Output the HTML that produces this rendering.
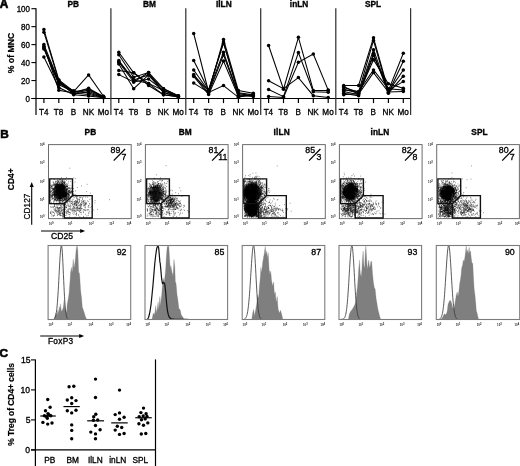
<!DOCTYPE html>
<html><head><meta charset="utf-8"><title>Figure</title>
<style>html,body{margin:0;padding:0;background:#fff;}svg{display:block;will-change:transform;filter:grayscale(1);}text{font-family:"Liberation Sans",sans-serif;}</style></head>
<body>
<svg width="520" height="466" viewBox="0 0 520 466" font-family="Liberation Sans, sans-serif">
<rect width="520" height="466" fill="#fff"/>
<defs><radialGradient id="blob"><stop offset="0" stop-color="#000" stop-opacity="1"/><stop offset="0.6" stop-color="#000" stop-opacity="0.96"/><stop offset="0.8" stop-color="#000" stop-opacity="0.62"/><stop offset="0.92" stop-color="#000" stop-opacity="0.2"/><stop offset="1" stop-color="#000" stop-opacity="0"/></radialGradient></defs>
<text transform="translate(-0.2,8.3) scale(1,1.16)" x="0" y="0" font-size="11.8" font-weight="bold" stroke="#000" stroke-width="0.6">A</text>
<line x1="36.00" y1="8.20" x2="36.00" y2="115.00" stroke="#000" stroke-width="1.2" />
<line x1="31.40" y1="98.50" x2="36.00" y2="98.50" stroke="#000" stroke-width="1.1" />
<text transform="translate(30.00,101.80) scale(0.93,1)" font-size="8.6" text-anchor="end" fill="#000" stroke="#000" stroke-width="0.32" >0</text>
<line x1="31.40" y1="80.54" x2="36.00" y2="80.54" stroke="#000" stroke-width="1.1" />
<text transform="translate(30.00,83.84) scale(0.93,1)" font-size="8.6" text-anchor="end" fill="#000" stroke="#000" stroke-width="0.32" >20</text>
<line x1="31.40" y1="62.58" x2="36.00" y2="62.58" stroke="#000" stroke-width="1.1" />
<text transform="translate(30.00,65.88) scale(0.93,1)" font-size="8.6" text-anchor="end" fill="#000" stroke="#000" stroke-width="0.32" >40</text>
<line x1="31.40" y1="44.62" x2="36.00" y2="44.62" stroke="#000" stroke-width="1.1" />
<text transform="translate(30.00,47.92) scale(0.93,1)" font-size="8.6" text-anchor="end" fill="#000" stroke="#000" stroke-width="0.32" >60</text>
<line x1="31.40" y1="26.66" x2="36.00" y2="26.66" stroke="#000" stroke-width="1.1" />
<text transform="translate(30.00,29.96) scale(0.93,1)" font-size="8.6" text-anchor="end" fill="#000" stroke="#000" stroke-width="0.32" >80</text>
<line x1="31.40" y1="8.70" x2="36.00" y2="8.70" stroke="#000" stroke-width="1.1" />
<text transform="translate(30.00,12.00) scale(0.93,1)" font-size="8.6" text-anchor="end" fill="#000" stroke="#000" stroke-width="0.32" >100</text>
<text transform="translate(14.1,53.0) rotate(-90)" font-size="8.7" font-weight="bold" stroke="#000" stroke-width="0.2" text-anchor="middle">% of MNC</text>
<line x1="31.40" y1="98.50" x2="410.60" y2="98.50" stroke="#000" stroke-width="1.1" />
<line x1="110.90" y1="8.20" x2="110.90" y2="115.00" stroke="#333" stroke-width="1.25" />
<line x1="185.80" y1="8.20" x2="185.80" y2="115.00" stroke="#333" stroke-width="1.25" />
<line x1="260.70" y1="8.20" x2="260.70" y2="115.00" stroke="#333" stroke-width="1.25" />
<line x1="335.80" y1="8.20" x2="335.80" y2="115.00" stroke="#333" stroke-width="1.25" />
<line x1="410.60" y1="8.20" x2="410.60" y2="115.00" stroke="#333" stroke-width="1.25" />
<text x="73.25" y="6.80" font-size="8.3" font-weight="bold" text-anchor="middle" fill="#000" stroke="#000" stroke-width="0.32" >PB</text>
<line x1="43.90" y1="98.50" x2="43.90" y2="103.10" stroke="#000" stroke-width="1.2" />
<text transform="translate(43.70,114.90) scale(0.95,1)" font-size="8.6" text-anchor="middle" fill="#000" stroke="#000" stroke-width="0.32" >T4</text>
<line x1="58.80" y1="98.50" x2="58.80" y2="103.10" stroke="#000" stroke-width="1.2" />
<text transform="translate(58.60,114.90) scale(0.95,1)" font-size="8.6" text-anchor="middle" fill="#000" stroke="#000" stroke-width="0.32" >T8</text>
<line x1="73.70" y1="98.50" x2="73.70" y2="103.10" stroke="#000" stroke-width="1.2" />
<text transform="translate(73.50,114.90) scale(0.95,1)" font-size="8.6" text-anchor="middle" fill="#000" stroke="#000" stroke-width="0.32" >B</text>
<line x1="88.60" y1="98.50" x2="88.60" y2="103.10" stroke="#000" stroke-width="1.2" />
<text transform="translate(88.40,114.90) scale(0.95,1)" font-size="8.6" text-anchor="middle" fill="#000" stroke="#000" stroke-width="0.32" >NK</text>
<line x1="103.50" y1="98.50" x2="103.50" y2="103.10" stroke="#000" stroke-width="1.2" />
<text transform="translate(103.30,114.90) scale(0.95,1)" font-size="8.6" text-anchor="middle" fill="#000" stroke="#000" stroke-width="0.32" >Mo</text>
<polyline points="43.9,29.6 58.8,79.8 73.7,91.5 88.6,74.9 103.5,96.2" fill="none" stroke="#000" stroke-width="1.05"/>
<circle cx="43.9" cy="29.6" r="1.75" fill="#000"/>
<circle cx="58.8" cy="79.8" r="1.75" fill="#000"/>
<circle cx="73.7" cy="91.5" r="1.75" fill="#000"/>
<circle cx="88.6" cy="74.9" r="1.75" fill="#000"/>
<circle cx="103.5" cy="96.2" r="1.75" fill="#000"/>
<polyline points="43.9,32.2 58.8,80.6 73.7,92.5 88.6,88.2 103.5,96.6" fill="none" stroke="#000" stroke-width="1.05"/>
<circle cx="43.9" cy="32.2" r="1.75" fill="#000"/>
<circle cx="58.8" cy="80.6" r="1.75" fill="#000"/>
<circle cx="73.7" cy="92.5" r="1.75" fill="#000"/>
<circle cx="88.6" cy="88.2" r="1.75" fill="#000"/>
<circle cx="103.5" cy="96.6" r="1.75" fill="#000"/>
<polyline points="43.9,44.5 58.8,81.2 73.7,93.5 88.6,90.0 103.5,97.0" fill="none" stroke="#000" stroke-width="1.05"/>
<circle cx="43.9" cy="44.5" r="1.75" fill="#000"/>
<circle cx="58.8" cy="81.2" r="1.75" fill="#000"/>
<circle cx="73.7" cy="93.5" r="1.75" fill="#000"/>
<circle cx="88.6" cy="90.0" r="1.75" fill="#000"/>
<circle cx="103.5" cy="97.0" r="1.75" fill="#000"/>
<polyline points="43.9,47.1 58.8,82.0 73.7,94.2 88.6,91.5 103.5,97.3" fill="none" stroke="#000" stroke-width="1.05"/>
<circle cx="43.9" cy="47.1" r="1.75" fill="#000"/>
<circle cx="58.8" cy="82.0" r="1.75" fill="#000"/>
<circle cx="73.7" cy="94.2" r="1.75" fill="#000"/>
<circle cx="88.6" cy="91.5" r="1.75" fill="#000"/>
<circle cx="103.5" cy="97.3" r="1.75" fill="#000"/>
<polyline points="43.9,48.9 58.8,83.0 73.7,90.8 88.6,93.0 103.5,97.6" fill="none" stroke="#000" stroke-width="1.05"/>
<circle cx="43.9" cy="48.9" r="1.75" fill="#000"/>
<circle cx="58.8" cy="83.0" r="1.75" fill="#000"/>
<circle cx="73.7" cy="90.8" r="1.75" fill="#000"/>
<circle cx="88.6" cy="93.0" r="1.75" fill="#000"/>
<circle cx="103.5" cy="97.6" r="1.75" fill="#000"/>
<polyline points="43.9,48.0 58.8,84.5 73.7,92.0 88.6,89.2 103.5,96.4" fill="none" stroke="#000" stroke-width="1.05"/>
<circle cx="43.9" cy="48.0" r="1.75" fill="#000"/>
<circle cx="58.8" cy="84.5" r="1.75" fill="#000"/>
<circle cx="73.7" cy="92.0" r="1.75" fill="#000"/>
<circle cx="88.6" cy="89.2" r="1.75" fill="#000"/>
<circle cx="103.5" cy="96.4" r="1.75" fill="#000"/>
<polyline points="43.9,57.1 58.8,87.5 73.7,94.8 88.6,96.0 103.5,97.8" fill="none" stroke="#000" stroke-width="1.05"/>
<circle cx="43.9" cy="57.1" r="1.75" fill="#000"/>
<circle cx="58.8" cy="87.5" r="1.75" fill="#000"/>
<circle cx="73.7" cy="94.8" r="1.75" fill="#000"/>
<circle cx="88.6" cy="96.0" r="1.75" fill="#000"/>
<circle cx="103.5" cy="97.8" r="1.75" fill="#000"/>
<polyline points="43.9,46.2 58.8,90.2 73.7,93.0 88.6,94.5 103.5,97.5" fill="none" stroke="#000" stroke-width="1.05"/>
<circle cx="43.9" cy="46.2" r="1.75" fill="#000"/>
<circle cx="58.8" cy="90.2" r="1.75" fill="#000"/>
<circle cx="73.7" cy="93.0" r="1.75" fill="#000"/>
<circle cx="88.6" cy="94.5" r="1.75" fill="#000"/>
<circle cx="103.5" cy="97.5" r="1.75" fill="#000"/>
<text x="149.55" y="6.80" font-size="8.3" font-weight="bold" text-anchor="middle" fill="#000" stroke="#000" stroke-width="0.32" >BM</text>
<line x1="118.80" y1="98.50" x2="118.80" y2="103.10" stroke="#000" stroke-width="1.2" />
<text transform="translate(118.60,114.90) scale(0.95,1)" font-size="8.6" text-anchor="middle" fill="#000" stroke="#000" stroke-width="0.32" >T4</text>
<line x1="133.70" y1="98.50" x2="133.70" y2="103.10" stroke="#000" stroke-width="1.2" />
<text transform="translate(133.50,114.90) scale(0.95,1)" font-size="8.6" text-anchor="middle" fill="#000" stroke="#000" stroke-width="0.32" >T8</text>
<line x1="148.60" y1="98.50" x2="148.60" y2="103.10" stroke="#000" stroke-width="1.2" />
<text transform="translate(148.40,114.90) scale(0.95,1)" font-size="8.6" text-anchor="middle" fill="#000" stroke="#000" stroke-width="0.32" >B</text>
<line x1="163.50" y1="98.50" x2="163.50" y2="103.10" stroke="#000" stroke-width="1.2" />
<text transform="translate(163.30,114.90) scale(0.95,1)" font-size="8.6" text-anchor="middle" fill="#000" stroke="#000" stroke-width="0.32" >NK</text>
<line x1="178.40" y1="98.50" x2="178.40" y2="103.10" stroke="#000" stroke-width="1.2" />
<text transform="translate(178.20,114.90) scale(0.95,1)" font-size="8.6" text-anchor="middle" fill="#000" stroke="#000" stroke-width="0.32" >Mo</text>
<polyline points="118.8,52.2 133.7,72.8 148.6,83.4 163.5,90.4 178.4,96.0" fill="none" stroke="#000" stroke-width="1.05"/>
<circle cx="118.8" cy="52.2" r="1.75" fill="#000"/>
<circle cx="133.7" cy="72.8" r="1.75" fill="#000"/>
<circle cx="148.6" cy="83.4" r="1.75" fill="#000"/>
<circle cx="163.5" cy="90.4" r="1.75" fill="#000"/>
<circle cx="178.4" cy="96.0" r="1.75" fill="#000"/>
<polyline points="118.8,54.7 133.7,77.2 148.6,72.5 163.5,88.7 178.4,95.7" fill="none" stroke="#000" stroke-width="1.05"/>
<circle cx="118.8" cy="54.7" r="1.75" fill="#000"/>
<circle cx="133.7" cy="77.2" r="1.75" fill="#000"/>
<circle cx="148.6" cy="72.5" r="1.75" fill="#000"/>
<circle cx="163.5" cy="88.7" r="1.75" fill="#000"/>
<circle cx="178.4" cy="95.7" r="1.75" fill="#000"/>
<polyline points="118.8,60.5 133.7,79.9 148.6,74.9 163.5,92.5 178.4,96.5" fill="none" stroke="#000" stroke-width="1.05"/>
<circle cx="118.8" cy="60.5" r="1.75" fill="#000"/>
<circle cx="133.7" cy="79.9" r="1.75" fill="#000"/>
<circle cx="148.6" cy="74.9" r="1.75" fill="#000"/>
<circle cx="163.5" cy="92.5" r="1.75" fill="#000"/>
<circle cx="178.4" cy="96.5" r="1.75" fill="#000"/>
<polyline points="118.8,62.3 133.7,82.0 148.6,79.0 163.5,90.4 178.4,97.1" fill="none" stroke="#000" stroke-width="1.05"/>
<circle cx="118.8" cy="62.3" r="1.75" fill="#000"/>
<circle cx="133.7" cy="82.0" r="1.75" fill="#000"/>
<circle cx="148.6" cy="79.0" r="1.75" fill="#000"/>
<circle cx="163.5" cy="90.4" r="1.75" fill="#000"/>
<circle cx="178.4" cy="97.1" r="1.75" fill="#000"/>
<polyline points="118.8,64.0 133.7,88.7 148.6,74.9 163.5,88.7 178.4,96.0" fill="none" stroke="#000" stroke-width="1.05"/>
<circle cx="118.8" cy="64.0" r="1.75" fill="#000"/>
<circle cx="133.7" cy="88.7" r="1.75" fill="#000"/>
<circle cx="148.6" cy="74.9" r="1.75" fill="#000"/>
<circle cx="163.5" cy="88.7" r="1.75" fill="#000"/>
<circle cx="178.4" cy="96.0" r="1.75" fill="#000"/>
<polyline points="118.8,70.5 133.7,72.8 148.6,85.5 163.5,94.8 178.4,97.1" fill="none" stroke="#000" stroke-width="1.05"/>
<circle cx="118.8" cy="70.5" r="1.75" fill="#000"/>
<circle cx="133.7" cy="72.8" r="1.75" fill="#000"/>
<circle cx="148.6" cy="85.5" r="1.75" fill="#000"/>
<circle cx="163.5" cy="94.8" r="1.75" fill="#000"/>
<circle cx="178.4" cy="97.1" r="1.75" fill="#000"/>
<polyline points="118.8,74.6 133.7,82.0 148.6,72.5 163.5,92.5 178.4,97.1" fill="none" stroke="#000" stroke-width="1.05"/>
<circle cx="118.8" cy="74.6" r="1.75" fill="#000"/>
<circle cx="133.7" cy="82.0" r="1.75" fill="#000"/>
<circle cx="148.6" cy="72.5" r="1.75" fill="#000"/>
<circle cx="163.5" cy="92.5" r="1.75" fill="#000"/>
<circle cx="178.4" cy="97.1" r="1.75" fill="#000"/>
<polyline points="118.8,61.5 133.7,79.9 148.6,83.4 163.5,94.8 178.4,96.5" fill="none" stroke="#000" stroke-width="1.05"/>
<circle cx="118.8" cy="61.5" r="1.75" fill="#000"/>
<circle cx="133.7" cy="79.9" r="1.75" fill="#000"/>
<circle cx="148.6" cy="83.4" r="1.75" fill="#000"/>
<circle cx="163.5" cy="94.8" r="1.75" fill="#000"/>
<circle cx="178.4" cy="96.5" r="1.75" fill="#000"/>
<text x="223.85" y="6.80" font-size="8.3" font-weight="bold" text-anchor="middle" fill="#000" stroke="#000" stroke-width="0.32" >IlLN</text>
<line x1="193.70" y1="98.50" x2="193.70" y2="103.10" stroke="#000" stroke-width="1.2" />
<text transform="translate(193.50,114.90) scale(0.95,1)" font-size="8.6" text-anchor="middle" fill="#000" stroke="#000" stroke-width="0.32" >T4</text>
<line x1="208.60" y1="98.50" x2="208.60" y2="103.10" stroke="#000" stroke-width="1.2" />
<text transform="translate(208.40,114.90) scale(0.95,1)" font-size="8.6" text-anchor="middle" fill="#000" stroke="#000" stroke-width="0.32" >T8</text>
<line x1="223.50" y1="98.50" x2="223.50" y2="103.10" stroke="#000" stroke-width="1.2" />
<text transform="translate(223.30,114.90) scale(0.95,1)" font-size="8.6" text-anchor="middle" fill="#000" stroke="#000" stroke-width="0.32" >B</text>
<line x1="238.40" y1="98.50" x2="238.40" y2="103.10" stroke="#000" stroke-width="1.2" />
<text transform="translate(238.20,114.90) scale(0.95,1)" font-size="8.6" text-anchor="middle" fill="#000" stroke="#000" stroke-width="0.32" >NK</text>
<line x1="253.30" y1="98.50" x2="253.30" y2="103.10" stroke="#000" stroke-width="1.2" />
<text transform="translate(253.10,114.90) scale(0.95,1)" font-size="8.6" text-anchor="middle" fill="#000" stroke="#000" stroke-width="0.32" >Mo</text>
<polyline points="193.7,33.5 208.6,92.0 223.5,39.4 238.4,90.6 253.3,93.2" fill="none" stroke="#000" stroke-width="1.05"/>
<circle cx="193.7" cy="33.5" r="1.75" fill="#000"/>
<circle cx="208.6" cy="92.0" r="1.75" fill="#000"/>
<circle cx="223.5" cy="39.4" r="1.75" fill="#000"/>
<circle cx="238.4" cy="90.6" r="1.75" fill="#000"/>
<circle cx="253.3" cy="93.2" r="1.75" fill="#000"/>
<polyline points="193.7,60.5 208.6,90.0 223.5,43.2 238.4,92.7 253.3,94.7" fill="none" stroke="#000" stroke-width="1.05"/>
<circle cx="193.7" cy="60.5" r="1.75" fill="#000"/>
<circle cx="208.6" cy="90.0" r="1.75" fill="#000"/>
<circle cx="223.5" cy="43.2" r="1.75" fill="#000"/>
<circle cx="238.4" cy="92.7" r="1.75" fill="#000"/>
<circle cx="253.3" cy="94.7" r="1.75" fill="#000"/>
<polyline points="193.7,70.0 208.6,91.0 223.5,52.3 238.4,94.7 253.3,95.6" fill="none" stroke="#000" stroke-width="1.05"/>
<circle cx="193.7" cy="70.0" r="1.75" fill="#000"/>
<circle cx="208.6" cy="91.0" r="1.75" fill="#000"/>
<circle cx="223.5" cy="52.3" r="1.75" fill="#000"/>
<circle cx="238.4" cy="94.7" r="1.75" fill="#000"/>
<circle cx="253.3" cy="95.6" r="1.75" fill="#000"/>
<polyline points="193.7,74.6 208.6,93.0 223.5,54.8 238.4,95.5 253.3,96.5" fill="none" stroke="#000" stroke-width="1.05"/>
<circle cx="193.7" cy="74.6" r="1.75" fill="#000"/>
<circle cx="208.6" cy="93.0" r="1.75" fill="#000"/>
<circle cx="223.5" cy="54.8" r="1.75" fill="#000"/>
<circle cx="238.4" cy="95.5" r="1.75" fill="#000"/>
<circle cx="253.3" cy="96.5" r="1.75" fill="#000"/>
<polyline points="193.7,76.4 208.6,94.5 223.5,61.0 238.4,96.5 253.3,95.0" fill="none" stroke="#000" stroke-width="1.05"/>
<circle cx="193.7" cy="76.4" r="1.75" fill="#000"/>
<circle cx="208.6" cy="94.5" r="1.75" fill="#000"/>
<circle cx="223.5" cy="61.0" r="1.75" fill="#000"/>
<circle cx="238.4" cy="96.5" r="1.75" fill="#000"/>
<circle cx="253.3" cy="95.0" r="1.75" fill="#000"/>
<polyline points="193.7,83.1 208.6,92.5 223.5,85.5 238.4,97.3 253.3,94.0" fill="none" stroke="#000" stroke-width="1.05"/>
<circle cx="193.7" cy="83.1" r="1.75" fill="#000"/>
<circle cx="208.6" cy="92.5" r="1.75" fill="#000"/>
<circle cx="223.5" cy="85.5" r="1.75" fill="#000"/>
<circle cx="238.4" cy="97.3" r="1.75" fill="#000"/>
<circle cx="253.3" cy="94.0" r="1.75" fill="#000"/>
<polyline points="193.7,75.5 208.6,90.5 223.5,42.0 238.4,93.5 253.3,96.0" fill="none" stroke="#000" stroke-width="1.05"/>
<circle cx="193.7" cy="75.5" r="1.75" fill="#000"/>
<circle cx="208.6" cy="90.5" r="1.75" fill="#000"/>
<circle cx="223.5" cy="42.0" r="1.75" fill="#000"/>
<circle cx="238.4" cy="93.5" r="1.75" fill="#000"/>
<circle cx="253.3" cy="96.0" r="1.75" fill="#000"/>
<text x="299.05" y="6.80" font-size="8.3" font-weight="bold" text-anchor="middle" fill="#000" stroke="#000" stroke-width="0.32" >inLN</text>
<line x1="268.60" y1="98.50" x2="268.60" y2="103.10" stroke="#000" stroke-width="1.2" />
<text transform="translate(268.40,114.90) scale(0.95,1)" font-size="8.6" text-anchor="middle" fill="#000" stroke="#000" stroke-width="0.32" >T4</text>
<line x1="283.50" y1="98.50" x2="283.50" y2="103.10" stroke="#000" stroke-width="1.2" />
<text transform="translate(283.30,114.90) scale(0.95,1)" font-size="8.6" text-anchor="middle" fill="#000" stroke="#000" stroke-width="0.32" >T8</text>
<line x1="298.40" y1="98.50" x2="298.40" y2="103.10" stroke="#000" stroke-width="1.2" />
<text transform="translate(298.20,114.90) scale(0.95,1)" font-size="8.6" text-anchor="middle" fill="#000" stroke="#000" stroke-width="0.32" >B</text>
<line x1="313.30" y1="98.50" x2="313.30" y2="103.10" stroke="#000" stroke-width="1.2" />
<text transform="translate(313.10,114.90) scale(0.95,1)" font-size="8.6" text-anchor="middle" fill="#000" stroke="#000" stroke-width="0.32" >NK</text>
<line x1="328.20" y1="98.50" x2="328.20" y2="103.10" stroke="#000" stroke-width="1.2" />
<text transform="translate(328.00,114.90) scale(0.95,1)" font-size="8.6" text-anchor="middle" fill="#000" stroke="#000" stroke-width="0.32" >Mo</text>
<polyline points="268.6,45.5 283.5,89.2 298.4,37.3 313.3,90.4 328.2,90.4" fill="none" stroke="#000" stroke-width="1.05"/>
<circle cx="268.6" cy="45.5" r="1.75" fill="#000"/>
<circle cx="283.5" cy="89.2" r="1.75" fill="#000"/>
<circle cx="298.4" cy="37.3" r="1.75" fill="#000"/>
<circle cx="313.3" cy="90.4" r="1.75" fill="#000"/>
<circle cx="328.2" cy="90.4" r="1.75" fill="#000"/>
<polyline points="268.6,80.7 283.5,88.7 298.4,77.6 313.3,95.7 328.2,97.5" fill="none" stroke="#000" stroke-width="1.05"/>
<circle cx="268.6" cy="80.7" r="1.75" fill="#000"/>
<circle cx="283.5" cy="88.7" r="1.75" fill="#000"/>
<circle cx="298.4" cy="77.6" r="1.75" fill="#000"/>
<circle cx="313.3" cy="95.7" r="1.75" fill="#000"/>
<circle cx="328.2" cy="97.5" r="1.75" fill="#000"/>
<polyline points="268.6,89.5 283.5,96.6 298.4,52.6 313.3,91.8 328.2,92.2" fill="none" stroke="#000" stroke-width="1.05"/>
<circle cx="268.6" cy="89.5" r="1.75" fill="#000"/>
<circle cx="283.5" cy="96.6" r="1.75" fill="#000"/>
<circle cx="298.4" cy="52.6" r="1.75" fill="#000"/>
<circle cx="313.3" cy="91.8" r="1.75" fill="#000"/>
<circle cx="328.2" cy="92.2" r="1.75" fill="#000"/>
<polyline points="268.6,96.6 283.5,97.5 298.4,62.3 313.3,54.0 328.2,90.1" fill="none" stroke="#000" stroke-width="1.05"/>
<circle cx="268.6" cy="96.6" r="1.75" fill="#000"/>
<circle cx="283.5" cy="97.5" r="1.75" fill="#000"/>
<circle cx="298.4" cy="62.3" r="1.75" fill="#000"/>
<circle cx="313.3" cy="54.0" r="1.75" fill="#000"/>
<circle cx="328.2" cy="90.1" r="1.75" fill="#000"/>
<text x="373.00" y="6.80" font-size="8.3" font-weight="bold" text-anchor="middle" fill="#000" stroke="#000" stroke-width="0.32" >SPL</text>
<line x1="343.70" y1="98.50" x2="343.70" y2="103.10" stroke="#000" stroke-width="1.2" />
<text transform="translate(343.50,114.90) scale(0.95,1)" font-size="8.6" text-anchor="middle" fill="#000" stroke="#000" stroke-width="0.32" >T4</text>
<line x1="358.60" y1="98.50" x2="358.60" y2="103.10" stroke="#000" stroke-width="1.2" />
<text transform="translate(358.40,114.90) scale(0.95,1)" font-size="8.6" text-anchor="middle" fill="#000" stroke="#000" stroke-width="0.32" >T8</text>
<line x1="373.50" y1="98.50" x2="373.50" y2="103.10" stroke="#000" stroke-width="1.2" />
<text transform="translate(373.30,114.90) scale(0.95,1)" font-size="8.6" text-anchor="middle" fill="#000" stroke="#000" stroke-width="0.32" >B</text>
<line x1="388.40" y1="98.50" x2="388.40" y2="103.10" stroke="#000" stroke-width="1.2" />
<text transform="translate(388.20,114.90) scale(0.95,1)" font-size="8.6" text-anchor="middle" fill="#000" stroke="#000" stroke-width="0.32" >NK</text>
<line x1="403.30" y1="98.50" x2="403.30" y2="103.10" stroke="#000" stroke-width="1.2" />
<text transform="translate(403.10,114.90) scale(0.95,1)" font-size="8.6" text-anchor="middle" fill="#000" stroke="#000" stroke-width="0.32" >Mo</text>
<polyline points="343.7,85.5 358.6,85.5 373.5,37.8 388.4,90.6 403.3,53.3" fill="none" stroke="#000" stroke-width="1.05"/>
<circle cx="343.7" cy="85.5" r="1.75" fill="#000"/>
<circle cx="358.6" cy="85.5" r="1.75" fill="#000"/>
<circle cx="373.5" cy="37.8" r="1.75" fill="#000"/>
<circle cx="388.4" cy="90.6" r="1.75" fill="#000"/>
<circle cx="403.3" cy="53.3" r="1.75" fill="#000"/>
<polyline points="343.7,87.5 358.6,92.0 373.5,40.4 388.4,92.7 403.3,61.3" fill="none" stroke="#000" stroke-width="1.05"/>
<circle cx="343.7" cy="87.5" r="1.75" fill="#000"/>
<circle cx="358.6" cy="92.0" r="1.75" fill="#000"/>
<circle cx="373.5" cy="40.4" r="1.75" fill="#000"/>
<circle cx="388.4" cy="92.7" r="1.75" fill="#000"/>
<circle cx="403.3" cy="61.3" r="1.75" fill="#000"/>
<polyline points="343.7,89.3 358.6,93.2 373.5,49.7 388.4,91.9 403.3,70.0" fill="none" stroke="#000" stroke-width="1.05"/>
<circle cx="343.7" cy="89.3" r="1.75" fill="#000"/>
<circle cx="358.6" cy="93.2" r="1.75" fill="#000"/>
<circle cx="373.5" cy="49.7" r="1.75" fill="#000"/>
<circle cx="388.4" cy="91.9" r="1.75" fill="#000"/>
<circle cx="403.3" cy="70.0" r="1.75" fill="#000"/>
<polyline points="343.7,91.4 358.6,94.7 373.5,53.3 388.4,93.2 403.3,76.2" fill="none" stroke="#000" stroke-width="1.05"/>
<circle cx="343.7" cy="91.4" r="1.75" fill="#000"/>
<circle cx="358.6" cy="94.7" r="1.75" fill="#000"/>
<circle cx="373.5" cy="53.3" r="1.75" fill="#000"/>
<circle cx="388.4" cy="93.2" r="1.75" fill="#000"/>
<circle cx="403.3" cy="76.2" r="1.75" fill="#000"/>
<polyline points="343.7,93.2 358.6,95.8 373.5,55.3 388.4,90.0 403.3,81.6" fill="none" stroke="#000" stroke-width="1.05"/>
<circle cx="343.7" cy="93.2" r="1.75" fill="#000"/>
<circle cx="358.6" cy="95.8" r="1.75" fill="#000"/>
<circle cx="373.5" cy="55.3" r="1.75" fill="#000"/>
<circle cx="388.4" cy="90.0" r="1.75" fill="#000"/>
<circle cx="403.3" cy="81.6" r="1.75" fill="#000"/>
<polyline points="343.7,94.7 358.6,93.5 373.5,59.7 388.4,83.7 403.3,88.3" fill="none" stroke="#000" stroke-width="1.05"/>
<circle cx="343.7" cy="94.7" r="1.75" fill="#000"/>
<circle cx="358.6" cy="93.5" r="1.75" fill="#000"/>
<circle cx="373.5" cy="59.7" r="1.75" fill="#000"/>
<circle cx="388.4" cy="83.7" r="1.75" fill="#000"/>
<circle cx="403.3" cy="88.3" r="1.75" fill="#000"/>
<polyline points="343.7,90.0 358.6,91.5 373.5,70.0 388.4,88.8 403.3,90.0" fill="none" stroke="#000" stroke-width="1.05"/>
<circle cx="343.7" cy="90.0" r="1.75" fill="#000"/>
<circle cx="358.6" cy="91.5" r="1.75" fill="#000"/>
<circle cx="373.5" cy="70.0" r="1.75" fill="#000"/>
<circle cx="388.4" cy="88.8" r="1.75" fill="#000"/>
<circle cx="403.3" cy="90.0" r="1.75" fill="#000"/>
<polyline points="343.7,86.5 358.6,94.0 373.5,72.6 388.4,92.0 403.3,91.4" fill="none" stroke="#000" stroke-width="1.05"/>
<circle cx="343.7" cy="86.5" r="1.75" fill="#000"/>
<circle cx="358.6" cy="94.0" r="1.75" fill="#000"/>
<circle cx="373.5" cy="72.6" r="1.75" fill="#000"/>
<circle cx="388.4" cy="92.0" r="1.75" fill="#000"/>
<circle cx="403.3" cy="91.4" r="1.75" fill="#000"/>
<text x="0.20" y="138.10" font-size="11.8" font-weight="bold" text-anchor="start" fill="#000" stroke="#000"  stroke-width="0.6">B</text>
<text x="90.45" y="134.90" font-size="8.3" font-weight="bold" text-anchor="middle" fill="#000" stroke="#000" stroke-width="0.32" letter-spacing="0.15">PB</text>
<clipPath id="cp0"><rect x="49.10" y="144.6" width="82.7" height="73.50"/></clipPath>
<g clip-path="url(#cp0)" opacity="1.0">
<ellipse cx="60.1" cy="191.8" rx="7.4" ry="8.6" fill="url(#blob)"/>
<ellipse cx="62.2" cy="186.9" rx="3.2" ry="2.3" fill="url(#blob)" opacity="0.8"/>
<ellipse cx="64.5" cy="195.2" rx="3.3" ry="2.3" fill="url(#blob)" opacity="0.8"/>
<ellipse cx="63.9" cy="193.2" rx="3.5" ry="2.5" fill="url(#blob)" opacity="0.8"/>
<ellipse cx="57.6" cy="186.5" rx="3.1" ry="3.5" fill="url(#blob)" opacity="0.8"/>
<ellipse cx="59.8" cy="196.3" rx="2.2" ry="3.3" fill="url(#blob)" opacity="0.8"/>
<ellipse cx="64.3" cy="195.5" rx="3.2" ry="2.5" fill="url(#blob)" opacity="0.8"/>
<ellipse cx="61.5" cy="187.6" rx="2.9" ry="2.3" fill="url(#blob)" opacity="0.8"/>
<ellipse cx="61.3" cy="186.0" rx="3.5" ry="2.2" fill="url(#blob)" opacity="0.8"/>
<ellipse cx="62.8" cy="187.5" rx="3.3" ry="2.9" fill="url(#blob)" opacity="0.8"/>
</g>
<path d="M52.4 196.2h.7M65.8 189.6h.7M50.1 200.4h.7M68.8 194.8h.7M57.1 200.7h.7M62.7 198.0h.7M62.1 184.1h.7M60.3 198.6h.7M50.8 190.1h.7M59.6 187.6h.7M56.3 184.1h.7M51.7 187.1h.7M57.3 199.2h.7M55.1 188.0h.7M51.6 194.5h.7M66.7 194.8h.7M51.4 178.7h.7M52.9 198.5h.7M66.4 185.4h.7M54.1 200.2h.7M66.8 189.5h.7M53.8 191.1h.7M59.4 190.3h.7M61.9 181.4h.7M65.3 196.3h.7M59.4 192.7h.7M68.6 178.5h.7M69.2 190.4h.7M64.0 199.6h.7M52.3 190.0h.7M69.1 190.8h.7M63.0 182.8h.7M64.9 190.3h.7M71.5 190.8h.7M67.2 186.0h.7M53.5 192.8h.7M66.9 186.9h.7M67.1 189.1h.7M67.0 186.5h.7M65.3 199.5h.7M66.8 190.9h.7M56.7 197.1h.7M60.6 192.4h.7M56.8 186.7h.7M51.6 196.1h.7M51.5 186.2h.7M51.1 197.4h.7M68.3 192.0h.7M52.5 188.7h.7M64.7 195.9h.7M54.2 191.5h.7M60.7 180.3h.7M54.2 194.3h.7M66.8 188.9h.7M67.9 183.1h.7M59.7 198.4h.7M68.4 188.3h.7M56.2 183.8h.7M58.7 189.4h.7M63.3 191.1h.7M55.8 195.4h.7M57.0 199.4h.7M65.9 192.6h.7M68.2 190.9h.7M67.8 194.0h.7M67.3 186.7h.7M60.0 194.8h.7M53.6 188.3h.7M58.5 192.7h.7M54.6 184.8h.7M67.9 196.9h.7M68.5 196.0h.7M67.5 192.6h.7M58.3 184.7h.7M65.1 183.0h.7M56.7 193.2h.7M65.8 190.7h.7M60.5 205.3h.7M60.8 198.7h.7M52.6 190.2h.7M56.1 184.9h.7M65.1 187.2h.7M59.2 182.3h.7M64.3 183.7h.7M62.9 185.7h.7M65.5 186.9h.7M63.1 186.1h.7M55.6 186.6h.7M62.4 183.5h.7M67.0 195.2h.7M53.2 192.8h.7M60.8 184.6h.7M59.9 200.4h.7M58.1 198.1h.7M56.8 184.8h.7M62.5 189.7h.7M65.2 179.4h.7M63.6 196.7h.7M65.8 198.9h.7M50.5 191.2h.7M59.1 188.2h.7M61.3 189.6h.7M57.8 180.9h.7M66.2 191.7h.7M57.7 203.7h.7M61.7 196.5h.7M66.4 185.5h.7M53.2 183.4h.7M65.5 189.4h.7M52.8 194.4h.7M58.3 198.1h.7M62.7 202.7h.7M56.9 191.9h.7M51.4 187.2h.7M63.5 193.4h.7M68.7 188.9h.7M57.6 181.1h.7M54.1 193.0h.7M64.7 191.8h.7M64.2 182.7h.7M67.0 188.8h.7M55.4 184.7h.7M54.5 193.5h.7M67.9 194.0h.7M61.2 203.4h.7M60.0 199.2h.7M54.1 190.7h.7M66.5 189.9h.7M60.3 205.0h.7M53.2 191.9h.7M62.7 200.6h.7M56.9 204.1h.7M54.2 195.6h.7M63.0 205.5h.7M52.4 198.7h.7M65.7 186.2h.7M70.8 191.6h.7M58.7 194.7h.7M53.3 202.2h.7M68.6 201.2h.7M55.7 192.6h.7M61.6 196.4h.7M69.7 196.3h.7M59.8 200.4h.7M66.2 189.9h.7M59.5 200.0h.7M60.5 180.2h.7M52.8 182.5h.7M71.1 188.3h.7M63.5 200.3h.7M59.5 182.2h.7M61.0 184.8h.7M65.8 193.2h.7M54.2 204.7h.7M70.3 181.5h.7M52.9 191.9h.7M55.1 186.5h.7M60.0 181.7h.7M58.5 198.3h.7M54.8 197.9h.7M65.6 200.7h.7M62.5 184.7h.7M63.8 182.8h.7M62.3 194.1h.7M50.9 185.8h.7M53.7 199.3h.7M54.7 187.4h.7M62.5 200.7h.7M55.5 195.8h.7M56.1 203.8h.7M57.8 198.0h.7M57.1 196.0h.7M52.2 197.8h.7M53.9 189.4h.7M58.9 198.0h.7M71.8 186.8h.7M58.6 192.0h.7M52.5 199.1h.7M53.9 185.1h.7M64.4 199.5h.7M64.7 196.5h.7M54.0 189.5h.7M54.1 195.2h.7M60.8 182.8h.7M66.4 193.7h.7M66.6 196.0h.7M55.6 191.7h.7M66.0 199.5h.7M67.6 191.6h.7M61.3 188.7h.7M60.2 188.7h.7M58.8 201.2h.7M63.5 196.6h.7M65.8 202.2h.7M55.9 181.8h.7M64.0 199.8h.7M54.2 199.9h.7M54.4 189.5h.7M61.7 190.2h.7M58.8 207.6h.7M68.2 194.7h.7M59.9 199.2h.7M66.2 191.1h.7M55.1 194.4h.7M54.8 188.3h.7M61.9 198.8h.7M57.7 192.2h.7M54.1 183.8h.7M66.7 192.3h.7M49.9 196.0h.7M59.7 187.9h.7M65.9 192.3h.7M59.6 193.4h.7M61.6 183.7h.7M69.0 192.2h.7M60.1 183.8h.7M64.2 185.0h.7M59.5 198.4h.7M52.6 195.4h.7M63.2 191.0h.7M59.7 179.3h.7M60.0 187.2h.7M58.5 195.2h.7M55.3 186.0h.7M53.6 179.3h.7M51.5 193.7h.7M57.2 182.1h.7M53.3 195.0h.7M58.8 190.3h.7M55.4 185.8h.7M54.6 199.1h.7M64.2 181.9h.7M68.6 196.0h.7M69.6 185.4h.7M68.8 194.0h.7M62.6 185.0h.7M63.1 185.3h.7M58.6 199.9h.7M57.4 195.2h.7M51.1 191.6h.7M52.8 195.3h.7M56.0 198.5h.7M57.0 190.9h.7M67.3 197.0h.7M61.1 177.5h.7M55.1 199.8h.7M59.4 204.3h.7M67.2 196.3h.7M57.5 183.2h.7M52.5 198.5h.7M68.4 197.4h.7M52.5 190.1h.7M60.2 184.3h.7M63.8 185.4h.7M61.0 185.0h.7M63.7 195.9h.7M57.5 182.2h.7M58.7 194.8h.7M59.8 189.4h.7M63.7 194.9h.7M62.2 183.7h.7M53.9 196.6h.7M58.5 181.3h.7M61.2 183.8h.7M64.3 185.5h.7M61.6 183.8h.7M53.9 193.8h.7M54.3 196.0h.7M64.4 199.5h.7M53.6 191.2h.7M54.0 197.3h.7M69.6 202.2h.7M53.8 195.7h.7M59.5 179.5h.7M61.5 182.5h.7M61.9 205.0h.7M56.1 197.7h.7M63.6 183.1h.7M66.3 198.8h.7M54.6 199.8h.7M55.7 186.0h.7M53.2 200.9h.7M66.8 186.7h.7M65.6 199.4h.7M66.5 189.5h.7M60.9 200.8h.7M58.6 194.3h.7M60.8 188.8h.7M53.9 186.1h.7M55.3 182.2h.7M62.2 182.1h.7M62.4 199.4h.7M52.7 190.2h.7M51.3 195.9h.7M54.4 191.9h.7M68.9 192.2h.7M54.3 193.1h.7M55.6 183.2h.7M56.7 195.6h.7M65.9 195.2h.7M55.7 180.8h.7M53.8 204.7h.7M54.8 191.4h.7M67.3 193.5h.7M57.1 188.5h.7M54.9 194.9h.7M55.5 184.2h.7M54.5 188.0h.7M64.4 187.5h.7M63.9 202.7h.7M54.9 187.0h.7M62.5 180.7h.7M55.2 187.1h.7M55.1 186.1h.7M54.4 187.3h.7M61.7 199.3h.7M52.6 194.1h.7M61.7 180.4h.7M61.4 185.3h.7M50.9 186.5h.7M51.0 185.1h.7M65.4 196.3h.7M67.1 192.0h.7M68.7 201.2h.7M68.0 197.3h.7M60.5 200.2h.7M58.0 181.8h.7M58.8 186.2h.7M59.8 205.2h.7M55.1 184.0h.7M64.7 200.7h.7M65.1 199.1h.7M55.8 197.5h.7M62.6 179.6h.7M61.4 185.2h.7M59.7 193.6h.7M57.6 182.5h.7M57.0 198.0h.7M68.7 190.4h.7M52.2 185.2h.7M64.0 181.9h.7M68.5 194.4h.7M63.6 182.1h.7M56.8 190.0h.7M62.6 184.4h.7M52.3 188.7h.7M62.4 200.0h.7M59.9 200.5h.7M62.9 183.4h.7M60.8 198.6h.7M67.7 185.3h.7M75.2 196.7h.7M73.8 195.1h.7M59.5 200.8h.7M50.2 197.4h.7M61.0 182.2h.7M65.7 193.9h.7M63.6 187.6h.7M58.2 193.4h.7M59.8 198.5h.7M52.8 181.7h.7M66.5 203.2h.7M59.9 196.6h.7M67.3 186.2h.7M67.8 194.5h.7M58.4 184.5h.7M60.4 179.5h.7M60.5 193.1h.7M62.1 203.7h.7M66.6 183.7h.7M68.1 187.5h.7M58.8 185.4h.7M65.8 200.1h.7M58.9 201.7h.7M56.0 202.0h.7M69.7 201.3h.7M69.3 195.7h.7M50.8 203.8h.7M70.6 191.7h.7M63.2 194.3h.7M67.0 194.8h.7M56.7 205.7h.7M68.4 192.7h.7M50.8 196.3h.7M61.3 198.4h.7M65.5 195.5h.7M54.6 186.5h.7M62.4 185.4h.7M53.9 196.3h.7M68.0 195.0h.7M55.6 200.4h.7M64.5 188.6h.7M58.2 182.5h.7M54.5 197.7h.7M68.8 195.8h.7M67.5 198.1h.7M52.4 186.2h.7M63.7 197.2h.7M67.5 188.6h.7M63.5 181.0h.7M63.6 182.5h.7M65.3 193.9h.7M62.6 192.2h.7M61.9 179.7h.7M54.5 184.8h.7M67.2 184.6h.7M66.5 193.4h.7M59.4 199.6h.7M59.3 198.2h.7M65.8 188.5h.7M65.0 195.2h.7M63.5 185.8h.7M54.1 188.6h.7M62.3 199.6h.7M54.5 193.4h.7M55.6 196.4h.7M64.4 192.2h.7M60.5 198.4h.7M56.3 192.0h.7M57.9 200.4h.7M61.0 193.4h.7M53.1 194.9h.7M62.6 194.2h.7M56.0 198.0h.7M53.4 185.0h.7M59.8 183.0h.7M52.1 193.2h.7M57.5 180.7h.7M66.6 199.3h.7M67.9 192.0h.7M55.5 188.7h.7M64.5 186.7h.7M62.2 182.0h.7M58.4 190.7h.7M56.1 200.8h.7M66.2 180.6h.7M61.5 197.1h.7M49.8 192.0h.7M60.9 185.4h.7M53.5 202.0h.7M51.6 187.0h.7M62.0 195.8h.7M65.6 186.9h.7M66.1 177.5h.7M56.7 188.9h.7M54.2 187.8h.7M59.4 199.3h.7M64.4 199.1h.7M51.6 190.4h.7M53.8 185.7h.7M56.9 199.2h.7M68.2 198.4h.7M58.9 192.9h.7M50.0 185.3h.7M54.2 194.5h.7M60.1 193.4h.7M62.5 188.2h.7M65.3 190.3h.7M60.8 196.2h.7M52.0 192.7h.7M64.9 204.6h.7M58.6 198.3h.7M66.7 193.5h.7M59.3 186.8h.7M63.0 204.1h.7M65.0 197.8h.7M59.4 202.9h.7M57.6 189.5h.7M59.1 200.7h.7M55.1 196.8h.7M62.6 193.5h.7M57.2 198.7h.7M64.7 196.0h.7M65.2 197.7h.7M59.2 197.0h.7M61.6 181.2h.7M66.9 193.2h.7M56.2 185.0h.7M60.2 201.9h.7M56.2 197.7h.7M61.0 194.1h.7M59.4 183.6h.7M63.9 200.8h.7M53.5 188.3h.7M63.9 186.2h.7M60.9 188.3h.7M54.1 197.1h.7M64.7 190.0h.7M57.4 183.8h.7M63.2 185.4h.7M55.1 194.5h.7M65.5 198.1h.7M67.0 194.0h.7M66.5 190.4h.7M55.1 191.3h.7M57.8 195.3h.7M63.8 197.0h.7M55.9 200.1h.7M52.7 189.2h.7M63.4 198.5h.7M60.7 192.1h.7M66.0 191.0h.7M62.2 197.8h.7M70.4 192.4h.7M56.1 186.0h.7M66.2 188.8h.7M67.9 193.4h.7M54.3 184.1h.7M63.8 184.3h.7M54.2 199.0h.7M54.2 184.9h.7M57.3 180.9h.7M66.2 195.6h.7M62.7 196.6h.7M62.8 199.6h.7M68.9 192.0h.7M65.1 184.6h.7M53.8 194.7h.7M64.7 181.8h.7M70.0 189.8h.7M68.4 181.3h.7M66.3 190.1h.7M58.8 196.3h.7M55.9 196.7h.7M64.6 187.6h.7M67.1 198.5h.7M61.0 198.5h.7M51.6 195.6h.7M53.2 189.2h.7M60.2 189.2h.7M57.9 193.8h.7M52.8 188.3h.7M65.3 198.6h.7M66.3 192.5h.7M51.5 196.7h.7M53.3 184.5h.7M50.6 187.3h.7M55.9 199.2h.7M56.5 183.0h.7M67.1 189.1h.7M66.1 193.7h.7M64.8 195.6h.7M60.8 189.4h.7M51.8 195.1h.7M66.5 197.8h.7M62.4 197.9h.7M58.4 199.5h.7M58.2 193.8h.7M53.3 189.9h.7M64.1 180.0h.7M50.8 191.7h.7M63.0 184.7h.7M62.7 187.5h.7M62.1 202.6h.7M59.6 198.5h.7M61.3 181.3h.7M61.1 184.5h.7M62.7 181.7h.7M66.5 188.8h.7M57.5 200.1h.7M56.7 197.1h.7M54.0 205.7h.7M69.4 192.3h.7M49.8 187.9h.7M54.5 201.7h.7M55.2 198.8h.7M51.8 196.4h.7M64.9 194.3h.7M52.8 185.5h.7M66.2 190.2h.7M67.5 196.3h.7M62.3 197.8h.7M53.5 182.7h.7M66.3 193.9h.7M65.4 188.8h.7M67.2 196.9h.7M53.8 189.2h.7M59.7 200.0h.7M60.8 182.8h.7M57.2 200.1h.7M55.7 184.4h.7M51.1 203.7h.7M61.2 200.5h.7M64.6 203.0h.7M59.3 180.1h.7M60.7 206.6h.7M53.6 191.8h.7M55.5 199.5h.7M56.2 192.9h.7M65.9 197.1h.7M66.2 194.8h.7M52.6 197.8h.7M65.6 194.3h.7M51.4 198.1h.7M66.2 189.3h.7M60.5 184.4h.7M55.7 207.8h.7M61.3 198.4h.7M65.2 200.4h.7M50.5 192.8h.7M63.8 198.5h.7M62.4 189.4h.7M55.0 198.8h.7M62.0 189.3h.7M69.6 200.9h.7M70.2 192.5h.7M64.5 198.7h.7M63.6 194.3h.7M58.1 181.3h.7M61.9 184.1h.7M64.1 191.5h.7M64.6 198.6h.7M49.8 192.1h.7M58.2 194.7h.7M65.6 186.2h.7M55.2 195.4h.7M56.8 186.5h.7M53.4 189.4h.7M69.4 190.6h.7M70.4 206.4h.7M66.4 192.0h.7M66.7 198.5h.7M62.2 180.7h.7M66.8 194.3h.7M57.1 198.5h.7M56.3 190.4h.7M67.7 191.9h.7M59.2 203.1h.7M52.8 193.2h.7M66.7 201.1h.7M64.7 182.1h.7M64.3 183.5h.7M62.4 183.4h.7M64.2 198.1h.7M61.8 184.8h.7M55.2 197.9h.7M50.9 186.2h.7M64.5 204.7h.7M66.4 186.7h.7M66.2 192.9h.7M55.6 194.8h.7M63.2 184.9h.7M57.6 185.8h.7M61.1 183.0h.7M60.2 185.1h.7M66.6 194.5h.7M68.6 191.7h.7M59.6 191.7h.7M59.8 202.1h.7M63.8 193.2h.7M63.0 182.1h.7M54.0 192.3h.7M54.6 198.8h.7M63.3 202.9h.7M58.2 199.7h.7M62.1 185.2h.7M49.8 195.2h.7M51.2 195.4h.7M68.8 194.9h.7M65.7 194.9h.7M64.5 202.4h.7M52.4 188.3h.7M53.2 191.9h.7M61.5 189.3h.7M62.5 179.3h.7M54.3 195.7h.7M59.6 203.1h.7M57.6 197.9h.7M65.9 201.2h.7M56.1 200.7h.7M64.9 199.4h.7M55.3 196.9h.7M61.1 198.2h.7M53.8 195.1h.7M66.6 198.2h.7M67.6 200.0h.7M71.0 191.5h.7M60.1 185.7h.7M64.5 195.1h.7M62.4 195.0h.7M62.0 188.7h.7M66.2 193.2h.7M64.2 190.8h.7M63.6 200.1h.7M64.9 195.5h.7M61.6 185.0h.7M65.5 196.1h.7M64.2 196.8h.7M61.5 194.5h.7M55.8 200.5h.7M68.0 197.8h.7M62.5 194.6h.7M50.4 191.7h.7M71.1 193.0h.7M52.0 192.5h.7M53.7 188.4h.7M61.1 200.4h.7M60.7 198.8h.7M61.6 183.8h.7M57.1 182.9h.7M55.5 199.7h.7M50.0 194.6h.7M71.0 192.6h.7M60.3 200.3h.7M54.0 204.2h.7M68.2 191.6h.7M66.5 187.1h.7M64.7 184.3h.7M66.2 196.3h.7M58.5 194.3h.7M56.5 184.2h.7M65.8 199.1h.7M69.3 187.5h.7M59.8 182.0h.7M62.1 185.2h.7M52.2 195.6h.7M62.1 181.5h.7M56.6 204.4h.7M69.1 200.9h.7M60.5 197.8h.7M57.2 184.3h.7M53.8 197.5h.7M62.0 184.2h.7M68.1 188.3h.7M64.3 183.9h.7M66.6 197.9h.7M54.6 195.3h.7M54.7 199.8h.7M59.2 199.8h.7M53.8 194.5h.7M68.4 194.3h.7M61.6 195.6h.7M58.0 194.6h.7M52.6 184.8h.7M55.8 195.6h.7M63.3 200.9h.7M65.1 203.0h.7M52.1 194.5h.7M51.4 188.4h.7M55.6 191.4h.7M65.5 187.0h.7M65.8 195.1h.7M55.7 197.6h.7M55.6 181.6h.7M55.7 191.9h.7M68.3 195.3h.7M57.7 185.7h.7M52.8 194.6h.7M65.9 186.5h.7M67.5 201.6h.7M60.0 184.4h.7M58.6 200.5h.7M58.6 198.1h.7M55.2 184.2h.7M58.1 187.2h.7M58.3 184.1h.7M63.9 183.6h.7M58.8 196.7h.7M56.5 195.0h.7M59.8 195.3h.7M51.8 194.8h.7M54.9 184.9h.7M54.3 193.0h.7M56.4 184.2h.7M59.4 196.7h.7M59.6 200.7h.7M68.4 194.3h.7M56.2 189.8h.7M52.8 189.2h.7M66.5 190.3h.7M57.3 183.4h.7M51.5 199.4h.7M55.3 182.0h.7M55.5 195.0h.7M57.1 185.9h.7M55.2 195.7h.7M58.8 201.7h.7M62.2 182.2h.7M64.1 198.1h.7M60.2 185.7h.7M66.2 186.7h.7M63.0 185.0h.7M58.3 184.9h.7M68.3 190.3h.7M55.6 198.0h.7M68.0 196.2h.7M54.6 194.0h.7M61.7 200.8h.7M62.3 201.4h.7M59.1 185.0h.7M61.5 202.1h.7M68.4 191.5h.7M64.1 190.7h.7M53.4 194.0h.7M62.7 199.8h.7M53.5 188.8h.7M67.6 190.3h.7M69.9 188.1h.7M58.8 183.6h.7M64.9 185.5h.7M63.5 198.1h.7M62.1 196.1h.7M67.1 186.9h.7M51.6 193.2h.7M70.1 193.3h.7M57.4 179.7h.7M53.8 198.1h.7M61.5 198.5h.7M57.2 198.3h.7M61.0 195.5h.7M54.5 188.0h.7M54.5 196.4h.7M65.3 188.0h.7M63.2 193.3h.7M53.1 206.9h.7M59.2 209.3h.7M65.0 212.9h.7M57.1 215.4h.7M67.6 211.4h.7M68.7 212.3h.7M60.8 206.4h.7M64.2 215.5h.7M60.0 215.6h.7M53.6 209.8h.7M65.9 215.1h.7M64.8 203.9h.7M62.7 213.6h.7M63.0 215.9h.7M67.8 210.0h.7M60.7 211.1h.7M64.9 215.5h.7M53.1 207.8h.7M53.1 212.3h.7M52.4 206.8h.7M66.2 207.3h.7M62.0 201.5h.7M63.0 204.9h.7M66.7 212.3h.7M61.9 207.1h.7M61.0 209.0h.7M64.1 209.3h.7M57.4 207.7h.7M56.9 215.0h.7M57.4 212.8h.7M51.3 202.4h.7M59.3 202.5h.7M67.7 210.7h.7M57.9 214.4h.7M57.5 211.5h.7M62.8 209.1h.7M59.7 203.3h.7M66.0 205.9h.7M56.0 210.6h.7M60.7 207.5h.7M54.8 207.9h.7M62.1 215.7h.7M54.5 206.5h.7M63.7 209.2h.7M65.7 207.4h.7M60.8 210.6h.7M59.6 214.6h.7M59.3 210.6h.7M61.9 210.8h.7M50.7 213.6h.7M55.2 204.1h.7M58.6 207.6h.7M58.4 212.1h.7M57.1 208.1h.7M53.9 206.3h.7M54.4 206.0h.7M56.9 207.4h.7M60.4 211.7h.7M63.7 211.4h.7M60.2 212.7h.7M56.8 207.7h.7M58.9 208.2h.7M62.3 213.2h.7M51.4 214.7h.7M50.1 213.5h.7M69.1 216.9h.7M68.6 212.6h.7M61.2 204.7h.7M58.4 211.6h.7M62.9 216.5h.7M51.6 207.6h.7M59.8 213.3h.7M52.6 215.4h.7M55.0 209.6h.7M59.4 211.3h.7M60.2 209.1h.7M63.6 210.0h.7M58.0 208.6h.7M59.5 207.7h.7M54.0 215.1h.7M61.7 213.2h.7M59.8 207.5h.7M51.6 216.2h.7M59.1 213.9h.7M59.5 215.3h.7M53.3 215.8h.7M66.2 213.1h.7M60.6 208.2h.7M64.3 211.9h.7M63.1 214.3h.7M57.9 209.1h.7M63.1 214.5h.7M60.3 213.9h.7M55.9 211.8h.7M63.2 212.8h.7M56.5 210.4h.7M69.1 208.9h.7M54.5 210.5h.7M59.0 212.8h.7M49.9 212.8h.7M63.9 213.2h.7M57.0 213.8h.7M55.8 207.4h.7M55.1 211.3h.7M66.5 211.4h.7M57.3 210.9h.7M54.6 210.2h.7M51.0 211.0h.7M56.7 209.0h.7M62.9 200.8h.7M57.8 202.1h.7M60.1 213.9h.7M61.8 212.6h.7M64.3 212.1h.7M60.8 213.3h.7M58.5 205.0h.7M63.7 209.3h.7M58.1 210.4h.7M62.3 210.0h.7M52.0 211.8h.7M64.6 209.3h.7M66.2 210.7h.7M54.7 211.9h.7M63.2 210.0h.7M54.3 213.3h.7M57.9 210.2h.7M56.2 212.9h.7M58.5 210.9h.7M55.2 208.8h.7M51.7 212.6h.7M57.8 208.6h.7M58.7 213.3h.7M61.5 210.4h.7M62.9 215.1h.7M62.3 212.2h.7M62.1 216.2h.7M53.1 212.4h.7M64.7 206.7h.7M67.3 202.3h.7M57.0 211.8h.7M60.7 209.9h.7M63.0 211.4h.7M62.4 207.6h.7M61.3 204.9h.7M55.8 210.8h.7M50.0 206.8h.7M69.8 204.2h.7M59.3 212.7h.7M64.2 207.5h.7M62.0 217.3h.7M58.4 214.3h.7M54.0 215.1h.7M57.6 209.4h.7M58.1 204.7h.7M50.4 212.2h.7M58.7 210.4h.7M50.3 212.0h.7M56.5 204.7h.7M59.4 207.8h.7M60.0 215.4h.7M70.0 208.7h.7M53.3 216.1h.7M58.8 208.7h.7M59.2 214.1h.7M58.4 212.2h.7M62.2 214.5h.7M56.6 211.9h.7M53.9 209.0h.7M56.8 206.4h.7M61.3 215.6h.7M87.7 206.9h.7M80.3 210.2h.7M88.9 203.9h.7M82.0 199.6h.7M68.7 199.9h.7M81.3 205.3h.7M77.1 201.6h.7M76.0 215.6h.7M64.7 200.0h.7M83.6 201.1h.7M76.9 206.9h.7M64.7 204.2h.7M76.1 208.0h.7M81.1 206.1h.7M76.3 205.6h.7M77.2 210.0h.7M71.1 191.1h.7M80.2 206.3h.7M94.7 200.5h.7M80.5 209.8h.7M70.0 205.4h.7M69.1 208.9h.7M76.4 207.7h.7M80.4 207.6h.7M85.3 210.0h.7M74.6 202.2h.7M79.6 197.9h.7M71.7 211.1h.7M83.0 217.1h.7M74.2 205.4h.7M83.0 212.6h.7M67.5 211.5h.7M78.2 215.2h.7M77.6 203.8h.7M72.3 204.3h.7M72.9 196.9h.7M77.9 202.4h.7M85.7 210.2h.7M72.7 204.9h.7M80.0 212.4h.7M84.8 210.6h.7M76.8 210.0h.7M68.3 209.0h.7M76.2 204.7h.7M75.6 202.4h.7M73.8 213.2h.7M72.8 199.3h.7M80.6 204.0h.7M72.4 213.1h.7M76.2 209.0h.7M78.4 214.8h.7M82.0 198.7h.7M89.4 203.6h.7M74.1 210.2h.7M76.0 204.3h.7M74.0 204.6h.7M85.1 207.9h.7M86.6 215.8h.7M82.5 202.0h.7M77.7 208.5h.7M67.4 205.7h.7M68.7 212.3h.7M63.8 204.4h.7M78.7 207.2h.7M70.0 209.9h.7M76.3 213.7h.7M77.7 210.5h.7M64.8 207.2h.7M77.4 201.0h.7M86.0 203.1h.7M83.0 209.5h.7M72.5 202.8h.7M97.1 209.4h.7M79.8 204.5h.7M66.3 207.5h.7M75.6 207.9h.7M76.6 197.1h.7M73.6 206.8h.7M73.9 207.4h.7M78.9 205.6h.7M73.5 214.6h.7M78.9 207.9h.7M80.6 207.3h.7M62.6 204.0h.7M78.8 208.8h.7M77.2 200.5h.7M74.5 208.3h.7M80.8 208.7h.7M75.6 195.1h.7M83.5 202.7h.7M86.3 204.1h.7M74.5 211.6h.7M73.9 197.7h.7M79.9 208.5h.7M79.9 205.4h.7M79.1 201.6h.7M76.6 210.0h.7M85.3 214.2h.7M74.5 208.9h.7M76.3 201.2h.7M79.5 211.0h.7M83.0 196.7h.7M75.5 205.7h.7M77.4 198.9h.7M91.4 198.4h.7M69.7 214.9h.7M79.0 202.3h.7M71.7 209.8h.7M72.1 210.0h.7M80.6 208.4h.7M83.0 203.1h.7M66.2 197.8h.7M76.7 202.1h.7M88.4 201.5h.7M88.6 205.5h.7M76.9 196.5h.7M76.3 213.6h.7M66.0 212.8h.7M82.7 210.8h.7M69.3 214.3h.7M68.4 214.3h.7M85.4 197.3h.7M87.9 215.4h.7M76.1 198.2h.7M75.1 204.7h.7M83.0 201.2h.7M69.9 207.3h.7M79.2 197.1h.7M80.1 203.4h.7M73.4 209.3h.7M81.9 208.7h.7M89.7 207.5h.7M76.9 208.0h.7M87.7 209.5h.7M79.2 211.5h.7M65.5 211.4h.7M82.7 204.7h.7M65.8 197.8h.7M60.7 208.1h.7M75.8 201.5h.7M83.4 201.2h.7M84.4 210.3h.7M80.8 200.5h.7M68.8 206.5h.7M84.6 200.7h.7M78.4 210.8h.7M64.1 215.9h.7M75.2 203.5h.7M78.2 205.3h.7M69.8 203.0h.7M74.9 200.6h.7M84.1 209.5h.7M82.2 197.7h.7M73.2 208.9h.7M76.1 196.7h.7M79.5 216.6h.7M84.5 205.7h.7M67.9 211.6h.7M81.1 204.5h.7M74.4 210.4h.7M76.0 202.7h.7M68.0 204.2h.7M74.5 203.5h.7M109.0 199.7h.7M64.1 202.5h.7M83.2 216.4h.7M64.5 203.2h.7M81.3 202.4h.7M81.0 204.4h.7M85.3 206.9h.7M89.5 199.4h.7M85.1 204.3h.7M85.3 203.3h.7M83.1 211.8h.7M79.1 200.8h.7M71.8 203.6h.7M75.2 211.4h.7M68.1 205.5h.7M77.2 206.3h.7M70.1 213.0h.7M76.4 202.2h.7M76.2 212.3h.7M81.1 212.3h.7M80.7 204.0h.7M66.2 201.7h.7M76.4 197.8h.7M75.0 202.0h.7M85.5 195.9h.7M93.5 210.0h.7M73.5 206.8h.7M88.6 209.9h.7M74.7 203.4h.7M66.1 207.8h.7M83.3 205.9h.7M77.1 202.1h.7M77.9 208.9h.7M67.7 209.9h.7M75.0 208.9h.7M77.1 208.1h.7M78.8 210.2h.7M71.7 205.9h.7M68.5 206.7h.7M85.0 205.0h.7M84.5 204.0h.7M79.7 212.6h.7M79.3 208.5h.7M86.9 209.6h.7M84.0 204.9h.7M71.7 210.3h.7M69.6 212.4h.7M73.1 207.9h.7M82.9 200.9h.7M91.1 206.4h.7M75.6 201.2h.7M65.0 197.5h.7M70.0 209.2h.7M73.7 212.3h.7M70.1 198.8h.7M80.5 205.1h.7M66.8 213.6h.7M79.1 199.3h.7M73.5 201.7h.7M85.4 203.8h.7M72.6 207.9h.7M88.5 213.4h.7M77.0 204.8h.7M72.7 211.3h.7M69.4 206.1h.7M82.0 203.0h.7M71.0 201.5h.7M72.8 210.5h.7M66.3 200.2h.7M76.0 211.0h.7M71.1 209.2h.7M84.5 202.6h.7M75.4 210.6h.7M78.4 203.2h.7M75.9 205.0h.7M77.4 207.7h.7M77.9 203.2h.7M76.9 207.8h.7M75.4 214.4h.7M73.4 194.8h.7M85.5 203.8h.7M79.4 204.9h.7M83.6 203.5h.7M80.9 214.1h.7M81.2 202.0h.7M89.2 211.8h.7M76.7 199.0h.7M78.6 205.8h.7M80.1 206.9h.7M88.2 207.1h.7M74.0 204.1h.7M79.0 208.8h.7M67.8 201.1h.7M83.5 205.1h.7M84.4 205.3h.7M72.1 208.5h.7M88.2 205.7h.7M78.6 208.9h.7M80.5 210.0h.7M76.3 204.2h.7M65.4 204.5h.7M84.4 207.2h.7M79.0 199.4h.7M61.7 209.2h.7M71.0 203.2h.7M62.2 213.6h.7M87.1 197.1h.7M72.6 204.9h.7M79.8 210.6h.7M76.2 205.5h.7M80.7 197.4h.7M75.7 205.9h.7M78.8 200.9h.7M71.8 200.1h.7M75.5 200.7h.7M94.6 202.8h.7M85.8 202.9h.7M73.5 210.6h.7M74.6 217.2h.7M80.0 197.2h.7M86.4 191.6h.7M74.0 201.8h.7M76.8 201.9h.7M73.1 204.0h.7M81.9 201.3h.7M91.5 212.0h.7M76.7 203.0h.7M77.2 199.2h.7M84.8 202.2h.7M60.8 211.3h.7M87.6 210.7h.7M81.3 208.5h.7M88.0 212.9h.7M65.2 209.0h.7M76.0 214.4h.7M74.5 204.1h.7M64.5 206.3h.7M67.1 204.0h.7M63.2 200.6h.7M81.3 185.9h.7M72.9 193.9h.7M51.4 188.5h.7M65.0 186.3h.7M69.8 188.6h.7M73.1 191.6h.7M74.3 201.9h.7M71.9 202.3h.7M87.0 200.9h.7M51.8 191.1h.7M72.2 201.3h.7M60.2 197.7h.7M65.3 192.3h.7M61.1 194.4h.7M74.6 182.1h.7M73.2 195.7h.7M52.0 196.2h.7M63.5 187.6h.7M69.2 192.2h.7M74.1 203.7h.7M68.2 197.1h.7M57.3 194.0h.7M74.0 207.8h.7M50.6 196.0h.7M64.5 209.5h.7M67.6 209.0h.7M66.0 184.2h.7M61.1 195.1h.7M76.9 187.5h.7M59.0 183.5h.7M65.5 201.8h.7M73.5 177.9h.7M68.7 192.1h.7M60.4 185.9h.7M60.5 196.4h.7M70.4 200.0h.7M58.2 194.2h.7M57.7 200.6h.7M65.3 184.7h.7M73.2 206.4h.7M50.8 207.1h.7M68.9 193.6h.7M56.9 199.8h.7M63.7 195.6h.7M65.7 197.5h.7M62.1 203.6h.7M61.5 187.9h.7M75.3 190.9h.7M60.9 188.2h.7M59.2 190.4h.7M70.4 193.0h.7M67.4 193.6h.7M74.6 194.5h.7M67.1 202.0h.7M75.7 203.0h.7M58.6 184.7h.7M86.8 184.3h.7M59.0 184.0h.7M67.0 194.0h.7M60.5 202.4h.7M72.8 194.4h.7M73.2 188.6h.7M65.1 193.0h.7M66.0 198.2h.7M66.3 191.2h.7M70.2 191.7h.7M71.5 188.2h.7M55.2 210.3h.7M54.3 200.1h.7M78.2 199.4h.7M68.3 193.6h.7M64.4 188.4h.7M69.1 199.3h.7M54.1 179.3h.7M89.9 193.2h.7M56.2 186.9h.7M71.3 203.6h.7M57.3 191.9h.7M69.5 190.8h.7M67.5 197.2h.7M70.8 201.5h.7M66.0 190.1h.7M54.0 193.8h.7M56.8 191.3h.7M63.2 193.7h.7M72.3 196.6h.7M65.6 205.7h.7M65.3 207.0h.7M69.5 168.2h.7M75.4 178.6h.7M71.9 191.8h.7M69.1 188.5h.7" stroke="#000" stroke-width="0.7" fill="none" opacity="0.8"/>
<rect x="48.50" y="144.6" width="82.7" height="74.00" fill="none" stroke="#6c6c6c" stroke-width="1.0"/>
<text x="39.90" y="146.10" font-size="2.8" font-weight="bold" fill="#222">10<tspan dy="-1.2" font-size="2.7">4</tspan></text>
<text x="39.90" y="164.10" font-size="2.8" font-weight="bold" fill="#222">10<tspan dy="-1.2" font-size="2.7">3</tspan></text>
<text x="39.90" y="182.80" font-size="2.8" font-weight="bold" fill="#222">10<tspan dy="-1.2" font-size="2.7">2</tspan></text>
<text x="39.90" y="201.00" font-size="2.8" font-weight="bold" fill="#222">10<tspan dy="-1.2" font-size="2.7">1</tspan></text>
<text x="39.90" y="218.20" font-size="2.8" font-weight="bold" fill="#222">10<tspan dy="-1.2" font-size="2.7">0</tspan></text>
<text x="48.90" y="225.00" font-size="2.8" font-weight="bold" fill="#222">10<tspan dy="-1.2" font-size="2.7">0</tspan></text>
<text x="67.90" y="225.00" font-size="2.8" font-weight="bold" fill="#222">10<tspan dy="-1.2" font-size="2.7">1</tspan></text>
<text x="89.00" y="225.00" font-size="2.8" font-weight="bold" fill="#222">10<tspan dy="-1.2" font-size="2.7">2</tspan></text>
<text x="109.30" y="225.00" font-size="2.8" font-weight="bold" fill="#222">10<tspan dy="-1.2" font-size="2.7">3</tspan></text>
<text x="126.70" y="225.00" font-size="2.8" font-weight="bold" fill="#222">10<tspan dy="-1.2" font-size="2.7">4</tspan></text>
<path d="M49.7 178.9 H72.5 V195.6 L64.3 203.6 H49.7 Z M64.3 203.6 L72.5 195.6 H92.2 V218 H64.3 Z" fill="none" stroke="#111" stroke-width="1.4" stroke-linejoin="miter"/>
<text x="120.40" y="152.60" font-size="8.8" text-anchor="end" fill="#000" stroke="#000" stroke-width="0.32" >89</text>
<line x1="125.10" y1="149.00" x2="113.70" y2="160.60" stroke="#000" stroke-width="1.25" />
<text x="121.50" y="160.10" font-size="8.8" text-anchor="start" fill="#000" stroke="#000" stroke-width="0.32" >7</text>
<path d="M54.12 319.33L55.94 312.95L57.04 315.14L57.77 310.21L58.50 312.95L59.22 306.57L59.95 310.21L60.50 303.83L61.41 311.49L62.33 310.21L63.24 307.48L64.15 300.18L64.88 307.84L65.43 309.30L66.52 312.95L67.25 303.83L68.34 298.36L69.07 292.89L69.62 285.59L70.17 279.21L70.53 272.83L71.08 269.18L71.44 267.36L71.99 271.91L72.36 271.00L72.90 262.80L73.27 259.15L73.81 267.36L74.18 267.36L74.73 263.71L75.09 261.88L75.64 255.50L76.00 250.94L76.55 247.29L76.91 245.47L77.46 247.29L77.83 250.94L78.37 263.71L78.74 272.83L79.29 272.83L79.65 274.65L80.20 283.77L80.56 289.24L81.11 294.71L81.47 296.53L82.02 303.83L82.39 307.48L82.93 308.39L83.66 311.12L84.39 312.95L85.12 315.68L86.58 319.33Z" fill="#7f7f7f" stroke="#7f7f7f" stroke-width="0.25" stroke-linejoin="round"/>
<path d="M54.12 318.80L54.39 318.56L54.67 318.24L54.94 317.81L55.21 317.23L55.49 316.48L55.76 315.51L56.03 314.27L56.31 312.73L56.58 310.84L56.85 308.56L57.13 305.86L57.40 302.70L57.67 299.09L57.95 295.04L58.22 290.58L58.50 285.76L58.77 280.68L59.04 275.45L59.32 270.19L59.59 265.05L59.86 260.21L60.14 255.82L60.41 252.04L60.68 249.02L60.96 246.88L61.23 245.70L61.50 245.55L61.78 246.67L62.05 249.09L62.33 252.67L62.60 257.22L62.87 262.52L63.15 268.32L63.42 274.37L63.69 280.42L63.97 286.27L64.24 291.76L64.51 296.76L64.79 301.18L65.06 305.01L65.33 308.24L65.61 310.90L65.88 313.03L66.16 314.71L66.43 316.01L66.70 316.98L66.98 317.70L67.25 318.22L67.52 318.59L67.80 318.85L67.80 319.33" fill="none" stroke="#3c3c3c" stroke-width="0.85"/>
<rect x="48.10" y="245.5" width="82.60" height="74.00" fill="none" stroke="#7c7c7c" stroke-width="1.1"/>
<text x="48.50" y="325.80" font-size="2.8" font-weight="bold" fill="#222">10<tspan dy="-1.2" font-size="2.7">0</tspan></text>
<text x="67.50" y="325.80" font-size="2.8" font-weight="bold" fill="#222">10<tspan dy="-1.2" font-size="2.7">1</tspan></text>
<text x="88.60" y="325.80" font-size="2.8" font-weight="bold" fill="#222">10<tspan dy="-1.2" font-size="2.7">2</tspan></text>
<text x="108.90" y="325.80" font-size="2.8" font-weight="bold" fill="#222">10<tspan dy="-1.2" font-size="2.7">3</tspan></text>
<text x="126.30" y="325.80" font-size="2.8" font-weight="bold" fill="#222">10<tspan dy="-1.2" font-size="2.7">4</tspan></text>
<text x="126.50" y="255.00" font-size="8.8" text-anchor="end" fill="#000" stroke="#000" stroke-width="0.32" >92</text>
<text x="185.25" y="134.90" font-size="8.3" font-weight="bold" text-anchor="middle" fill="#000" stroke="#000" stroke-width="0.32" letter-spacing="0.15">BM</text>
<clipPath id="cp1"><rect x="146.00" y="144.6" width="82.7" height="73.50"/></clipPath>
<g clip-path="url(#cp1)" opacity="0.88">
<ellipse cx="155.7" cy="193.6" rx="6.4" ry="8.3" fill="url(#blob)"/>
<ellipse cx="156.8" cy="189.6" rx="3.3" ry="3.0" fill="url(#blob)" opacity="0.8"/>
<ellipse cx="156.8" cy="189.1" rx="2.3" ry="2.3" fill="url(#blob)" opacity="0.8"/>
<ellipse cx="155.1" cy="188.7" rx="3.3" ry="2.5" fill="url(#blob)" opacity="0.8"/>
<ellipse cx="155.1" cy="198.0" rx="3.4" ry="3.2" fill="url(#blob)" opacity="0.8"/>
<ellipse cx="158.1" cy="198.1" rx="2.3" ry="2.9" fill="url(#blob)" opacity="0.8"/>
<ellipse cx="155.5" cy="199.1" rx="3.2" ry="3.2" fill="url(#blob)" opacity="0.8"/>
<ellipse cx="156.7" cy="197.5" rx="3.1" ry="3.2" fill="url(#blob)" opacity="0.8"/>
<ellipse cx="160.0" cy="193.9" rx="3.5" ry="2.7" fill="url(#blob)" opacity="0.8"/>
<ellipse cx="151.7" cy="193.0" rx="3.5" ry="3.1" fill="url(#blob)" opacity="0.8"/>
</g>
<path d="M160.8 190.3h.7M154.4 197.9h.7M161.2 198.7h.7M163.3 199.7h.7M160.4 196.4h.7M165.1 192.9h.7M157.9 200.9h.7M148.1 193.9h.7M153.1 205.3h.7M153.9 187.1h.7M160.9 195.9h.7M151.3 199.7h.7M153.7 207.8h.7M154.4 183.3h.7M154.1 191.3h.7M150.5 202.0h.7M159.4 193.5h.7M157.6 183.5h.7M149.4 183.7h.7M150.1 193.1h.7M156.5 185.6h.7M157.0 186.2h.7M153.0 187.0h.7M155.0 194.6h.7M149.5 192.4h.7M163.1 191.6h.7M157.6 185.4h.7M149.1 194.3h.7M162.2 187.4h.7M151.3 206.5h.7M163.0 188.8h.7M151.7 202.5h.7M150.8 199.9h.7M152.5 200.4h.7M153.1 187.2h.7M154.9 196.9h.7M152.9 200.3h.7M149.8 202.1h.7M164.9 203.8h.7M156.2 203.8h.7M155.9 200.5h.7M150.5 187.2h.7M158.6 188.1h.7M150.0 199.7h.7M154.1 201.4h.7M149.9 201.1h.7M157.9 203.9h.7M151.9 202.4h.7M153.4 198.2h.7M152.5 187.0h.7M150.9 199.6h.7M158.6 194.3h.7M153.1 186.5h.7M158.5 200.2h.7M159.5 199.0h.7M153.4 187.7h.7M150.3 187.5h.7M158.3 187.7h.7M163.4 191.8h.7M165.3 196.1h.7M162.4 192.1h.7M154.8 203.6h.7M159.2 202.4h.7M155.0 193.5h.7M148.3 197.2h.7M153.7 187.7h.7M158.3 204.2h.7M154.0 205.1h.7M162.7 187.7h.7M153.8 205.3h.7M158.2 185.8h.7M156.0 195.9h.7M150.2 191.3h.7M148.5 195.6h.7M153.0 194.5h.7M154.3 202.0h.7M155.4 183.0h.7M155.0 186.0h.7M151.1 201.2h.7M150.3 191.3h.7M153.5 203.6h.7M157.1 186.0h.7M157.2 203.9h.7M156.1 192.8h.7M156.4 200.3h.7M161.2 196.6h.7M153.3 185.0h.7M155.9 188.2h.7M149.1 197.0h.7M148.3 199.7h.7M150.5 197.8h.7M155.9 200.2h.7M164.2 183.8h.7M161.6 194.2h.7M150.2 186.2h.7M154.1 185.4h.7M157.4 200.8h.7M152.3 187.3h.7M153.9 199.7h.7M164.7 198.7h.7M162.4 194.9h.7M152.2 193.0h.7M147.6 196.9h.7M146.9 199.1h.7M155.3 191.8h.7M156.2 203.5h.7M162.3 196.1h.7M164.0 200.8h.7M150.9 197.4h.7M153.8 187.1h.7M152.7 197.4h.7M153.9 208.1h.7M165.7 183.7h.7M153.5 191.3h.7M151.1 186.0h.7M154.1 192.8h.7M160.8 197.9h.7M151.1 199.3h.7M155.3 186.1h.7M151.2 197.5h.7M153.0 193.3h.7M162.8 191.6h.7M156.1 202.2h.7M153.5 181.6h.7M160.0 184.3h.7M154.9 202.7h.7M158.1 184.1h.7M159.2 187.2h.7M159.5 200.4h.7M157.0 203.6h.7M151.8 202.5h.7M164.0 194.4h.7M155.6 193.7h.7M161.1 198.4h.7M153.2 207.0h.7M146.9 204.9h.7M162.3 194.7h.7M158.1 186.1h.7M148.4 190.7h.7M149.2 189.6h.7M151.8 188.5h.7M162.5 189.1h.7M152.3 191.7h.7M153.1 182.0h.7M151.9 187.5h.7M162.4 190.1h.7M151.9 193.8h.7M153.9 191.2h.7M156.7 186.8h.7M150.9 198.2h.7M148.6 198.2h.7M152.2 180.8h.7M158.6 187.7h.7M155.3 200.8h.7M160.5 196.2h.7M161.2 198.6h.7M157.5 186.9h.7M159.9 198.3h.7M164.2 182.5h.7M155.8 192.0h.7M154.0 190.0h.7M159.8 183.8h.7M155.8 200.4h.7M160.6 190.7h.7M160.3 190.1h.7M149.3 190.9h.7M161.5 192.2h.7M149.8 194.6h.7M149.3 191.9h.7M161.7 195.0h.7M156.7 201.6h.7M150.1 192.3h.7M153.1 199.7h.7M162.7 191.0h.7M158.1 199.5h.7M157.2 181.6h.7M151.5 197.5h.7M154.0 187.1h.7M161.1 200.1h.7M157.0 190.3h.7M161.0 186.4h.7M161.6 198.7h.7M156.6 186.3h.7M161.7 180.5h.7M152.0 202.3h.7M152.4 184.3h.7M153.5 192.9h.7M154.3 202.4h.7M148.1 195.6h.7M157.3 185.6h.7M154.3 202.0h.7M159.6 188.0h.7M151.6 194.2h.7M158.2 198.2h.7M151.2 187.1h.7M161.2 190.1h.7M151.2 195.5h.7M163.7 187.0h.7M161.8 202.6h.7M150.3 185.5h.7M163.7 195.2h.7M157.3 202.1h.7M157.8 185.6h.7M165.5 201.2h.7M147.9 188.5h.7M161.3 191.1h.7M150.2 192.8h.7M160.4 204.4h.7M151.3 190.1h.7M151.1 193.8h.7M154.2 188.9h.7M149.9 191.1h.7M162.4 195.4h.7M151.3 201.3h.7M150.7 189.3h.7M151.5 197.8h.7M159.8 206.7h.7M160.7 186.9h.7M151.5 200.7h.7M148.8 189.4h.7M159.8 193.1h.7M164.3 194.3h.7M160.9 194.8h.7M150.2 199.4h.7M149.0 190.9h.7M155.3 201.3h.7M156.2 186.2h.7M149.3 196.5h.7M150.2 188.8h.7M160.9 199.4h.7M152.4 193.2h.7M153.9 187.3h.7M155.4 206.3h.7M155.4 194.4h.7M155.7 200.4h.7M156.7 185.4h.7M150.5 203.3h.7M157.1 187.1h.7M160.0 188.9h.7M163.5 200.5h.7M157.8 200.4h.7M158.2 201.2h.7M156.1 187.8h.7M153.5 198.1h.7M149.6 204.9h.7M156.8 185.0h.7M154.1 192.2h.7M161.6 199.1h.7M149.8 198.2h.7M165.1 196.9h.7M150.0 199.8h.7M148.1 195.3h.7M154.0 199.8h.7M159.7 187.5h.7M165.6 189.3h.7M161.4 197.6h.7M154.9 186.6h.7M165.2 194.8h.7M150.5 196.2h.7M164.6 206.4h.7M160.7 189.0h.7M169.4 200.0h.7M164.0 201.5h.7M159.4 186.5h.7M161.9 195.7h.7M148.2 192.9h.7M161.5 201.4h.7M149.8 195.5h.7M147.7 189.0h.7M150.7 193.2h.7M164.9 196.1h.7M147.1 194.6h.7M153.5 185.6h.7M157.2 200.0h.7M149.7 188.5h.7M159.6 180.1h.7M154.6 185.1h.7M151.3 186.3h.7M150.3 192.9h.7M161.0 190.0h.7M152.6 187.8h.7M148.6 193.9h.7M147.9 203.6h.7M162.7 184.8h.7M164.0 197.5h.7M153.3 184.8h.7M158.2 183.7h.7M162.3 192.8h.7M153.3 188.5h.7M161.0 190.6h.7M160.2 197.7h.7M152.9 195.5h.7M152.7 199.3h.7M158.5 201.1h.7M150.8 204.5h.7M159.5 198.3h.7M150.1 199.0h.7M157.1 182.5h.7M147.2 198.9h.7M155.7 208.0h.7M149.4 192.4h.7M157.6 203.0h.7M157.6 184.7h.7M152.9 183.4h.7M158.1 187.4h.7M152.9 195.3h.7M160.2 198.7h.7M150.2 202.2h.7M159.7 180.1h.7M151.7 187.4h.7M151.5 188.1h.7M153.1 193.4h.7M154.4 182.7h.7M149.8 188.2h.7M158.1 196.7h.7M151.7 198.0h.7M158.9 196.0h.7M161.9 184.8h.7M162.7 199.7h.7M161.0 198.4h.7M157.8 184.7h.7M156.2 185.6h.7M155.5 182.8h.7M151.8 200.0h.7M148.8 199.5h.7M156.0 187.0h.7M153.5 196.8h.7M159.4 206.2h.7M163.1 195.9h.7M150.5 192.4h.7M163.7 199.9h.7M150.9 186.3h.7M152.3 182.4h.7M161.4 188.6h.7M162.8 191.4h.7M148.2 194.4h.7M150.0 201.7h.7M157.4 187.6h.7M164.7 194.1h.7M157.5 189.1h.7M160.5 196.7h.7M163.8 199.0h.7M158.5 187.9h.7M149.2 205.2h.7M162.2 191.3h.7M163.6 192.7h.7M150.4 191.0h.7M153.6 201.7h.7M153.2 186.0h.7M159.0 203.1h.7M161.7 186.6h.7M154.8 202.0h.7M161.9 200.1h.7M150.9 203.3h.7M161.2 192.1h.7M154.4 178.7h.7M160.9 193.5h.7M155.7 194.8h.7M155.2 200.2h.7M152.2 198.8h.7M165.0 188.5h.7M160.0 194.2h.7M156.3 201.7h.7M154.6 191.7h.7M161.5 197.1h.7M163.2 193.5h.7M148.5 196.0h.7M165.1 191.4h.7M162.5 192.6h.7M151.8 184.8h.7M151.2 197.2h.7M157.3 190.8h.7M161.5 202.9h.7M161.3 198.1h.7M161.3 185.4h.7M152.3 201.9h.7M146.7 197.0h.7M161.2 198.9h.7M150.3 187.9h.7M150.5 195.1h.7M166.5 183.4h.7M151.0 187.4h.7M155.8 201.6h.7M159.9 193.6h.7M150.1 196.5h.7M148.8 194.9h.7M149.1 184.8h.7M149.8 192.4h.7M158.1 203.4h.7M152.0 199.2h.7M154.0 200.4h.7M163.9 187.9h.7M155.1 185.6h.7M152.9 187.1h.7M154.4 197.4h.7M154.8 195.2h.7M162.0 188.1h.7M154.5 184.2h.7M157.5 184.7h.7M160.0 185.4h.7M152.6 193.2h.7M157.5 187.1h.7M162.9 192.9h.7M165.4 187.7h.7M161.8 197.9h.7M165.8 206.5h.7M149.2 193.8h.7M148.6 192.5h.7M153.1 183.2h.7M152.7 203.0h.7M155.3 186.8h.7M151.1 197.3h.7M155.0 186.5h.7M157.5 201.6h.7M158.4 187.2h.7M156.5 200.2h.7M159.6 188.1h.7M151.0 192.1h.7M150.4 190.1h.7M149.4 188.9h.7M155.6 193.7h.7M156.8 201.1h.7M159.3 186.3h.7M159.5 183.7h.7M153.0 187.1h.7M163.7 194.6h.7M161.7 185.1h.7M162.1 197.7h.7M160.6 186.2h.7M157.7 189.2h.7M155.4 200.4h.7M161.8 199.1h.7M151.9 187.9h.7M147.6 192.0h.7M159.2 195.8h.7M160.2 197.3h.7M156.0 200.5h.7M151.9 192.7h.7M162.3 180.6h.7M148.8 183.6h.7M162.7 192.0h.7M156.8 200.2h.7M156.9 201.6h.7M153.7 178.1h.7M163.2 193.5h.7M155.2 201.3h.7M152.8 201.4h.7M148.2 194.0h.7M161.6 191.9h.7M149.2 188.1h.7M155.1 194.8h.7M150.3 192.1h.7M162.0 197.1h.7M151.5 198.9h.7M153.7 205.0h.7M153.4 196.7h.7M157.1 185.6h.7M156.3 191.1h.7M150.9 201.1h.7M147.0 195.5h.7M159.6 188.8h.7M161.6 189.7h.7M149.9 193.2h.7M162.4 183.7h.7M154.6 192.7h.7M150.2 193.1h.7M160.7 183.0h.7M166.4 186.5h.7M155.4 202.2h.7M164.3 191.4h.7M148.4 192.6h.7M157.0 197.5h.7M161.5 194.1h.7M161.5 198.5h.7M147.2 199.1h.7M157.1 204.1h.7M159.4 196.0h.7M151.6 200.1h.7M160.2 197.6h.7M166.5 190.9h.7M156.1 187.7h.7M159.7 198.8h.7M149.8 186.4h.7M156.3 193.6h.7M155.4 197.7h.7M161.4 199.5h.7M160.0 189.6h.7M150.3 187.7h.7M155.7 202.9h.7M151.9 192.2h.7M149.4 188.0h.7M149.9 195.1h.7M160.4 184.0h.7M155.1 192.7h.7M157.2 186.0h.7M147.1 188.4h.7M146.8 189.7h.7M157.6 200.5h.7M150.9 193.3h.7M154.0 186.9h.7M148.1 196.6h.7M160.1 189.9h.7M159.1 200.6h.7M163.2 188.9h.7M151.0 186.1h.7M154.4 196.0h.7M149.4 186.4h.7M160.0 197.8h.7M150.2 184.6h.7M155.9 191.6h.7M161.3 206.9h.7M146.9 190.9h.7M149.9 197.6h.7M160.7 187.0h.7M162.0 196.0h.7M158.2 196.8h.7M164.9 193.3h.7M154.3 191.1h.7M154.1 202.8h.7M152.4 187.8h.7M148.9 191.3h.7M154.6 195.2h.7M150.3 203.9h.7M164.8 185.6h.7M162.6 191.2h.7M153.5 196.8h.7M163.4 196.9h.7M156.7 192.1h.7M151.7 189.6h.7M156.8 186.2h.7M160.7 196.1h.7M163.4 191.7h.7M158.3 181.4h.7M154.6 187.2h.7M159.1 185.2h.7M151.4 188.0h.7M160.3 186.6h.7M152.3 209.7h.7M164.8 199.5h.7M153.1 197.6h.7M149.9 192.1h.7M151.4 195.7h.7M157.8 192.5h.7M161.5 195.7h.7M161.8 195.5h.7M149.4 202.6h.7M150.1 197.9h.7M154.5 186.2h.7M153.7 189.6h.7M159.6 199.8h.7M149.0 203.1h.7M151.5 198.9h.7M161.9 198.3h.7M160.1 199.3h.7M164.0 191.1h.7M163.2 190.2h.7M157.9 194.0h.7M159.8 188.5h.7M158.9 198.8h.7M155.4 196.2h.7M148.0 188.8h.7M154.2 200.2h.7M154.4 203.3h.7M157.2 200.9h.7M159.8 189.0h.7M163.1 189.6h.7M151.6 198.5h.7M152.4 187.7h.7M161.9 193.2h.7M155.0 193.5h.7M147.4 194.3h.7M163.4 196.2h.7M160.6 196.7h.7M157.0 201.5h.7M158.7 200.7h.7M150.8 188.1h.7M148.6 200.2h.7M158.9 185.7h.7M153.1 191.2h.7M165.8 191.1h.7M151.6 201.8h.7M152.2 184.6h.7M157.4 186.3h.7M147.4 191.0h.7M162.3 199.3h.7M163.1 199.3h.7M150.2 197.8h.7M160.6 198.7h.7M162.1 189.8h.7M160.1 197.1h.7M157.4 188.0h.7M151.7 199.4h.7M155.1 193.6h.7M154.4 199.9h.7M156.4 196.5h.7M153.2 201.6h.7M148.8 186.0h.7M153.5 184.5h.7M147.4 195.7h.7M149.2 190.5h.7M159.7 193.1h.7M165.9 196.6h.7M159.4 201.0h.7M155.3 187.6h.7M157.1 190.9h.7M160.0 189.5h.7M152.5 201.5h.7M148.6 189.3h.7M162.6 198.9h.7M149.8 193.2h.7M156.2 201.6h.7M150.1 198.2h.7M149.3 191.3h.7M155.4 200.5h.7M158.9 190.6h.7M165.4 194.3h.7M149.4 193.8h.7M153.4 204.7h.7M161.2 185.3h.7M162.9 197.8h.7M155.8 203.0h.7M153.9 188.2h.7M160.1 177.8h.7M161.0 191.9h.7M155.1 185.9h.7M159.4 187.0h.7M163.1 195.5h.7M158.2 183.6h.7M155.3 205.6h.7M152.5 197.7h.7M149.6 191.4h.7M161.9 199.6h.7M155.7 206.7h.7M159.4 185.7h.7M150.1 189.7h.7M155.4 186.9h.7M161.6 201.7h.7M160.5 199.9h.7M161.5 193.2h.7M147.0 202.8h.7M155.1 206.5h.7M150.7 184.8h.7M154.7 190.5h.7M160.1 198.0h.7M157.3 184.8h.7M155.0 200.7h.7M148.2 187.8h.7M161.9 200.2h.7M162.6 187.7h.7M168.7 191.4h.7M149.4 194.9h.7M158.4 183.4h.7M163.0 196.1h.7M159.1 187.3h.7M153.3 202.8h.7M156.8 194.4h.7M157.4 205.0h.7M157.7 203.8h.7M151.3 187.8h.7M154.6 192.3h.7M148.7 194.0h.7M160.3 187.6h.7M152.4 183.7h.7M148.4 192.7h.7M151.6 211.1h.7M159.6 192.3h.7M149.1 195.5h.7M163.1 186.4h.7M159.4 186.2h.7M154.9 190.8h.7M152.7 188.2h.7M165.6 200.1h.7M155.6 184.1h.7M160.9 195.2h.7M162.2 189.2h.7M153.2 207.1h.7M146.9 209.2h.7M154.1 210.1h.7M150.5 208.5h.7M152.8 214.3h.7M156.2 214.3h.7M155.2 199.6h.7M159.6 214.3h.7M155.1 201.3h.7M153.1 212.0h.7M162.0 208.3h.7M152.8 206.2h.7M160.3 214.2h.7M146.7 215.9h.7M151.0 202.8h.7M147.8 206.5h.7M149.5 206.7h.7M156.2 212.0h.7M153.2 202.3h.7M153.5 206.7h.7M146.9 210.7h.7M148.4 201.5h.7M162.7 214.6h.7M162.4 210.6h.7M153.5 209.6h.7M148.9 213.6h.7M156.7 208.5h.7M163.2 217.1h.7M159.6 208.3h.7M156.1 212.7h.7M156.4 215.1h.7M152.3 198.7h.7M148.8 213.2h.7M160.6 210.0h.7M158.0 210.4h.7M156.3 207.7h.7M153.5 215.8h.7M154.2 209.8h.7M161.2 214.8h.7M153.6 211.2h.7M150.6 210.6h.7M157.0 210.0h.7M156.2 211.8h.7M155.8 207.6h.7M150.8 208.8h.7M163.2 208.9h.7M152.3 207.7h.7M149.8 212.4h.7M150.7 214.5h.7M159.8 212.8h.7M160.4 209.6h.7M147.0 209.7h.7M158.5 202.5h.7M149.6 215.4h.7M157.6 216.6h.7M158.7 210.3h.7M157.5 214.2h.7M155.3 209.0h.7M157.0 208.5h.7M167.0 206.3h.7M148.2 203.7h.7M160.5 208.0h.7M156.2 209.0h.7M156.8 202.9h.7M155.9 207.2h.7M160.7 213.0h.7M149.4 205.3h.7M158.2 215.8h.7M159.1 209.3h.7M160.8 198.5h.7M152.9 205.2h.7M150.5 212.8h.7M156.8 211.4h.7M154.8 213.0h.7M159.2 207.2h.7M160.0 205.5h.7M163.9 203.6h.7M154.1 204.7h.7M155.7 216.4h.7M162.3 211.9h.7M152.6 214.4h.7M160.1 209.8h.7M167.4 206.7h.7M149.0 208.9h.7M147.0 210.8h.7M161.6 206.7h.7M153.3 204.1h.7M159.2 214.1h.7M158.3 211.2h.7M160.3 209.4h.7M158.9 214.0h.7M161.8 212.5h.7M155.9 213.5h.7M148.0 201.4h.7M163.3 210.7h.7M150.4 207.2h.7M154.7 210.4h.7M151.8 214.9h.7M158.7 201.7h.7M149.5 210.3h.7M156.8 207.9h.7M155.5 210.8h.7M149.9 210.3h.7M166.5 206.8h.7M150.5 213.3h.7M162.0 215.1h.7M152.4 209.6h.7M156.5 209.0h.7M157.4 215.3h.7M158.1 209.9h.7M159.1 210.4h.7M161.4 214.5h.7M165.6 201.2h.7M156.0 208.5h.7M151.9 210.4h.7M158.1 212.6h.7M154.8 203.5h.7M158.2 213.0h.7M165.8 214.6h.7M155.5 204.3h.7M168.8 206.7h.7M156.4 213.7h.7M157.9 216.6h.7M150.4 206.6h.7M156.3 203.9h.7M152.5 216.8h.7M156.9 209.5h.7M152.7 210.2h.7M155.3 204.7h.7M159.3 203.7h.7M161.8 208.3h.7M156.9 205.7h.7M164.4 216.8h.7M165.8 214.4h.7M162.1 207.0h.7M161.9 207.8h.7M155.2 203.3h.7M155.7 212.0h.7M155.2 204.5h.7M159.9 214.5h.7M155.0 213.9h.7M160.3 205.1h.7M155.3 200.8h.7M150.3 212.1h.7M151.1 211.9h.7M157.3 199.8h.7M155.5 210.6h.7M152.0 202.1h.7M154.5 205.7h.7M156.0 200.4h.7M151.7 211.6h.7M151.0 214.3h.7M151.3 209.3h.7M162.0 212.6h.7M153.8 202.5h.7M147.5 216.0h.7M158.0 210.3h.7M161.7 210.7h.7M151.8 209.5h.7M155.0 209.9h.7M167.9 212.9h.7M156.8 208.8h.7M152.1 205.1h.7M147.9 200.8h.7M150.8 199.9h.7M162.3 216.2h.7M158.8 197.4h.7M155.6 205.0h.7M146.8 208.7h.7M161.2 212.2h.7M148.2 206.7h.7M151.7 215.7h.7M155.0 205.1h.7M150.9 200.2h.7M151.2 214.5h.7M154.9 214.1h.7M149.7 214.5h.7M147.3 209.8h.7M154.4 210.6h.7M150.5 214.3h.7M150.7 207.1h.7M159.1 210.7h.7M151.6 216.2h.7M158.0 215.1h.7M154.6 216.4h.7M153.1 204.4h.7M155.4 203.0h.7M161.7 213.7h.7M147.0 210.9h.7M159.7 208.2h.7M157.5 207.1h.7M155.1 209.6h.7M157.9 205.2h.7M149.8 211.6h.7M152.9 212.6h.7M152.9 203.4h.7M159.1 211.3h.7M159.1 208.3h.7M153.6 216.3h.7M158.0 209.7h.7M155.9 213.0h.7M151.6 211.4h.7M150.6 200.7h.7M156.4 210.5h.7M158.7 212.8h.7M158.9 214.0h.7M150.1 216.1h.7M168.9 207.2h.7M149.1 213.4h.7M160.0 215.1h.7M163.1 203.1h.7M157.3 212.3h.7M161.7 205.5h.7M155.5 208.1h.7M154.6 209.3h.7M154.7 201.1h.7M155.2 210.3h.7M153.5 192.2h.7M151.9 206.7h.7M160.1 209.1h.7M150.5 212.4h.7M161.0 209.4h.7M158.5 206.0h.7M147.5 214.2h.7M163.6 208.5h.7M152.8 201.0h.7M166.2 204.0h.7M150.5 209.0h.7M161.5 210.3h.7M155.3 210.1h.7M159.7 209.8h.7M171.4 202.4h.7M166.8 206.8h.7M168.3 198.5h.7M169.2 202.7h.7M173.8 198.0h.7M166.2 203.2h.7M172.2 199.2h.7M166.7 203.1h.7M170.3 197.6h.7M167.6 207.2h.7M167.0 205.9h.7M165.3 207.2h.7M176.6 200.6h.7M168.3 204.6h.7M166.3 204.3h.7M175.2 203.4h.7M172.0 202.1h.7M174.4 200.0h.7M176.6 202.5h.7M169.6 197.5h.7M169.2 203.3h.7M175.3 197.6h.7M170.3 200.5h.7M166.5 202.6h.7M168.1 205.3h.7M161.1 204.9h.7M163.9 196.5h.7M172.7 201.5h.7M171.3 199.6h.7M167.0 200.3h.7M170.6 200.0h.7M169.3 199.9h.7M171.6 199.1h.7M163.3 194.4h.7M170.7 202.9h.7M174.3 200.3h.7M166.7 198.0h.7M173.5 200.7h.7M174.4 202.4h.7M169.8 196.8h.7M168.4 205.1h.7M168.6 204.7h.7M164.9 205.8h.7M180.9 206.1h.7M172.0 198.8h.7M168.9 200.6h.7M171.5 196.3h.7M167.7 205.1h.7M171.3 204.9h.7M173.9 199.0h.7M165.9 204.0h.7M170.9 202.8h.7M167.9 205.8h.7M172.6 206.2h.7M169.5 204.8h.7M170.6 199.7h.7M170.5 197.4h.7M170.2 203.2h.7M173.3 199.3h.7M166.0 200.3h.7M163.3 200.6h.7M180.3 203.0h.7M168.1 200.5h.7M177.2 199.0h.7M170.4 202.4h.7M168.2 200.4h.7M164.7 200.0h.7M175.5 207.0h.7M169.8 204.8h.7M172.5 202.9h.7M170.3 206.4h.7M172.9 201.9h.7M170.0 205.5h.7M168.7 200.4h.7M169.8 201.1h.7M175.4 203.7h.7M170.5 201.0h.7M175.9 204.0h.7M178.3 205.4h.7M170.0 200.9h.7M169.8 203.2h.7M173.7 204.1h.7M176.5 197.9h.7M170.9 198.2h.7M167.1 200.7h.7M168.4 199.6h.7M165.3 206.1h.7M169.6 205.6h.7M166.8 195.4h.7M168.7 205.3h.7M168.8 203.8h.7M166.9 206.9h.7M172.4 205.9h.7M169.8 206.6h.7M171.1 201.1h.7M168.5 202.8h.7M167.5 198.9h.7M171.3 204.8h.7M169.7 205.2h.7M176.5 198.7h.7M171.7 199.6h.7M168.5 203.2h.7M162.2 204.5h.7M173.8 204.3h.7M173.1 208.2h.7M169.5 206.0h.7M176.0 204.1h.7M164.4 202.1h.7M169.7 197.6h.7M170.6 204.9h.7M169.9 202.0h.7M176.1 200.7h.7M167.4 202.7h.7M174.8 204.4h.7M171.1 201.1h.7M175.2 205.3h.7M164.5 203.6h.7M162.1 207.2h.7M173.0 200.6h.7M166.1 201.7h.7M164.5 204.4h.7M169.0 197.1h.7M170.7 206.3h.7M166.2 201.5h.7M177.4 203.2h.7M168.8 203.2h.7M173.6 199.5h.7M170.4 197.5h.7M165.1 197.8h.7M173.8 203.6h.7M173.4 206.4h.7M171.0 203.3h.7M172.3 204.0h.7M167.0 201.7h.7M170.2 202.7h.7M168.1 202.2h.7M171.8 203.2h.7M172.9 205.1h.7M172.8 205.6h.7M173.8 206.9h.7M173.1 200.7h.7M179.2 206.1h.7M175.3 204.9h.7M171.0 199.0h.7M172.4 201.5h.7M169.4 196.0h.7M176.4 199.0h.7M166.8 204.0h.7M172.8 200.1h.7M170.8 203.4h.7M171.4 204.2h.7M173.6 201.5h.7M164.9 209.3h.7M169.4 199.5h.7M173.5 204.4h.7M168.6 209.9h.7M162.3 206.6h.7M170.7 203.6h.7M171.9 201.9h.7M171.9 198.5h.7M169.4 208.3h.7M161.5 206.4h.7M162.7 199.9h.7M174.0 201.3h.7M168.7 197.9h.7M170.4 202.0h.7M168.5 197.7h.7M171.4 203.9h.7M174.9 204.2h.7M176.3 206.3h.7M160.6 207.8h.7M170.4 199.3h.7M172.4 205.6h.7M165.2 198.8h.7M173.3 200.9h.7M176.1 203.3h.7M168.8 198.5h.7M173.0 197.2h.7M166.1 198.5h.7M176.9 207.9h.7M170.0 201.4h.7M173.3 206.5h.7M167.9 209.4h.7M170.0 206.1h.7M162.3 202.4h.7M168.3 208.8h.7M170.0 198.6h.7M177.8 200.5h.7M170.8 198.7h.7M173.2 203.2h.7M169.8 201.3h.7M168.7 200.4h.7M165.7 206.3h.7M174.0 198.3h.7M166.6 203.9h.7M179.0 202.0h.7M169.7 201.8h.7M171.7 202.1h.7M174.7 205.7h.7M172.8 207.5h.7M170.0 200.9h.7M181.6 196.6h.7M165.2 195.3h.7M172.1 199.3h.7M174.6 196.1h.7M170.3 201.4h.7M166.9 206.1h.7M169.4 204.0h.7M168.9 203.1h.7M169.2 202.8h.7M170.4 200.5h.7M172.4 202.0h.7M167.3 199.3h.7M172.4 206.7h.7M166.1 201.3h.7M172.4 205.8h.7M173.4 198.9h.7M170.9 205.4h.7M171.7 201.9h.7M166.5 203.1h.7M170.6 202.7h.7M176.2 206.3h.7M167.9 203.3h.7M169.7 202.9h.7M176.7 205.4h.7M170.9 200.6h.7M170.2 203.7h.7M169.0 206.0h.7M170.9 198.9h.7M178.2 193.6h.7M169.8 202.2h.7M174.4 206.1h.7M176.1 207.5h.7M171.9 202.9h.7M174.5 202.5h.7M166.2 201.2h.7M173.2 204.5h.7M166.8 206.3h.7M171.9 197.9h.7M172.5 205.7h.7M172.7 201.6h.7M167.9 206.1h.7M171.6 202.6h.7M169.4 199.4h.7M164.0 201.5h.7M174.8 205.0h.7M168.3 207.3h.7M170.0 199.5h.7M174.3 206.9h.7M169.4 198.8h.7M170.6 195.0h.7M171.0 207.3h.7M171.8 200.3h.7M173.4 201.1h.7M175.4 201.5h.7M178.2 201.5h.7M171.5 199.7h.7M166.2 203.7h.7M172.1 199.6h.7M172.8 201.3h.7M168.8 202.4h.7M172.2 204.9h.7M175.3 203.8h.7M168.2 200.5h.7M172.1 198.9h.7M170.2 201.4h.7M170.4 203.2h.7M174.6 207.7h.7M174.0 205.7h.7M166.9 205.8h.7M175.5 198.4h.7M179.9 200.8h.7M162.2 208.1h.7M171.0 200.1h.7M168.7 205.9h.7M171.7 201.4h.7M175.0 199.7h.7M167.7 200.9h.7M168.1 204.7h.7M170.0 199.3h.7M171.2 200.0h.7M175.6 209.5h.7M178.7 207.9h.7M177.2 204.8h.7M174.6 209.7h.7M165.9 211.6h.7M175.4 209.2h.7M174.4 205.5h.7M168.4 211.7h.7M172.9 205.4h.7M169.3 213.2h.7M175.0 213.7h.7M174.3 203.7h.7M180.5 210.4h.7M169.8 207.6h.7M167.6 212.7h.7M171.5 211.2h.7M176.2 207.8h.7M177.0 207.9h.7M166.1 207.1h.7M166.1 212.4h.7M179.0 206.4h.7M178.7 210.1h.7M181.2 204.8h.7M174.6 204.5h.7M169.6 215.2h.7M160.3 204.9h.7M177.8 212.5h.7M168.9 199.9h.7M162.3 210.6h.7M182.1 213.1h.7M169.3 215.1h.7M173.1 211.8h.7M173.1 216.2h.7M170.8 199.3h.7M172.2 209.9h.7M176.3 205.8h.7M172.8 203.9h.7M172.8 209.4h.7M176.1 216.4h.7M160.4 211.3h.7M177.4 203.8h.7M174.9 209.0h.7M167.4 212.2h.7M187.8 212.0h.7M179.8 213.8h.7M173.5 213.4h.7M168.7 209.8h.7M179.3 214.9h.7M172.4 207.7h.7M177.7 208.6h.7M175.4 212.6h.7M169.0 212.9h.7M177.1 207.8h.7M165.7 206.2h.7M174.1 213.2h.7M160.6 212.2h.7M175.7 203.9h.7M180.4 210.8h.7M177.4 204.6h.7M166.7 213.1h.7M184.2 210.6h.7M173.1 207.0h.7M162.4 213.4h.7M173.7 214.5h.7M169.4 213.7h.7M169.4 211.6h.7M184.0 205.8h.7M180.7 209.0h.7M167.9 209.9h.7M178.9 205.8h.7M172.5 206.5h.7M169.0 208.1h.7M180.1 206.8h.7M183.1 207.3h.7M169.6 213.8h.7M184.2 206.1h.7M178.5 203.8h.7M171.6 207.3h.7M179.3 203.4h.7M170.8 205.9h.7M175.1 203.5h.7M175.9 202.3h.7M180.2 203.1h.7M161.3 216.4h.7M183.1 205.3h.7M166.8 211.1h.7M188.5 211.7h.7M179.0 203.7h.7M162.1 210.7h.7M181.4 209.6h.7M174.4 215.2h.7M168.6 213.9h.7M180.2 206.2h.7M175.3 209.5h.7M178.4 204.7h.7M172.8 209.4h.7M174.6 209.1h.7M176.1 208.1h.7M170.9 213.6h.7M170.0 207.6h.7M168.3 203.9h.7M177.5 208.8h.7M173.5 211.0h.7M173.2 212.0h.7M186.9 210.5h.7M172.6 216.3h.7M179.3 201.6h.7M183.6 209.9h.7M180.3 203.9h.7M168.5 206.1h.7M178.2 204.0h.7M169.5 213.2h.7M170.0 209.5h.7M168.2 201.5h.7M173.8 208.5h.7M164.5 213.3h.7M180.0 212.9h.7M170.9 203.9h.7M173.8 209.7h.7M159.2 192.0h.7M153.5 190.9h.7M159.8 192.6h.7M171.9 194.1h.7M163.5 192.8h.7M159.1 189.3h.7M157.1 185.7h.7M153.1 199.0h.7M159.5 192.1h.7M165.4 192.2h.7M163.4 193.5h.7M167.1 202.6h.7M160.8 203.5h.7M163.9 206.7h.7M159.6 185.4h.7M161.8 197.6h.7M157.9 194.6h.7M158.5 187.4h.7M172.2 190.7h.7M153.0 185.1h.7M154.6 195.7h.7M170.5 200.1h.7M155.4 187.5h.7M152.7 195.4h.7M166.3 192.7h.7M171.4 209.3h.7M161.5 181.1h.7M167.9 195.3h.7M165.0 202.8h.7M153.5 196.4h.7M161.6 190.8h.7M165.2 195.1h.7M157.6 208.9h.7M161.5 207.2h.7M159.3 203.1h.7M155.2 197.0h.7M167.8 181.1h.7M164.1 194.1h.7M167.8 197.2h.7M159.9 187.2h.7M180.5 190.9h.7M158.2 191.0h.7M158.3 197.5h.7M151.2 203.2h.7M158.6 200.1h.7M158.3 193.3h.7M155.8 198.1h.7M163.2 189.3h.7M146.9 201.0h.7M158.2 203.3h.7M166.3 195.3h.7M150.6 193.5h.7M155.4 204.5h.7M148.8 202.3h.7M149.8 192.1h.7M150.7 191.2h.7M157.3 198.5h.7M156.3 200.7h.7M172.3 197.1h.7M152.5 194.8h.7M159.7 193.5h.7M168.2 203.9h.7M174.1 199.6h.7M164.9 190.5h.7M156.3 202.2h.7M161.3 188.3h.7M156.4 174.8h.7M160.3 187.6h.7M160.0 187.8h.7M154.0 192.4h.7M179.4 187.8h.7M152.3 192.3h.7M167.6 201.5h.7M165.1 193.8h.7M161.2 190.7h.7M159.1 190.4h.7M150.4 189.2h.7M173.5 198.7h.7M155.2 195.2h.7M157.3 204.3h.7M160.2 191.6h.7M165.0 198.2h.7M155.7 190.7h.7M161.3 184.8h.7M154.1 202.9h.7M166.2 203.6h.7M157.3 191.9h.7M158.5 192.7h.7M169.1 194.4h.7M169.6 191.1h.7M162.9 207.1h.7M155.3 191.5h.7M156.2 184.9h.7M158.3 191.6h.7M175.4 192.7h.7M166.8 195.7h.7M162.3 200.9h.7M156.5 196.3h.7M161.3 207.3h.7M170.0 197.1h.7M170.6 189.9h.7M166.9 181.7h.7M165.7 165.6h.7" stroke="#000" stroke-width="0.7" fill="none" opacity="0.8"/>
<rect x="145.40" y="144.6" width="82.7" height="74.00" fill="none" stroke="#6c6c6c" stroke-width="1.0"/>
<text x="136.80" y="146.10" font-size="2.8" font-weight="bold" fill="#222">10<tspan dy="-1.2" font-size="2.7">4</tspan></text>
<text x="136.80" y="164.10" font-size="2.8" font-weight="bold" fill="#222">10<tspan dy="-1.2" font-size="2.7">3</tspan></text>
<text x="136.80" y="182.80" font-size="2.8" font-weight="bold" fill="#222">10<tspan dy="-1.2" font-size="2.7">2</tspan></text>
<text x="136.80" y="201.00" font-size="2.8" font-weight="bold" fill="#222">10<tspan dy="-1.2" font-size="2.7">1</tspan></text>
<text x="136.80" y="218.20" font-size="2.8" font-weight="bold" fill="#222">10<tspan dy="-1.2" font-size="2.7">0</tspan></text>
<text x="145.80" y="225.00" font-size="2.8" font-weight="bold" fill="#222">10<tspan dy="-1.2" font-size="2.7">0</tspan></text>
<text x="164.80" y="225.00" font-size="2.8" font-weight="bold" fill="#222">10<tspan dy="-1.2" font-size="2.7">1</tspan></text>
<text x="185.90" y="225.00" font-size="2.8" font-weight="bold" fill="#222">10<tspan dy="-1.2" font-size="2.7">2</tspan></text>
<text x="206.20" y="225.00" font-size="2.8" font-weight="bold" fill="#222">10<tspan dy="-1.2" font-size="2.7">3</tspan></text>
<text x="223.60" y="225.00" font-size="2.8" font-weight="bold" fill="#222">10<tspan dy="-1.2" font-size="2.7">4</tspan></text>
<path d="M146.6 178.9 H169.4 V195.6 L161.2 203.6 H146.6 Z M161.2 203.6 L169.4 195.6 H189.1 V218 H161.2 Z" fill="none" stroke="#111" stroke-width="1.4" stroke-linejoin="miter"/>
<text x="218.30" y="152.60" font-size="8.8" text-anchor="end" fill="#000" stroke="#000" stroke-width="0.32" >81</text>
<line x1="223.50" y1="149.00" x2="212.10" y2="160.60" stroke="#000" stroke-width="1.25" />
<text x="218.30" y="160.10" font-size="8.8" text-anchor="start" fill="#000" stroke="#000" stroke-width="0.32" >11</text>
<path d="M152.03 319.33L153.31 312.95L154.40 314.77L155.13 311.12L155.68 305.65L156.59 312.95L157.32 308.39L158.05 302.01L158.78 309.30L159.33 303.83L159.87 296.53L160.60 305.65L161.15 299.27L161.70 294.71L162.43 285.59L162.97 281.95L163.52 278.30L164.25 281.95L164.80 277.39L165.34 272.83L165.89 265.53L166.26 258.24L166.80 250.94L167.17 247.29L167.90 245.47L168.81 246.38L169.36 254.59L169.90 263.71L170.27 269.18L170.81 265.53L171.18 267.36L171.73 271.00L172.09 272.83L172.64 273.74L173.00 276.47L173.55 267.36L173.91 259.51L174.46 263.71L174.83 267.36L175.37 281.95L175.92 282.86L176.29 285.59L177.02 294.71L177.56 297.45L178.11 302.01L179.02 309.30L179.75 308.94L180.30 310.21L181.21 314.77L182.49 316.60L183.95 319.33Z" fill="#7f7f7f" stroke="#7f7f7f" stroke-width="0.25" stroke-linejoin="round"/>
<path d="M147.47 319.33L148.57 317.51L149.29 314.77L150.21 310.21L151.12 303.83L152.03 294.71L152.94 285.59L153.85 274.65L154.77 263.71L155.68 255.50L156.59 249.12L157.32 246.57L158.05 245.84L158.60 247.66L158.96 250.94L159.51 257.33L159.87 261.88L160.24 263.34L160.78 269.18L161.33 275.56L161.70 279.21L162.24 282.31L162.61 283.77L163.16 282.49L163.88 282.86L164.43 283.04L164.80 284.68L165.34 288.88L165.71 292.89L166.26 299.27L166.62 303.83L167.17 308.39L167.53 311.12L168.26 314.41L168.99 316.60L170.09 318.05L171.18 318.78L173.91 319.15L178.47 319.33L187.59 319.33" fill="none" stroke="#111" stroke-width="1.2" stroke-linejoin="round"/>
<rect x="145.00" y="245.5" width="82.60" height="74.00" fill="none" stroke="#7c7c7c" stroke-width="1.1"/>
<text x="145.40" y="325.80" font-size="2.8" font-weight="bold" fill="#222">10<tspan dy="-1.2" font-size="2.7">0</tspan></text>
<text x="164.40" y="325.80" font-size="2.8" font-weight="bold" fill="#222">10<tspan dy="-1.2" font-size="2.7">1</tspan></text>
<text x="185.50" y="325.80" font-size="2.8" font-weight="bold" fill="#222">10<tspan dy="-1.2" font-size="2.7">2</tspan></text>
<text x="205.80" y="325.80" font-size="2.8" font-weight="bold" fill="#222">10<tspan dy="-1.2" font-size="2.7">3</tspan></text>
<text x="223.20" y="325.80" font-size="2.8" font-weight="bold" fill="#222">10<tspan dy="-1.2" font-size="2.7">4</tspan></text>
<text x="224.30" y="255.00" font-size="8.8" text-anchor="end" fill="#000" stroke="#000" stroke-width="0.32" >85</text>
<text x="281.65" y="134.90" font-size="8.3" font-weight="bold" text-anchor="middle" fill="#000" stroke="#000" stroke-width="0.32" letter-spacing="0.15">IlLN</text>
<clipPath id="cp2"><rect x="243.20" y="144.6" width="82.7" height="73.50"/></clipPath>
<g clip-path="url(#cp2)" opacity="1.0">
<ellipse cx="251.8" cy="192.4" rx="10.3" ry="10.5" fill="url(#blob)"/>
<ellipse cx="244.5" cy="192.6" rx="3.5" ry="2.5" fill="url(#blob)" opacity="0.8"/>
<ellipse cx="253.4" cy="198.8" rx="3.0" ry="2.8" fill="url(#blob)" opacity="0.8"/>
<ellipse cx="246.3" cy="192.5" rx="2.8" ry="3.0" fill="url(#blob)" opacity="0.8"/>
<ellipse cx="251.9" cy="185.6" rx="2.3" ry="2.5" fill="url(#blob)" opacity="0.8"/>
<ellipse cx="244.9" cy="193.2" rx="2.6" ry="3.2" fill="url(#blob)" opacity="0.8"/>
<ellipse cx="252.5" cy="198.2" rx="3.4" ry="2.5" fill="url(#blob)" opacity="0.8"/>
<ellipse cx="255.2" cy="187.0" rx="2.2" ry="2.9" fill="url(#blob)" opacity="0.8"/>
<ellipse cx="246.6" cy="191.0" rx="2.7" ry="2.9" fill="url(#blob)" opacity="0.8"/>
<ellipse cx="244.6" cy="193.6" rx="2.7" ry="3.5" fill="url(#blob)" opacity="0.8"/>
</g>
<g clip-path="url(#cp2)" opacity="0.85">
<ellipse cx="251.2" cy="207.5" rx="8.4" ry="9.5" fill="url(#blob)"/>
<ellipse cx="249.7" cy="213.5" rx="2.4" ry="3.0" fill="url(#blob)" opacity="0.8"/>
<ellipse cx="251.1" cy="201.1" rx="2.3" ry="3.2" fill="url(#blob)" opacity="0.8"/>
<ellipse cx="254.6" cy="213.1" rx="2.6" ry="3.4" fill="url(#blob)" opacity="0.8"/>
<ellipse cx="254.3" cy="213.3" rx="3.0" ry="2.5" fill="url(#blob)" opacity="0.8"/>
<ellipse cx="256.1" cy="204.3" rx="3.2" ry="2.8" fill="url(#blob)" opacity="0.8"/>
<ellipse cx="251.8" cy="213.5" rx="3.4" ry="3.2" fill="url(#blob)" opacity="0.8"/>
<ellipse cx="250.2" cy="202.9" rx="2.8" ry="2.6" fill="url(#blob)" opacity="0.8"/>
<ellipse cx="245.9" cy="206.2" rx="3.0" ry="2.2" fill="url(#blob)" opacity="0.8"/>
<ellipse cx="249.6" cy="212.4" rx="2.8" ry="2.6" fill="url(#blob)" opacity="0.8"/>
</g>
<path d="M255.5 196.9h.7M256.4 182.7h.7M257.3 198.4h.7M253.4 200.1h.7M255.8 201.8h.7M247.5 197.7h.7M255.8 198.5h.7M252.3 190.9h.7M249.2 181.8h.7M251.3 204.0h.7M249.7 204.5h.7M258.0 181.0h.7M245.7 190.8h.7M256.4 201.3h.7M250.4 185.1h.7M249.7 199.7h.7M246.0 187.8h.7M257.4 187.1h.7M252.4 189.5h.7M258.4 189.0h.7M255.2 185.8h.7M250.0 182.3h.7M257.0 188.0h.7M255.8 202.9h.7M252.6 188.2h.7M249.0 185.2h.7M250.3 201.0h.7M248.2 190.3h.7M249.7 183.8h.7M248.7 198.6h.7M256.5 181.7h.7M254.3 188.0h.7M261.6 199.1h.7M258.7 195.1h.7M260.3 190.7h.7M256.2 189.5h.7M253.0 184.8h.7M254.2 196.3h.7M251.3 204.6h.7M254.3 185.2h.7M258.3 179.4h.7M256.2 191.2h.7M247.5 194.3h.7M255.4 184.4h.7M250.7 196.0h.7M261.5 190.5h.7M264.7 185.9h.7M247.7 197.7h.7M244.3 197.6h.7M244.0 185.8h.7M248.8 199.3h.7M265.4 187.7h.7M251.1 183.6h.7M246.8 196.6h.7M246.2 196.1h.7M258.7 198.7h.7M245.2 194.7h.7M251.3 201.9h.7M244.9 195.9h.7M254.9 176.9h.7M257.4 187.4h.7M253.6 200.2h.7M245.6 186.3h.7M248.1 187.7h.7M245.3 190.9h.7M248.5 185.6h.7M261.5 190.6h.7M258.2 197.4h.7M246.2 196.4h.7M257.2 198.5h.7M250.7 201.3h.7M252.8 186.5h.7M258.4 186.5h.7M250.9 192.5h.7M250.1 181.0h.7M257.5 186.2h.7M257.2 185.9h.7M250.3 198.5h.7M256.6 198.7h.7M253.3 204.8h.7M256.0 178.9h.7M244.4 203.9h.7M268.5 188.8h.7M256.7 188.9h.7M253.0 194.9h.7M261.7 192.1h.7M247.3 199.0h.7M252.3 196.6h.7M254.5 179.1h.7M256.8 183.2h.7M251.7 182.3h.7M243.9 196.3h.7M255.8 184.4h.7M256.9 178.2h.7M264.1 195.7h.7M259.2 197.3h.7M254.8 184.6h.7M249.5 201.4h.7M255.8 201.9h.7M245.1 186.3h.7M255.0 182.1h.7M259.8 190.4h.7M244.7 181.1h.7M260.8 195.1h.7M250.6 201.7h.7M252.5 183.8h.7M247.3 191.8h.7M254.0 195.4h.7M254.4 184.9h.7M254.1 200.9h.7M248.1 196.2h.7M255.4 199.3h.7M247.8 199.4h.7M253.1 189.3h.7M249.5 187.0h.7M261.6 185.6h.7M258.3 197.9h.7M255.8 200.4h.7M254.2 193.1h.7M246.4 191.7h.7M256.1 203.2h.7M247.3 197.4h.7M255.0 184.2h.7M259.2 204.2h.7M261.1 187.7h.7M247.4 201.9h.7M250.0 185.4h.7M260.8 189.0h.7M259.6 178.4h.7M245.8 202.9h.7M261.4 192.5h.7M258.8 195.9h.7M247.8 205.3h.7M259.3 185.4h.7M246.3 198.0h.7M245.4 188.3h.7M263.9 192.3h.7M253.8 199.4h.7M246.4 184.5h.7M260.0 179.3h.7M245.8 194.3h.7M249.0 199.3h.7M251.3 201.5h.7M254.5 192.4h.7M263.8 195.3h.7M255.7 206.6h.7M245.8 195.4h.7M252.1 182.1h.7M251.3 183.6h.7M260.7 194.8h.7M257.5 196.8h.7M251.8 195.7h.7M246.0 185.8h.7M246.8 187.7h.7M253.5 200.0h.7M252.5 196.9h.7M253.5 202.7h.7M262.4 198.1h.7M260.4 186.8h.7M249.7 202.4h.7M249.6 193.9h.7M268.3 190.6h.7M259.5 192.7h.7M257.0 191.1h.7M251.3 190.2h.7M250.0 208.2h.7M259.6 201.5h.7M257.8 199.4h.7M256.1 177.9h.7M250.7 190.8h.7M260.1 200.8h.7M256.9 199.2h.7M247.3 201.6h.7M244.5 193.1h.7M245.3 189.7h.7M252.8 184.1h.7M264.4 187.7h.7M251.4 181.8h.7M247.3 186.3h.7M262.3 196.9h.7M248.9 180.2h.7M246.4 186.9h.7M258.7 186.1h.7M250.0 181.3h.7M256.8 184.1h.7M252.0 187.9h.7M258.9 201.5h.7M255.7 193.3h.7M255.5 187.6h.7M260.7 186.1h.7M251.1 184.9h.7M243.9 191.6h.7M256.8 203.5h.7M245.7 181.4h.7M249.7 200.4h.7M260.4 184.5h.7M248.9 181.8h.7M247.7 186.8h.7M254.3 198.9h.7M252.8 203.4h.7M255.8 201.3h.7M253.7 197.3h.7M256.9 197.7h.7M250.7 201.9h.7M259.2 195.9h.7M251.5 206.9h.7M248.4 199.9h.7M264.2 194.8h.7M244.4 182.7h.7M249.6 194.9h.7M250.4 209.2h.7M250.4 202.5h.7M251.4 184.0h.7M255.5 194.6h.7M261.1 194.5h.7M259.8 186.1h.7M252.4 188.3h.7M251.3 191.2h.7M251.0 188.8h.7M246.0 187.6h.7M264.0 184.3h.7M246.0 204.2h.7M248.3 199.3h.7M251.8 201.6h.7M254.2 201.9h.7M248.3 184.1h.7M251.5 202.6h.7M253.5 200.7h.7M246.5 183.5h.7M247.7 181.8h.7M247.5 183.6h.7M255.8 185.7h.7M250.3 199.5h.7M254.0 188.3h.7M255.8 181.4h.7M243.8 197.5h.7M247.8 190.0h.7M255.6 173.0h.7M256.0 185.5h.7M246.2 190.1h.7M252.2 194.9h.7M251.6 180.6h.7M253.4 183.3h.7M256.6 183.5h.7M245.9 187.9h.7M249.6 183.8h.7M260.1 182.4h.7M250.9 194.7h.7M251.0 184.2h.7M249.3 184.6h.7M248.7 192.0h.7M244.3 198.1h.7M257.1 197.8h.7M246.2 197.3h.7M257.8 201.7h.7M248.9 195.0h.7M246.7 185.3h.7M244.0 191.0h.7M260.3 189.7h.7M259.4 184.9h.7M244.9 180.8h.7M258.4 195.1h.7M256.7 197.6h.7M244.8 188.2h.7M254.9 192.3h.7M257.6 200.5h.7M244.5 182.0h.7M252.3 212.0h.7M249.2 179.4h.7M252.7 200.8h.7M259.9 192.6h.7M257.8 194.3h.7M259.8 194.7h.7M256.8 203.4h.7M262.1 189.2h.7M259.4 188.3h.7M257.9 188.9h.7M261.8 182.5h.7M253.2 207.6h.7M264.4 191.9h.7M255.8 180.6h.7M258.7 189.1h.7M258.0 188.5h.7M254.7 182.2h.7M244.7 195.4h.7M256.1 181.2h.7M254.8 183.7h.7M244.6 186.9h.7M246.0 198.5h.7M247.1 182.1h.7M249.8 179.6h.7M257.9 187.3h.7M259.2 190.1h.7M247.9 181.5h.7M247.5 180.0h.7M254.7 178.1h.7M252.1 201.0h.7M265.3 185.0h.7M250.1 196.0h.7M257.6 194.2h.7M264.0 189.9h.7M259.5 197.1h.7M248.5 175.5h.7M259.8 195.1h.7M261.2 191.0h.7M258.0 195.5h.7M254.5 196.8h.7M247.5 185.3h.7M248.9 181.4h.7M258.2 188.3h.7M254.5 183.9h.7M252.9 212.5h.7M254.3 206.4h.7M258.4 186.8h.7M256.1 185.0h.7M253.6 202.8h.7M252.3 185.6h.7M262.9 196.1h.7M248.0 198.0h.7M253.5 192.5h.7M257.7 189.4h.7M245.2 187.4h.7M245.9 188.9h.7M247.4 205.6h.7M262.0 190.4h.7M252.4 206.2h.7M245.6 194.3h.7M247.8 185.9h.7M260.2 183.8h.7M247.7 203.5h.7M248.9 200.4h.7M256.2 199.2h.7M246.9 210.1h.7M249.5 187.4h.7M258.5 198.7h.7M268.2 208.4h.7M258.1 197.1h.7M249.5 191.5h.7M245.6 188.7h.7M245.3 198.5h.7M263.5 190.1h.7M254.4 202.2h.7M258.3 186.3h.7M244.1 198.9h.7M259.2 207.3h.7M257.2 195.2h.7M246.3 189.8h.7M245.0 193.6h.7M247.1 199.9h.7M245.1 191.0h.7M253.1 200.4h.7M257.1 176.2h.7M259.7 189.1h.7M245.6 186.7h.7M250.3 190.0h.7M258.7 188.7h.7M251.6 199.7h.7M253.4 183.8h.7M245.7 187.0h.7M254.5 207.4h.7M254.1 204.4h.7M244.8 208.9h.7M249.0 200.2h.7M254.4 192.1h.7M260.1 193.5h.7M253.5 186.8h.7M254.7 189.6h.7M263.8 184.9h.7M250.5 200.9h.7M264.7 198.9h.7M255.9 195.6h.7M258.6 192.8h.7M250.5 193.8h.7M247.5 186.1h.7M256.2 197.0h.7M245.2 189.3h.7M260.3 195.5h.7M260.1 192.0h.7M244.6 200.1h.7M255.7 176.2h.7M246.1 188.3h.7M257.9 188.6h.7M250.9 204.3h.7M258.7 195.5h.7M262.1 187.4h.7M244.3 194.9h.7M247.5 197.6h.7M251.4 184.6h.7M244.8 190.7h.7M258.9 188.5h.7M259.5 201.1h.7M252.7 196.4h.7M260.5 190.9h.7M250.5 194.4h.7M253.9 190.6h.7M248.7 190.3h.7M253.9 204.2h.7M247.4 201.4h.7M249.4 179.1h.7M248.1 202.1h.7M256.5 199.8h.7M254.4 201.5h.7M257.3 202.7h.7M255.6 201.0h.7M265.2 195.4h.7M246.4 186.7h.7M260.3 198.6h.7M260.0 194.4h.7M261.6 185.6h.7M247.1 195.3h.7M260.6 191.6h.7M250.9 179.5h.7M247.5 192.9h.7M261.0 189.3h.7M257.4 200.3h.7M257.1 203.4h.7M250.7 206.0h.7M259.0 180.3h.7M245.9 195.7h.7M265.4 196.8h.7M254.5 200.8h.7M259.6 195.8h.7M257.9 198.6h.7M262.6 193.4h.7M261.2 196.7h.7M261.9 187.9h.7M256.8 199.8h.7M248.2 193.0h.7M258.3 197.9h.7M253.9 189.6h.7M259.3 202.9h.7M259.3 195.1h.7M245.3 190.6h.7M255.4 190.4h.7M252.0 212.2h.7M256.9 187.2h.7M262.9 191.5h.7M252.0 183.0h.7M256.9 201.8h.7M253.0 183.4h.7M251.5 201.7h.7M256.4 184.1h.7M249.0 199.1h.7M249.5 199.0h.7M255.6 183.0h.7M254.7 184.8h.7M257.1 186.1h.7M256.5 185.6h.7M254.9 201.5h.7M250.0 200.5h.7M253.7 193.2h.7M263.4 186.2h.7M260.6 192.0h.7M264.8 187.0h.7M258.5 188.5h.7M261.7 187.4h.7M244.9 189.2h.7M246.3 185.2h.7M246.5 200.0h.7M245.0 184.3h.7M261.2 189.0h.7M255.2 185.4h.7M252.2 197.2h.7M254.7 182.5h.7M254.7 194.1h.7M256.8 201.3h.7M251.8 190.6h.7M245.7 189.7h.7M261.4 196.9h.7M259.3 190.7h.7M254.9 199.6h.7M260.5 193.5h.7M255.5 202.3h.7M257.9 197.3h.7M256.8 198.9h.7M254.5 195.1h.7M258.7 192.3h.7M257.9 198.1h.7M249.3 185.3h.7M244.9 199.4h.7M258.1 195.1h.7M252.6 193.1h.7M256.4 198.0h.7M260.5 188.9h.7M246.1 196.4h.7M257.5 187.3h.7M251.2 201.6h.7M246.0 188.8h.7M245.7 193.9h.7M247.1 196.2h.7M258.7 203.7h.7M245.9 199.7h.7M246.6 186.7h.7M246.6 186.0h.7M244.7 194.1h.7M246.0 196.0h.7M257.3 193.7h.7M256.5 182.1h.7M253.3 200.8h.7M244.6 202.1h.7M259.0 182.8h.7M246.3 192.9h.7M260.3 187.2h.7M243.8 190.7h.7M256.1 184.9h.7M257.9 197.6h.7M245.1 175.7h.7M257.9 197.9h.7M249.4 200.7h.7M252.6 173.1h.7M246.9 187.8h.7M246.8 182.1h.7M249.0 184.6h.7M255.6 184.8h.7M253.6 197.8h.7M245.9 194.4h.7M243.8 185.8h.7M251.1 200.6h.7M256.1 184.9h.7M252.6 204.7h.7M257.1 205.1h.7M249.8 189.4h.7M260.0 187.3h.7M253.6 182.4h.7M260.1 193.0h.7M245.9 188.2h.7M248.8 179.9h.7M246.0 185.2h.7M244.5 187.5h.7M245.1 196.6h.7M246.2 196.2h.7M261.4 200.8h.7M260.5 192.8h.7M245.1 203.5h.7M245.2 199.7h.7M248.3 186.1h.7M249.7 201.6h.7M259.2 191.9h.7M249.0 202.1h.7M263.0 188.0h.7M258.0 183.2h.7M250.9 191.9h.7M252.8 189.7h.7M245.6 188.5h.7M256.6 186.8h.7M258.0 198.4h.7M250.9 184.9h.7M255.2 183.5h.7M244.5 189.7h.7M254.9 202.6h.7M244.9 185.7h.7M259.6 189.5h.7M245.4 199.8h.7M248.6 189.6h.7M247.3 184.5h.7M244.4 193.4h.7M253.5 204.0h.7M249.6 184.4h.7M244.7 195.5h.7M251.8 198.0h.7M254.8 179.2h.7M252.8 203.6h.7M258.0 179.6h.7M248.2 201.8h.7M249.9 199.6h.7M256.0 204.2h.7M245.2 191.6h.7M258.9 190.9h.7M260.7 191.3h.7M248.4 182.8h.7M250.1 181.8h.7M247.3 201.1h.7M248.9 199.5h.7M257.7 184.8h.7M249.0 200.0h.7M259.6 194.0h.7M244.2 189.5h.7M256.4 186.3h.7M259.3 187.8h.7M248.0 193.8h.7M254.8 190.0h.7M257.1 191.0h.7M260.1 189.2h.7M247.3 198.5h.7M249.2 200.7h.7M244.7 196.2h.7M249.2 189.9h.7M260.7 194.4h.7M254.0 202.9h.7M250.3 182.5h.7M254.3 205.7h.7M251.5 191.4h.7M251.0 197.5h.7M245.0 200.4h.7M248.1 184.2h.7M258.6 185.1h.7M255.6 200.3h.7M259.0 196.3h.7M253.9 203.2h.7M262.4 188.1h.7M247.8 185.9h.7M247.2 199.2h.7M258.6 197.0h.7M248.9 194.1h.7M258.7 209.2h.7M252.7 180.1h.7M248.6 204.4h.7M262.6 184.9h.7M258.9 197.1h.7M256.1 198.2h.7M249.8 174.4h.7M255.7 182.2h.7M246.4 198.1h.7M255.7 195.8h.7M246.1 196.8h.7M248.7 189.8h.7M249.6 176.3h.7M245.2 191.6h.7M255.2 184.1h.7M252.1 181.9h.7M255.4 203.6h.7M244.1 181.5h.7M253.6 190.8h.7M253.0 201.3h.7M250.8 188.0h.7M243.9 208.5h.7M245.1 190.1h.7M251.5 191.1h.7M251.4 196.1h.7M257.9 191.0h.7M245.1 202.7h.7M259.9 195.2h.7M249.7 183.8h.7M259.8 202.5h.7M260.2 182.1h.7M255.0 185.8h.7M260.4 197.5h.7M258.6 193.3h.7M258.7 205.1h.7M253.4 201.8h.7M244.9 200.6h.7M260.6 196.4h.7M247.9 204.6h.7M245.1 197.1h.7M248.5 187.4h.7M255.5 184.6h.7M265.3 192.0h.7M256.5 198.6h.7M245.0 194.1h.7M249.5 183.7h.7M249.4 194.1h.7M246.1 187.8h.7M256.0 185.6h.7M260.6 194.9h.7M263.8 191.3h.7M246.2 198.0h.7M246.5 198.6h.7M246.9 197.7h.7M263.5 194.1h.7M256.6 187.0h.7M259.7 187.7h.7M246.1 197.5h.7M254.2 178.3h.7M253.3 184.1h.7M256.2 192.1h.7M247.9 186.5h.7M255.6 201.6h.7M244.0 199.9h.7M252.1 202.9h.7M262.5 183.2h.7M254.2 206.0h.7M269.8 199.9h.7M246.5 205.3h.7M259.9 194.0h.7M260.7 187.4h.7M261.9 188.2h.7M250.9 196.1h.7M257.7 197.6h.7M247.2 196.0h.7M251.9 182.3h.7M261.5 193.4h.7M250.8 180.7h.7M244.2 195.9h.7M261.3 198.6h.7M252.6 182.8h.7M253.6 199.5h.7M244.8 181.1h.7M257.0 199.4h.7M260.7 191.1h.7M262.7 194.3h.7M266.3 189.8h.7M246.3 198.4h.7M247.5 201.3h.7M257.2 189.6h.7M251.6 189.3h.7M255.2 197.2h.7M248.1 185.8h.7M261.6 187.2h.7M245.0 193.3h.7M248.5 183.3h.7M248.1 195.5h.7M260.1 196.9h.7M262.3 196.8h.7M256.9 184.8h.7M257.3 186.6h.7M255.4 199.8h.7M261.5 193.5h.7M248.2 206.0h.7M252.5 202.9h.7M244.6 189.5h.7M247.7 188.0h.7M261.1 185.9h.7M244.0 197.3h.7M261.9 184.1h.7M260.9 188.5h.7M250.9 182.5h.7M253.6 189.3h.7M255.7 177.7h.7M246.4 201.3h.7M244.4 189.7h.7M255.5 184.2h.7M251.5 195.7h.7M244.0 190.7h.7M250.0 187.7h.7M248.8 184.0h.7M251.7 191.0h.7M259.2 199.1h.7M255.5 193.0h.7M244.5 198.3h.7M255.3 203.3h.7M244.8 190.1h.7M252.7 202.3h.7M251.6 202.2h.7M253.4 184.2h.7M246.2 198.2h.7M253.4 188.8h.7M244.8 191.2h.7M249.4 193.4h.7M248.5 202.2h.7M260.8 187.9h.7M257.2 192.2h.7M248.6 184.9h.7M258.0 188.3h.7M252.3 192.1h.7M259.4 194.0h.7M259.9 196.6h.7M252.3 204.8h.7M247.1 197.2h.7M243.8 195.6h.7M250.7 201.0h.7M253.9 195.0h.7M250.7 190.4h.7M252.5 184.4h.7M244.1 202.6h.7M248.2 198.7h.7M244.3 188.7h.7M258.7 189.7h.7M248.9 181.3h.7M252.2 190.4h.7M261.0 193.3h.7M260.3 189.2h.7M258.6 196.5h.7M250.3 199.7h.7M257.0 186.1h.7M257.2 180.1h.7M252.2 196.0h.7M256.1 189.8h.7M255.3 194.4h.7M260.3 199.3h.7M253.6 202.1h.7M260.1 194.3h.7M253.4 182.5h.7M258.6 193.4h.7M259.2 194.1h.7M258.1 199.8h.7M260.0 193.4h.7M255.4 213.9h.7M249.2 207.4h.7M247.4 198.1h.7M262.4 197.4h.7M253.6 182.8h.7M255.8 204.9h.7M252.0 200.2h.7M258.4 196.4h.7M260.3 191.6h.7M254.4 203.2h.7M247.6 186.9h.7M258.5 187.4h.7M244.8 181.4h.7M251.1 185.9h.7M254.7 200.6h.7M252.6 181.4h.7M254.5 183.3h.7M249.3 199.2h.7M259.1 192.8h.7M260.2 200.4h.7M245.9 205.1h.7M251.6 184.6h.7M244.6 193.1h.7M255.0 179.2h.7M250.4 197.5h.7M260.3 190.2h.7M256.5 185.8h.7M245.8 195.2h.7M262.0 193.6h.7M258.4 194.2h.7M251.0 185.0h.7M244.3 195.9h.7M252.1 182.6h.7M250.2 199.4h.7M254.7 187.3h.7M256.9 187.1h.7M259.1 195.4h.7M248.7 182.0h.7M257.3 194.0h.7M253.9 184.8h.7M246.4 196.0h.7M245.4 192.3h.7M248.0 201.9h.7M244.4 189.9h.7M256.6 203.3h.7M257.8 187.4h.7M250.7 200.4h.7M249.3 182.2h.7M246.1 195.1h.7M252.7 180.6h.7M259.2 184.3h.7M258.7 182.4h.7M254.6 192.3h.7M249.2 194.7h.7M256.4 182.9h.7M254.7 183.0h.7M253.7 200.7h.7M251.8 184.2h.7M248.6 184.4h.7M245.5 200.3h.7M249.6 184.8h.7M252.1 192.5h.7M247.4 201.7h.7M258.4 183.2h.7M251.2 183.0h.7M257.4 179.8h.7M261.5 186.5h.7M247.0 204.1h.7M254.9 194.3h.7M259.1 185.2h.7M245.3 196.0h.7M264.0 195.4h.7M255.8 201.8h.7M249.7 197.5h.7M251.5 183.0h.7M255.8 200.3h.7M249.1 179.6h.7M247.4 187.0h.7M251.4 182.7h.7M245.9 194.8h.7M244.6 177.3h.7M249.2 199.6h.7M253.4 208.7h.7M260.5 197.1h.7M245.5 196.6h.7M259.5 193.7h.7M249.4 181.8h.7M258.5 190.3h.7M259.5 194.8h.7M247.8 198.6h.7M246.6 179.6h.7M247.5 186.9h.7M252.9 202.3h.7M258.4 184.3h.7M246.5 201.1h.7M251.3 205.7h.7M255.9 183.4h.7M247.7 189.4h.7M262.7 193.7h.7M254.6 186.0h.7M253.5 183.8h.7M258.5 197.2h.7M248.3 179.0h.7M248.4 196.0h.7M255.8 176.7h.7M265.0 193.2h.7M244.1 197.7h.7M250.6 183.5h.7M261.9 199.1h.7M261.2 195.9h.7M245.5 189.1h.7M253.7 202.4h.7M252.3 187.9h.7M258.5 188.2h.7M256.7 189.6h.7M259.5 196.1h.7M260.2 184.0h.7M252.0 192.0h.7M258.7 189.8h.7M260.2 193.6h.7M250.4 205.0h.7M250.3 202.5h.7M252.6 200.6h.7M255.0 190.7h.7M258.0 181.8h.7M247.8 185.4h.7M245.6 187.5h.7M258.7 202.2h.7M245.1 190.1h.7M245.8 184.8h.7M256.4 184.9h.7M253.4 201.2h.7M246.2 182.9h.7M245.8 194.3h.7M257.0 197.3h.7M251.4 199.6h.7M265.1 200.2h.7M260.6 194.4h.7M258.5 188.0h.7M257.9 198.0h.7M252.1 196.5h.7M245.8 194.3h.7M246.7 205.3h.7M269.1 192.4h.7M259.7 186.9h.7M253.6 184.9h.7M254.6 200.3h.7M248.6 199.6h.7M260.6 199.5h.7M251.7 186.1h.7M256.0 183.9h.7M253.1 200.7h.7M245.4 191.8h.7M246.3 196.1h.7M255.9 199.3h.7M260.4 194.5h.7M254.3 199.5h.7M243.9 181.3h.7M247.5 200.9h.7M247.3 187.0h.7M257.2 197.1h.7M253.9 179.3h.7M254.6 182.0h.7M258.5 181.1h.7M254.3 183.7h.7M257.8 200.7h.7M256.3 186.6h.7M259.0 180.7h.7M258.8 192.7h.7M254.4 181.4h.7M263.0 189.0h.7M254.3 190.1h.7M259.5 191.5h.7M256.6 196.4h.7M245.3 192.8h.7M246.3 196.7h.7M258.2 182.0h.7M244.6 187.3h.7M257.8 199.9h.7M258.5 188.1h.7M249.5 190.8h.7M252.4 177.4h.7M261.2 191.2h.7M263.3 186.3h.7M254.0 177.3h.7M260.0 183.5h.7M255.9 182.2h.7M257.8 198.3h.7M244.2 198.1h.7M245.0 208.1h.7M252.8 185.0h.7M246.6 202.1h.7M247.1 195.0h.7M253.5 202.0h.7M260.9 199.9h.7M258.8 192.6h.7M251.8 201.1h.7M246.0 185.5h.7M258.7 176.7h.7M251.0 188.2h.7M264.5 184.0h.7M250.8 181.7h.7M245.5 200.0h.7M258.8 197.7h.7M249.7 185.3h.7M245.1 193.5h.7M262.8 192.8h.7M258.9 188.8h.7M244.0 203.1h.7M255.1 182.5h.7M245.8 197.6h.7M253.1 196.7h.7M259.5 181.0h.7M244.3 189.4h.7M248.7 196.7h.7M251.7 178.6h.7M255.2 197.2h.7M260.7 187.5h.7M248.4 184.7h.7M261.0 183.2h.7M251.9 203.5h.7M254.2 184.0h.7M252.3 189.8h.7M254.7 190.5h.7M253.0 200.6h.7M245.3 184.4h.7M261.2 186.7h.7M248.3 184.0h.7M258.8 184.2h.7M252.8 213.3h.7M246.5 200.9h.7M257.4 204.5h.7M254.2 208.3h.7M248.6 206.5h.7M253.4 213.5h.7M250.1 207.9h.7M258.7 215.9h.7M252.1 208.8h.7M251.7 210.4h.7M255.1 215.4h.7M244.7 212.9h.7M245.3 205.7h.7M252.1 207.7h.7M260.0 210.6h.7M252.3 205.2h.7M257.5 206.9h.7M250.3 209.9h.7M247.1 210.5h.7M247.7 211.8h.7M254.2 206.1h.7M254.5 212.2h.7M254.5 204.8h.7M256.4 209.5h.7M254.2 213.4h.7M258.7 216.6h.7M250.6 205.7h.7M246.3 202.2h.7M254.4 209.9h.7M245.2 211.8h.7M246.3 212.2h.7M247.0 211.4h.7M247.5 207.8h.7M250.2 215.0h.7M252.1 207.2h.7M248.3 210.6h.7M252.1 209.7h.7M250.8 206.4h.7M251.1 204.1h.7M253.4 211.3h.7M255.2 211.1h.7M256.1 205.9h.7M248.4 204.0h.7M253.3 205.6h.7M249.7 207.2h.7M252.1 213.9h.7M248.4 212.4h.7M250.5 209.2h.7M249.1 216.2h.7M253.8 201.5h.7M245.8 212.9h.7M261.9 211.8h.7M247.5 202.3h.7M255.3 213.2h.7M251.8 207.1h.7M254.7 209.3h.7M255.5 214.8h.7M261.2 213.1h.7M250.7 205.7h.7M255.8 216.4h.7M255.4 210.8h.7M255.3 212.3h.7M260.5 209.6h.7M245.3 207.7h.7M246.1 203.5h.7M257.4 198.7h.7M255.6 208.4h.7M254.9 208.8h.7M256.6 214.7h.7M260.6 213.0h.7M259.8 208.8h.7M251.3 216.1h.7M256.3 211.8h.7M252.9 207.0h.7M254.0 213.9h.7M249.1 213.6h.7M250.8 211.7h.7M248.2 205.5h.7M248.5 207.1h.7M258.1 205.1h.7M247.3 208.3h.7M254.6 205.7h.7M246.4 213.2h.7M256.6 212.0h.7M260.5 215.6h.7M252.2 207.5h.7M253.2 217.2h.7M247.1 208.6h.7M248.9 212.0h.7M250.3 210.9h.7M254.7 211.5h.7M254.9 210.6h.7M253.0 214.4h.7M249.2 201.1h.7M244.3 206.9h.7M251.2 209.5h.7M250.0 212.0h.7M249.9 205.6h.7M249.2 211.2h.7M255.2 209.2h.7M254.4 213.7h.7M250.4 212.9h.7M250.0 205.0h.7M262.8 210.9h.7M258.3 217.0h.7M257.4 209.5h.7M251.7 209.5h.7M250.8 207.6h.7M251.4 212.0h.7M253.3 203.1h.7M248.1 215.2h.7M248.0 210.0h.7M251.0 209.9h.7M249.3 197.7h.7M254.1 214.6h.7M245.8 205.8h.7M252.2 205.6h.7M251.7 205.3h.7M252.6 204.1h.7M254.0 215.3h.7M250.7 211.5h.7M252.2 206.7h.7M252.9 212.3h.7M252.9 202.3h.7M249.1 215.1h.7M248.3 214.6h.7M255.3 211.0h.7M255.5 208.9h.7M249.6 203.4h.7M245.3 211.5h.7M249.6 203.8h.7M252.5 205.9h.7M252.3 215.5h.7M252.9 204.3h.7M256.7 210.2h.7M253.8 208.1h.7M248.2 208.2h.7M244.1 207.8h.7M250.3 212.7h.7M255.5 210.7h.7M252.6 215.5h.7M252.9 203.7h.7M248.8 208.1h.7M244.1 208.3h.7M251.2 210.9h.7M257.0 208.9h.7M257.8 208.5h.7M250.0 212.6h.7M258.7 206.6h.7M250.8 209.6h.7M250.1 215.0h.7M256.0 213.1h.7M248.5 210.6h.7M257.6 203.4h.7M250.5 213.4h.7M252.0 211.9h.7M252.0 209.4h.7M251.0 209.7h.7M250.8 208.1h.7M246.5 211.4h.7M252.8 212.3h.7M249.9 214.7h.7M255.5 208.7h.7M252.3 209.4h.7M249.0 210.6h.7M255.1 211.5h.7M249.5 203.6h.7M249.0 200.4h.7M250.9 208.0h.7M253.9 197.8h.7M256.4 204.9h.7M258.1 217.1h.7M244.2 210.3h.7M254.4 208.4h.7M262.3 211.7h.7M253.1 208.7h.7M247.4 206.0h.7M252.7 210.0h.7M249.7 212.1h.7M257.5 208.4h.7M256.1 207.1h.7M254.7 208.9h.7M246.3 195.2h.7M256.0 201.2h.7M251.1 214.9h.7M255.7 213.9h.7M254.1 206.8h.7M254.2 207.3h.7M244.9 211.4h.7M255.7 199.0h.7M248.8 213.9h.7M252.1 201.1h.7M252.5 206.2h.7M256.7 203.6h.7M248.1 207.5h.7M251.3 208.1h.7M251.3 204.8h.7M252.0 203.4h.7M249.1 213.4h.7M249.1 210.0h.7M251.2 217.1h.7M247.6 209.2h.7M253.3 213.6h.7M249.6 211.6h.7M261.0 205.8h.7M258.4 207.5h.7M258.0 208.5h.7M249.2 211.6h.7M244.8 199.4h.7M263.1 204.9h.7M245.1 212.7h.7M259.0 210.0h.7M257.3 202.0h.7M248.7 211.4h.7M255.4 202.2h.7M248.2 205.7h.7M248.1 203.6h.7M252.1 208.9h.7M254.1 200.6h.7M252.5 211.2h.7M254.0 207.1h.7M253.5 215.5h.7M260.3 213.7h.7M254.8 205.9h.7M252.3 207.2h.7M254.5 201.5h.7M251.4 208.7h.7M249.6 217.0h.7M254.3 204.9h.7M249.6 204.9h.7M248.3 208.0h.7M247.8 208.5h.7M250.4 214.4h.7M248.9 209.7h.7M247.5 211.4h.7M248.3 213.1h.7M260.8 212.9h.7M255.8 208.3h.7M247.6 216.1h.7M256.9 207.8h.7M250.3 208.1h.7M249.7 215.1h.7M249.0 206.0h.7M250.9 200.5h.7M251.7 216.1h.7M254.9 212.6h.7M244.0 205.6h.7M247.0 202.1h.7M256.7 212.4h.7M256.5 216.8h.7M250.1 206.7h.7M261.4 209.3h.7M249.1 212.2h.7M252.2 205.5h.7M254.0 206.9h.7M254.2 206.3h.7M248.2 207.7h.7M250.4 208.8h.7M248.8 213.5h.7M244.6 205.1h.7M255.8 216.7h.7M249.1 212.1h.7M249.3 214.2h.7M246.3 210.5h.7M253.7 201.4h.7M245.2 215.0h.7M250.6 209.2h.7M256.1 200.8h.7M248.1 205.4h.7M262.4 202.4h.7M250.3 209.2h.7M248.5 209.7h.7M245.5 211.4h.7M251.9 211.8h.7M244.7 210.2h.7M264.0 209.9h.7M249.0 214.7h.7M248.7 208.3h.7M258.9 206.8h.7M256.0 208.9h.7M246.0 209.9h.7M254.4 212.3h.7M245.8 200.5h.7M255.4 211.7h.7M246.9 209.7h.7M251.4 213.1h.7M251.0 211.6h.7M251.3 211.8h.7M256.4 205.1h.7M247.5 210.1h.7M249.8 205.9h.7M256.3 201.8h.7M252.1 216.0h.7M251.7 211.4h.7M246.1 204.4h.7M244.4 210.5h.7M246.5 212.6h.7M246.8 202.8h.7M257.7 207.4h.7M252.8 207.4h.7M256.3 212.2h.7M251.9 216.3h.7M258.5 215.6h.7M256.1 208.6h.7M253.8 203.5h.7M252.5 216.0h.7M254.4 213.1h.7M254.2 211.4h.7M255.7 206.1h.7M255.0 205.8h.7M249.7 215.4h.7M254.6 210.7h.7M252.6 215.8h.7M249.8 211.6h.7M244.3 203.4h.7M247.6 208.7h.7M248.1 210.0h.7M255.4 211.1h.7M245.7 215.8h.7M254.5 212.9h.7M254.6 215.6h.7M244.1 209.7h.7M247.9 209.3h.7M256.6 208.2h.7M254.6 215.4h.7M249.5 209.8h.7M256.8 211.5h.7M250.7 205.4h.7M249.4 207.0h.7M250.4 201.2h.7M247.8 212.7h.7M256.1 210.3h.7M252.3 201.4h.7M247.1 212.3h.7M250.4 209.0h.7M252.9 211.4h.7M245.3 210.2h.7M248.2 213.6h.7M264.9 203.7h.7M254.4 209.6h.7M250.1 213.5h.7M256.9 206.2h.7M249.8 209.3h.7M255.2 196.9h.7M252.1 214.1h.7M260.4 210.7h.7M251.8 213.0h.7M256.3 204.6h.7M248.4 211.3h.7M255.7 208.8h.7M251.1 202.9h.7M248.5 211.9h.7M251.8 211.3h.7M251.1 205.4h.7M253.3 206.1h.7M251.6 213.9h.7M253.6 204.7h.7M248.4 203.3h.7M253.4 204.1h.7M258.3 211.1h.7M245.5 206.2h.7M248.1 201.0h.7M255.8 199.8h.7M253.2 206.6h.7M251.5 205.3h.7M251.7 203.6h.7M249.8 209.0h.7M252.6 212.4h.7M259.1 215.8h.7M255.2 207.5h.7M245.8 211.8h.7M250.9 208.0h.7M252.7 209.8h.7M257.2 215.3h.7M248.5 216.3h.7M246.7 207.9h.7M245.1 214.8h.7M254.6 212.6h.7M252.7 210.2h.7M246.7 208.5h.7M252.7 212.7h.7M247.2 208.1h.7M247.1 207.8h.7M249.8 210.1h.7M257.7 209.3h.7M250.0 199.4h.7M252.9 211.0h.7M252.1 213.0h.7M253.2 214.7h.7M254.6 204.1h.7M250.6 204.2h.7M260.0 205.3h.7M256.3 215.4h.7M259.7 207.2h.7M247.2 208.4h.7M254.7 212.1h.7M253.1 211.0h.7M252.6 204.2h.7M246.7 215.8h.7M252.0 213.3h.7M253.9 207.8h.7M252.7 209.4h.7M250.0 204.8h.7M252.5 216.7h.7M252.5 216.0h.7M251.5 204.8h.7M259.6 203.9h.7M252.9 213.1h.7M255.9 210.3h.7M255.1 211.9h.7M255.4 213.9h.7M252.8 205.5h.7M249.7 209.5h.7M259.5 213.5h.7M255.4 212.5h.7M251.9 213.4h.7M252.3 213.5h.7M254.7 208.5h.7M249.6 207.0h.7M260.4 205.5h.7M250.1 199.5h.7M249.8 209.7h.7M259.4 214.4h.7M256.2 208.7h.7M259.2 203.0h.7M252.8 202.7h.7M251.8 211.6h.7M249.8 213.4h.7M247.3 209.3h.7M248.4 212.5h.7M254.0 213.1h.7M249.7 206.5h.7M258.9 203.7h.7M247.9 211.1h.7M246.1 201.4h.7M252.9 206.9h.7M251.9 211.5h.7M255.1 208.6h.7M245.5 215.3h.7M256.3 210.5h.7M260.0 211.6h.7M251.7 207.6h.7M249.7 205.2h.7M253.5 212.2h.7M248.5 214.7h.7M246.3 201.7h.7M249.5 204.1h.7M245.4 208.8h.7M252.9 210.5h.7M246.9 208.6h.7M253.8 207.3h.7M249.6 213.1h.7M246.9 202.6h.7M255.3 212.9h.7M248.4 202.6h.7M251.9 207.0h.7M250.7 204.6h.7M253.9 207.8h.7M257.0 200.6h.7M249.4 208.1h.7M249.1 213.9h.7M253.7 207.9h.7M247.8 212.5h.7M244.3 208.4h.7M254.9 210.7h.7M256.3 212.9h.7M246.7 203.0h.7M251.2 207.1h.7M252.4 210.0h.7M253.8 216.6h.7M248.8 206.1h.7M249.5 205.0h.7M250.1 214.0h.7M249.6 211.0h.7M251.0 207.0h.7M254.9 201.5h.7M254.9 210.3h.7M254.8 209.6h.7M247.8 210.0h.7M251.5 209.3h.7M254.8 207.7h.7M250.5 201.3h.7M255.3 206.2h.7M244.2 213.8h.7M248.2 210.1h.7M247.9 206.5h.7M252.3 199.9h.7M252.1 208.2h.7M246.9 208.2h.7M255.2 211.2h.7M258.8 210.3h.7M252.3 213.0h.7M254.0 207.0h.7M248.9 203.2h.7M250.4 208.5h.7M248.6 212.7h.7M250.4 210.0h.7M249.7 201.6h.7M255.5 209.1h.7M247.6 199.0h.7M254.9 205.7h.7M257.1 208.3h.7M246.1 207.4h.7M253.4 214.6h.7M247.7 208.3h.7M253.4 209.6h.7M253.5 214.1h.7M256.7 209.3h.7M244.7 215.4h.7M257.1 213.1h.7M257.4 207.5h.7M251.7 213.5h.7M252.8 206.3h.7M256.0 207.7h.7M257.6 214.8h.7M251.1 202.6h.7M256.0 210.3h.7M255.6 213.0h.7M247.8 215.6h.7M247.8 211.3h.7M245.9 210.6h.7M255.5 211.1h.7M251.5 214.0h.7M249.3 213.1h.7M246.9 215.6h.7M255.0 212.0h.7M250.6 202.8h.7M250.3 213.8h.7M250.6 205.3h.7M255.0 199.7h.7M255.6 216.1h.7M252.2 216.4h.7M256.8 205.7h.7M254.6 206.8h.7M250.4 216.1h.7M248.0 214.7h.7M251.5 213.4h.7M249.9 208.5h.7M251.9 212.2h.7M250.6 207.3h.7M246.5 209.2h.7M249.0 215.3h.7M252.3 205.3h.7M253.5 212.4h.7M250.0 204.6h.7M254.5 208.5h.7M250.6 205.2h.7M250.2 213.2h.7M247.0 211.7h.7M263.1 217.3h.7M248.1 212.8h.7M253.4 212.0h.7M252.3 211.8h.7M245.3 207.8h.7M253.7 206.9h.7M254.2 202.2h.7M254.5 211.2h.7M251.6 208.2h.7M251.7 213.0h.7M248.2 206.2h.7M259.8 206.7h.7M250.8 213.9h.7M246.9 209.9h.7M252.4 206.9h.7M255.7 205.1h.7M247.0 217.0h.7M261.1 207.6h.7M256.5 209.4h.7M252.9 200.6h.7M250.1 215.2h.7M258.6 205.8h.7M255.0 213.3h.7M248.1 208.1h.7M257.6 210.4h.7M246.5 205.2h.7M252.5 211.7h.7M257.1 211.7h.7M254.6 210.8h.7M247.1 210.0h.7M250.6 207.5h.7M246.8 209.5h.7M262.4 204.7h.7M251.6 211.1h.7M248.4 199.8h.7M249.4 213.4h.7M253.6 204.0h.7M245.5 205.7h.7M244.5 207.2h.7M256.9 210.4h.7M256.0 206.7h.7M249.6 204.3h.7M253.3 209.2h.7M251.0 213.0h.7M260.2 200.1h.7M253.0 213.8h.7M251.7 216.8h.7M250.7 206.3h.7M253.9 205.1h.7M247.2 210.1h.7M250.4 210.4h.7M263.3 213.2h.7M250.6 214.5h.7M255.5 209.4h.7M259.4 215.5h.7M246.2 214.3h.7M250.9 212.5h.7M245.0 208.2h.7M250.8 203.5h.7M250.3 207.0h.7M253.6 214.9h.7M253.4 207.0h.7M253.1 200.8h.7M251.4 207.6h.7M257.4 216.6h.7M251.8 211.1h.7M245.5 206.1h.7M254.8 202.9h.7M248.0 207.3h.7M254.9 208.2h.7M249.5 210.7h.7M245.4 206.5h.7M247.2 209.5h.7M257.9 212.0h.7M259.1 212.2h.7M244.8 203.3h.7M247.5 202.8h.7M246.6 206.8h.7M245.0 216.4h.7M247.7 205.3h.7M245.5 204.3h.7M254.6 209.8h.7M255.2 209.0h.7M244.7 213.2h.7M253.2 205.8h.7M249.6 215.7h.7M247.0 210.6h.7M251.4 210.7h.7M255.5 208.1h.7M257.1 206.4h.7M253.8 212.0h.7M249.5 212.4h.7M257.8 215.2h.7M249.0 210.1h.7M244.7 209.3h.7M254.1 205.4h.7M251.9 211.3h.7M246.8 206.7h.7M255.1 209.9h.7M256.9 212.0h.7M250.5 206.6h.7M251.1 213.2h.7M255.0 204.6h.7M250.9 214.7h.7M251.6 211.1h.7M255.4 202.5h.7M249.9 214.2h.7M254.9 208.3h.7M248.6 199.4h.7M253.4 212.4h.7M250.2 205.7h.7M253.4 213.0h.7M249.1 207.6h.7M248.5 211.0h.7M247.2 204.5h.7M259.3 212.6h.7M255.2 208.4h.7M252.5 205.8h.7M260.9 202.6h.7M250.3 205.1h.7M249.9 212.6h.7M259.5 202.2h.7M248.9 199.2h.7M250.6 211.8h.7M244.4 204.7h.7M248.8 205.8h.7M248.2 210.3h.7M257.2 206.7h.7M250.5 205.7h.7M245.5 201.5h.7M262.7 216.3h.7M252.3 211.4h.7M256.2 210.7h.7M251.4 206.3h.7M258.9 207.0h.7M256.7 216.7h.7M259.4 212.8h.7M247.5 216.2h.7M256.5 212.5h.7M249.6 211.8h.7M263.0 212.8h.7M254.0 203.9h.7M247.6 210.5h.7M254.1 209.9h.7M258.9 207.6h.7M258.7 212.0h.7M259.2 208.0h.7M257.8 206.2h.7M250.3 199.2h.7M255.6 207.9h.7M253.7 214.3h.7M259.5 216.6h.7M255.5 213.5h.7M248.1 207.1h.7M250.7 206.2h.7M261.1 211.9h.7M247.6 209.0h.7M252.1 207.7h.7M249.8 215.5h.7M255.4 204.8h.7M245.3 211.7h.7M255.7 208.0h.7M253.8 215.7h.7M253.9 212.8h.7M248.9 205.4h.7M251.7 210.3h.7M260.3 208.3h.7M247.7 205.2h.7M262.7 209.3h.7M247.6 204.1h.7M254.6 208.4h.7M245.6 210.2h.7M248.8 216.0h.7M247.0 211.2h.7M251.3 209.9h.7M252.7 210.2h.7M258.3 203.1h.7M251.8 206.1h.7M249.6 208.1h.7M246.1 208.5h.7M250.6 207.7h.7M257.1 207.0h.7M253.6 210.0h.7M250.4 200.9h.7M255.0 209.8h.7M250.9 207.7h.7M248.6 207.4h.7M252.3 207.8h.7M250.8 205.0h.7M253.5 213.2h.7M255.0 198.5h.7M252.9 209.7h.7M256.4 205.3h.7M250.6 210.9h.7M250.4 203.9h.7M252.8 216.0h.7M261.3 215.8h.7M255.9 203.3h.7M254.5 209.9h.7M257.0 205.9h.7M255.7 213.7h.7M246.2 208.0h.7M250.8 213.4h.7M250.5 213.6h.7M254.3 209.3h.7M252.4 210.9h.7M247.0 214.0h.7M246.5 201.6h.7M252.3 209.6h.7M252.6 206.7h.7M245.0 204.1h.7M255.8 214.3h.7M255.9 207.8h.7M246.6 203.4h.7M250.1 211.8h.7M251.3 209.0h.7M256.3 207.5h.7M249.2 209.1h.7M246.8 208.8h.7M250.4 208.2h.7M250.3 216.1h.7M252.6 202.7h.7M262.4 212.0h.7M246.4 214.4h.7M260.3 209.1h.7M249.4 213.0h.7M246.2 209.7h.7M255.8 215.1h.7M253.2 207.4h.7M247.4 205.8h.7M256.8 216.6h.7M260.3 214.7h.7M248.1 203.6h.7M252.1 206.1h.7M245.9 212.4h.7M250.5 205.0h.7M247.7 215.6h.7M256.4 213.4h.7M245.9 214.4h.7M250.9 211.5h.7M250.3 205.9h.7M252.8 210.6h.7M256.8 208.2h.7M252.7 211.4h.7M247.0 208.1h.7M257.1 211.8h.7M245.5 209.7h.7M252.0 210.3h.7M251.4 209.8h.7M247.0 209.7h.7M255.4 205.4h.7M253.2 212.2h.7M253.0 206.7h.7M248.1 207.4h.7M250.1 214.5h.7M248.4 206.8h.7M249.4 214.1h.7M258.9 198.9h.7M252.1 201.6h.7M246.2 215.5h.7M245.2 196.9h.7M251.6 210.3h.7M244.4 209.4h.7M253.7 216.8h.7M259.6 198.4h.7M246.0 215.3h.7M255.0 214.6h.7M256.9 216.5h.7M250.1 209.6h.7M256.9 209.1h.7M257.8 201.1h.7M247.4 207.2h.7M249.3 204.7h.7M251.7 210.2h.7M252.5 198.9h.7M250.4 204.0h.7M253.8 206.2h.7M256.0 205.8h.7M245.3 208.8h.7M247.9 213.4h.7M257.2 212.8h.7M253.0 205.6h.7M249.4 202.3h.7M250.5 207.1h.7M245.7 212.3h.7M252.3 209.3h.7M254.0 212.0h.7M252.3 207.2h.7M247.8 209.1h.7M249.9 205.1h.7M250.8 216.1h.7M258.7 203.7h.7M244.5 208.3h.7M258.0 206.4h.7M245.8 204.2h.7M256.1 214.3h.7M251.2 215.9h.7M254.8 212.1h.7M264.0 208.3h.7M245.6 203.7h.7M249.8 211.6h.7M249.2 217.0h.7M249.5 209.1h.7M256.2 208.0h.7M251.2 202.5h.7M250.9 211.5h.7M254.2 203.0h.7M260.4 217.0h.7M246.7 211.3h.7M253.9 211.3h.7M254.1 202.7h.7M246.5 207.4h.7M246.6 216.9h.7M253.6 209.7h.7M248.6 201.9h.7M254.7 213.9h.7M250.6 210.2h.7M249.1 208.8h.7M260.7 216.4h.7M251.5 205.2h.7M257.4 214.3h.7M245.4 211.3h.7M250.2 212.4h.7M248.9 211.9h.7M248.1 209.9h.7M250.2 200.3h.7M249.9 206.3h.7M258.8 212.8h.7M256.2 214.8h.7M254.1 206.6h.7M248.8 212.4h.7M263.3 211.3h.7M244.6 215.5h.7M261.5 210.3h.7M250.5 213.4h.7M247.0 211.3h.7M250.2 212.7h.7M252.5 210.2h.7M253.5 212.7h.7M255.0 203.6h.7M249.9 209.3h.7M259.3 203.4h.7M247.3 215.6h.7M251.6 217.2h.7M245.6 208.6h.7M254.8 211.2h.7M250.5 215.9h.7M249.9 214.5h.7M245.7 210.1h.7M248.9 213.6h.7M245.8 206.9h.7M251.2 203.0h.7M254.7 213.2h.7M246.9 203.9h.7M257.8 205.5h.7M246.5 206.0h.7M250.9 216.5h.7M248.8 213.4h.7M255.5 209.1h.7M249.9 209.8h.7M253.3 206.5h.7M253.6 207.1h.7M244.6 209.4h.7M251.1 204.3h.7M248.0 213.2h.7M255.4 210.8h.7M250.9 207.7h.7M252.9 205.6h.7M254.1 207.5h.7M252.9 200.2h.7M248.9 215.7h.7M253.3 198.2h.7M261.0 201.6h.7M253.0 215.3h.7M246.8 205.5h.7M256.4 213.9h.7M256.6 207.0h.7M253.3 213.9h.7M255.6 207.2h.7M254.9 212.0h.7M249.1 208.7h.7M246.3 210.3h.7M249.7 206.5h.7M253.5 215.2h.7M254.0 215.8h.7M244.6 216.1h.7M253.8 215.6h.7M251.2 212.7h.7M255.5 214.8h.7M245.3 209.2h.7M250.8 208.2h.7M262.2 207.8h.7M251.4 213.0h.7M252.1 208.0h.7M249.1 206.7h.7M254.0 209.4h.7M249.2 210.1h.7M256.7 215.7h.7M252.2 207.2h.7M254.2 209.9h.7M250.6 213.6h.7M251.4 216.7h.7M259.9 210.7h.7M256.2 198.6h.7M250.1 207.9h.7M251.0 212.6h.7M257.3 207.2h.7M249.9 201.7h.7M251.6 196.9h.7M253.4 214.4h.7M245.4 211.2h.7M248.1 210.0h.7M248.9 216.9h.7M259.2 214.3h.7M255.7 212.7h.7M253.7 207.7h.7M248.5 209.6h.7M256.4 214.5h.7M255.4 207.0h.7M255.1 207.8h.7M247.6 200.9h.7M254.9 217.3h.7M250.7 214.9h.7M250.5 214.9h.7M254.3 205.8h.7M246.2 206.9h.7M252.8 204.7h.7M254.1 207.6h.7M252.3 210.0h.7M253.8 204.4h.7M253.5 207.9h.7M258.3 214.6h.7M248.4 212.1h.7M255.1 204.4h.7M253.1 216.3h.7M250.4 209.1h.7M245.5 209.0h.7M247.4 214.5h.7M249.6 214.9h.7M256.1 209.4h.7M248.1 210.8h.7M248.5 212.3h.7M262.1 207.2h.7M256.5 216.8h.7M257.0 205.4h.7M255.0 208.5h.7M258.5 205.5h.7M249.4 205.0h.7M249.8 198.1h.7M252.1 211.1h.7M250.5 208.6h.7M258.8 204.2h.7M254.1 209.9h.7M250.1 210.8h.7M250.9 207.6h.7M254.0 212.2h.7M257.9 206.3h.7M250.1 204.9h.7M252.5 213.1h.7M253.3 211.1h.7M250.4 216.2h.7M256.9 212.8h.7M247.7 210.0h.7M255.7 212.4h.7M256.1 203.4h.7M250.6 205.9h.7M256.0 212.9h.7M249.7 212.5h.7M255.3 211.3h.7M246.7 207.4h.7M254.2 203.4h.7M254.8 209.2h.7M250.2 214.4h.7M253.9 213.2h.7M247.0 210.0h.7M250.2 198.8h.7M245.8 208.2h.7M252.4 206.0h.7M247.4 207.0h.7M253.9 214.2h.7M255.6 208.7h.7M256.4 215.6h.7M245.4 211.2h.7M255.5 214.4h.7M245.9 212.1h.7M245.8 211.0h.7M253.9 209.8h.7M255.6 211.5h.7M252.5 210.9h.7M251.5 200.5h.7M254.6 210.1h.7M252.7 214.7h.7M253.5 209.9h.7M247.3 213.9h.7M252.9 214.3h.7M249.6 202.7h.7M253.6 202.6h.7M250.3 212.3h.7M258.4 210.8h.7M253.7 202.5h.7M247.8 206.9h.7M256.4 211.6h.7M254.5 212.7h.7M252.2 203.4h.7M258.8 203.8h.7M249.7 198.5h.7M255.9 216.7h.7M247.7 205.3h.7M255.5 214.1h.7M257.6 205.6h.7M258.8 206.3h.7M255.9 212.0h.7M255.7 203.4h.7M246.5 210.3h.7M248.2 213.0h.7M248.4 214.5h.7M249.4 208.4h.7M254.8 216.2h.7M246.8 207.4h.7M247.3 209.4h.7M255.5 209.9h.7M247.8 209.2h.7M248.5 207.5h.7M250.3 210.7h.7M248.9 214.6h.7M245.7 204.3h.7M255.5 211.4h.7M251.8 215.6h.7M260.5 203.6h.7M249.9 198.5h.7M245.2 210.0h.7M256.5 216.0h.7M251.0 216.3h.7M252.2 216.0h.7M244.1 216.3h.7M243.8 208.8h.7M251.3 215.9h.7M247.7 209.2h.7M250.8 210.5h.7M254.0 213.6h.7M249.0 204.0h.7M251.1 207.9h.7M253.5 212.3h.7M246.8 208.1h.7M257.9 202.9h.7M247.2 207.3h.7M255.6 213.7h.7M252.2 202.6h.7M258.5 215.2h.7M258.5 206.4h.7M252.1 210.7h.7M249.5 202.7h.7M252.7 204.0h.7M252.8 210.6h.7M246.9 203.3h.7M247.2 217.0h.7M247.9 213.8h.7M248.9 203.0h.7M250.1 207.8h.7M248.6 201.9h.7M251.7 202.9h.7M248.7 207.9h.7M263.9 209.6h.7M251.2 217.3h.7M251.7 204.3h.7M250.5 214.5h.7M248.2 204.9h.7M252.9 211.2h.7M249.3 210.0h.7M249.3 207.3h.7M257.4 206.6h.7M260.3 213.0h.7M250.3 206.8h.7M246.7 215.3h.7M255.2 206.9h.7M255.5 198.9h.7M257.7 208.0h.7M252.4 208.2h.7M249.5 200.5h.7M248.8 215.6h.7M249.9 208.2h.7M255.3 212.3h.7M245.6 213.0h.7M262.2 207.1h.7M256.7 215.6h.7M252.9 211.2h.7M259.5 216.2h.7M250.2 204.1h.7M245.9 206.7h.7M255.7 213.5h.7M252.6 209.3h.7M251.2 208.1h.7M248.8 209.3h.7M253.1 210.8h.7M254.6 214.3h.7M250.1 214.5h.7M252.5 214.9h.7M254.1 209.7h.7M255.6 202.2h.7M244.8 211.9h.7M258.9 212.7h.7M254.5 203.4h.7M253.1 209.7h.7M245.8 204.6h.7M256.7 212.7h.7M254.4 203.2h.7M245.4 216.3h.7M254.5 208.2h.7M251.8 204.7h.7M264.2 209.2h.7M247.9 207.3h.7M252.2 210.4h.7M247.8 213.3h.7M254.4 211.8h.7M256.6 203.8h.7M250.2 211.8h.7M260.7 205.5h.7M252.2 202.4h.7M250.1 206.4h.7M251.3 209.9h.7M250.3 212.9h.7M257.3 215.1h.7M247.8 211.5h.7M252.9 203.0h.7M247.0 200.4h.7M253.6 215.0h.7M258.4 213.5h.7M251.6 208.7h.7M250.6 211.6h.7M254.2 203.8h.7M260.2 205.8h.7M250.8 210.7h.7M249.2 212.9h.7M250.5 205.7h.7M253.7 206.7h.7M259.9 202.9h.7M250.4 209.7h.7M253.8 200.4h.7M256.5 216.0h.7M255.0 212.4h.7M251.0 212.8h.7M251.4 212.6h.7M249.6 214.1h.7M255.9 205.0h.7M244.2 216.1h.7M253.5 212.6h.7M247.6 206.1h.7M248.2 201.6h.7M250.5 207.2h.7M251.0 206.4h.7M254.8 212.4h.7M259.5 214.5h.7M275.0 215.3h.7M270.5 205.3h.7M264.8 209.4h.7M284.2 204.6h.7M269.5 210.1h.7M268.1 214.8h.7M269.4 214.1h.7M275.3 214.4h.7M271.6 208.1h.7M274.8 203.2h.7M266.4 217.2h.7M266.2 210.7h.7M272.8 210.7h.7M262.5 211.3h.7M282.7 210.4h.7M259.5 211.2h.7M273.5 211.1h.7M279.9 210.0h.7M273.6 216.2h.7M274.6 213.7h.7M268.4 210.7h.7M273.7 213.8h.7M271.5 202.8h.7M256.3 209.7h.7M255.0 209.3h.7M278.2 210.1h.7M267.5 214.2h.7M254.7 211.4h.7M268.3 207.5h.7M267.9 212.8h.7M266.7 209.9h.7M275.2 211.3h.7M274.4 199.1h.7M265.8 215.2h.7M269.9 212.5h.7M263.5 204.2h.7M267.4 208.0h.7M276.3 209.9h.7M266.6 211.8h.7M266.9 208.6h.7M281.9 210.5h.7M258.2 207.9h.7M261.6 208.6h.7M264.1 214.5h.7M256.7 208.0h.7M266.5 209.4h.7M255.5 206.2h.7M282.7 216.1h.7M265.1 211.0h.7M274.7 210.2h.7M276.9 199.9h.7M272.9 211.8h.7M259.9 211.2h.7M264.8 206.9h.7M258.4 211.6h.7M268.3 205.5h.7M269.0 212.5h.7M261.1 202.1h.7M273.5 212.3h.7M264.9 203.9h.7M255.1 208.7h.7M273.9 206.7h.7M262.7 213.1h.7M271.4 207.7h.7M274.1 212.5h.7M256.3 214.8h.7M278.3 212.7h.7M271.9 211.7h.7M270.7 217.1h.7M271.2 211.4h.7M265.5 212.7h.7M270.3 205.5h.7M270.9 206.6h.7M264.8 210.6h.7M273.0 209.4h.7M256.8 204.2h.7M260.5 213.3h.7M267.8 202.9h.7M273.5 208.6h.7M261.6 215.5h.7M256.7 207.2h.7M272.0 205.4h.7M269.0 202.5h.7M273.2 213.7h.7M271.4 207.4h.7M267.8 212.1h.7M266.0 209.9h.7M261.6 215.1h.7M270.9 215.4h.7M266.3 209.3h.7M261.2 217.0h.7M259.1 207.0h.7M265.0 215.1h.7M275.0 208.9h.7M264.4 215.9h.7M274.4 214.9h.7M277.4 208.6h.7M282.0 211.2h.7M267.3 212.2h.7M264.9 216.5h.7M290.8 211.2h.7M265.7 211.3h.7M257.5 199.7h.7M271.3 211.4h.7M272.3 213.9h.7M265.1 211.8h.7M279.9 209.2h.7M264.2 217.2h.7M265.3 204.7h.7M256.0 208.3h.7M283.2 212.4h.7M261.3 211.2h.7M258.5 216.6h.7M267.8 207.9h.7M274.0 212.7h.7M278.9 208.9h.7M257.9 210.4h.7M278.7 214.2h.7M264.9 212.5h.7M269.9 210.6h.7M258.9 209.8h.7M266.2 207.6h.7M264.1 206.5h.7M281.9 209.1h.7M259.7 212.4h.7M269.6 213.2h.7M272.1 211.7h.7M257.4 215.4h.7M276.7 207.1h.7M285.4 208.5h.7M271.1 208.3h.7M276.9 212.6h.7M285.7 212.7h.7M265.3 205.9h.7M268.8 202.5h.7M277.1 216.8h.7M281.5 210.2h.7M257.5 207.7h.7M275.0 214.3h.7M264.9 214.1h.7M272.2 209.5h.7M261.0 208.4h.7M264.2 212.7h.7M263.7 210.4h.7M271.7 209.0h.7M263.3 215.0h.7M273.2 213.0h.7M257.3 209.6h.7M273.6 207.0h.7M260.7 205.2h.7M260.6 214.5h.7M267.6 213.1h.7M278.2 209.3h.7M278.0 216.8h.7M259.6 213.5h.7M268.3 207.3h.7M260.9 203.8h.7M264.2 208.6h.7M276.3 216.2h.7M260.7 208.3h.7M276.0 208.8h.7M271.7 210.8h.7M277.6 199.6h.7M269.2 213.6h.7M259.7 211.7h.7M263.4 209.9h.7M270.1 211.4h.7M272.2 213.6h.7M269.1 205.2h.7M272.1 216.2h.7M287.0 209.9h.7M274.7 216.3h.7M280.3 215.6h.7M261.5 216.7h.7M274.1 208.5h.7M265.5 212.4h.7M260.8 205.1h.7M265.2 209.3h.7M263.2 214.1h.7M268.8 212.8h.7M274.0 206.4h.7M263.5 214.6h.7M270.2 209.6h.7M265.6 213.0h.7M273.5 206.2h.7M258.1 210.1h.7M263.6 212.3h.7M259.9 208.8h.7M262.1 206.7h.7M271.1 209.7h.7M276.6 215.8h.7M265.7 213.1h.7M278.6 208.6h.7M264.2 213.8h.7M263.8 203.6h.7M266.0 212.2h.7M260.5 215.5h.7M261.1 211.6h.7M262.4 210.3h.7M261.0 199.2h.7M267.2 213.8h.7M261.3 209.4h.7M273.8 214.4h.7M271.3 217.3h.7M260.9 210.9h.7M275.0 207.9h.7M270.2 203.4h.7M266.4 214.2h.7M264.3 216.2h.7M266.3 208.7h.7M266.5 211.8h.7M272.3 201.1h.7M257.7 207.7h.7M260.2 212.7h.7M266.4 211.1h.7M267.6 216.1h.7M260.8 216.3h.7M271.2 214.6h.7M271.7 209.6h.7M267.1 211.0h.7M287.4 208.7h.7M289.7 203.3h.7M275.9 210.2h.7M268.6 208.4h.7M268.6 208.5h.7M275.2 205.0h.7M261.0 203.9h.7M276.7 208.0h.7M264.2 208.0h.7M256.3 215.1h.7M258.0 208.0h.7M267.5 211.6h.7M271.0 210.9h.7M273.0 210.5h.7M274.8 210.3h.7M269.9 205.5h.7M264.8 209.7h.7M276.9 213.2h.7M277.4 209.0h.7M255.4 207.8h.7M268.2 207.4h.7M271.8 213.5h.7M262.8 208.7h.7M261.2 215.0h.7M260.3 216.4h.7M275.8 208.9h.7M268.4 207.9h.7M279.0 205.5h.7M267.7 211.5h.7M261.3 212.7h.7M271.4 211.1h.7M270.6 206.3h.7M260.5 207.0h.7M274.7 209.1h.7M278.3 209.6h.7M263.1 212.1h.7M268.8 210.9h.7M260.4 213.0h.7M265.6 206.6h.7M262.2 200.4h.7M264.8 199.6h.7M265.1 193.8h.7M264.3 195.7h.7M247.1 194.9h.7M261.6 198.9h.7M247.1 199.8h.7M264.5 191.6h.7M245.0 215.3h.7M253.5 196.3h.7M249.8 197.2h.7M247.8 203.7h.7M261.6 188.5h.7M264.2 195.1h.7M262.7 204.0h.7M260.1 193.6h.7M258.2 197.6h.7M251.8 194.8h.7M251.2 195.3h.7M251.2 197.2h.7M269.6 190.8h.7M251.3 197.7h.7M251.1 196.6h.7M267.6 191.9h.7M258.4 200.7h.7M252.2 193.8h.7M258.7 201.0h.7M269.2 201.4h.7M257.4 200.1h.7M255.3 199.6h.7M258.1 186.4h.7M263.8 193.7h.7M261.9 207.8h.7M273.0 198.7h.7M258.1 187.8h.7M264.6 206.9h.7M259.3 181.7h.7M249.5 200.8h.7M260.8 192.8h.7M250.1 187.7h.7M258.1 206.7h.7M262.6 179.4h.7M255.6 204.4h.7M251.5 199.0h.7M265.9 198.1h.7M255.2 190.7h.7M260.3 203.4h.7M262.7 204.8h.7M260.7 200.3h.7M263.4 200.8h.7M264.9 192.9h.7M258.3 200.6h.7M254.1 195.4h.7M254.0 196.9h.7M267.3 206.5h.7M250.6 201.6h.7M266.4 201.5h.7M245.2 194.3h.7M261.2 201.9h.7M255.2 198.8h.7M247.8 201.5h.7M244.4 198.1h.7M248.1 200.4h.7M258.7 204.4h.7M256.5 205.4h.7M251.0 191.4h.7M257.3 209.6h.7M264.3 208.0h.7M259.1 194.9h.7M259.4 206.1h.7M263.7 200.0h.7M260.0 208.8h.7M263.1 202.0h.7M249.7 201.2h.7M249.3 198.7h.7M252.7 188.0h.7M263.0 198.1h.7M252.5 207.7h.7M261.5 187.3h.7M268.5 188.6h.7M254.3 197.6h.7M252.0 184.0h.7M261.9 194.1h.7M261.5 203.7h.7M258.9 202.8h.7M261.3 210.2h.7M268.4 195.2h.7M261.9 194.2h.7M251.4 202.1h.7M260.2 210.0h.7M252.5 204.5h.7M261.6 190.8h.7M265.0 200.4h.7M262.4 202.7h.7M256.0 210.2h.7M248.6 194.8h.7M256.4 182.8h.7M246.2 203.4h.7M265.5 212.0h.7M264.5 202.8h.7M253.2 200.1h.7M260.5 203.1h.7M260.7 204.9h.7M267.5 197.5h.7M261.2 192.7h.7M256.4 199.8h.7M249.0 195.1h.7M253.0 192.6h.7M253.6 207.8h.7M262.0 193.9h.7M276.8 165.9h.7M270.3 195.5h.7M258.2 192.2h.7" stroke="#000" stroke-width="0.7" fill="none" opacity="0.8"/>
<rect x="242.60" y="144.6" width="82.7" height="74.00" fill="none" stroke="#6c6c6c" stroke-width="1.0"/>
<text x="234.00" y="146.10" font-size="2.8" font-weight="bold" fill="#222">10<tspan dy="-1.2" font-size="2.7">4</tspan></text>
<text x="234.00" y="164.10" font-size="2.8" font-weight="bold" fill="#222">10<tspan dy="-1.2" font-size="2.7">3</tspan></text>
<text x="234.00" y="182.80" font-size="2.8" font-weight="bold" fill="#222">10<tspan dy="-1.2" font-size="2.7">2</tspan></text>
<text x="234.00" y="201.00" font-size="2.8" font-weight="bold" fill="#222">10<tspan dy="-1.2" font-size="2.7">1</tspan></text>
<text x="234.00" y="218.20" font-size="2.8" font-weight="bold" fill="#222">10<tspan dy="-1.2" font-size="2.7">0</tspan></text>
<text x="243.00" y="225.00" font-size="2.8" font-weight="bold" fill="#222">10<tspan dy="-1.2" font-size="2.7">0</tspan></text>
<text x="262.00" y="225.00" font-size="2.8" font-weight="bold" fill="#222">10<tspan dy="-1.2" font-size="2.7">1</tspan></text>
<text x="283.10" y="225.00" font-size="2.8" font-weight="bold" fill="#222">10<tspan dy="-1.2" font-size="2.7">2</tspan></text>
<text x="303.40" y="225.00" font-size="2.8" font-weight="bold" fill="#222">10<tspan dy="-1.2" font-size="2.7">3</tspan></text>
<text x="320.80" y="225.00" font-size="2.8" font-weight="bold" fill="#222">10<tspan dy="-1.2" font-size="2.7">4</tspan></text>
<path d="M243.8 178.9 H266.6 V195.6 L258.4 203.6 H243.8 Z M258.4 203.6 L266.6 195.6 H286.3 V218 H258.4 Z" fill="none" stroke="#111" stroke-width="1.4" stroke-linejoin="miter"/>
<text x="315.10" y="152.60" font-size="8.8" text-anchor="end" fill="#000" stroke="#000" stroke-width="0.32" >85</text>
<line x1="320.40" y1="149.00" x2="309.00" y2="160.60" stroke="#000" stroke-width="1.25" />
<text x="316.40" y="160.10" font-size="8.8" text-anchor="start" fill="#000" stroke="#000" stroke-width="0.32" >3</text>
<path d="M251.77 319.33L252.68 312.95L253.59 309.30L254.50 315.68L255.23 312.04L255.78 309.30L256.69 303.83L257.60 294.71L258.15 297.45L258.70 296.53L259.43 285.59L259.97 281.03L260.34 276.47L260.88 267.36L261.43 271.91L261.80 271.00L262.34 265.53L262.71 261.88L263.26 259.15L263.62 256.41L264.17 254.59L264.53 250.94L265.26 246.38L265.63 250.94L265.99 254.59L266.36 253.13L266.72 250.94L267.27 255.50L267.63 258.24L268.18 252.77L268.73 261.88L269.09 269.18L269.64 271.91L270.00 274.65L270.55 271.00L270.91 272.83L271.46 279.21L271.83 281.95L272.37 284.68L272.74 285.59L273.29 282.86L273.65 281.95L274.20 291.06L274.56 294.71L275.11 291.98L275.47 292.89L276.02 300.18L276.39 302.01L276.93 297.99L277.30 296.53L277.84 305.65L278.21 309.30L278.94 311.49L279.49 312.95L280.03 311.49L280.58 310.21L281.31 312.95L281.86 314.77L282.77 319.33Z" fill="#7f7f7f" stroke="#7f7f7f" stroke-width="0.25" stroke-linejoin="round"/>
<path d="M244.11 319.10L244.38 319.02L244.65 318.90L244.93 318.74L245.20 318.53L245.47 318.26L245.75 317.92L246.02 317.48L246.29 316.92L246.57 316.23L246.84 315.38L247.12 314.35L247.39 313.10L247.66 311.62L247.94 309.88L248.21 307.85L248.48 305.53L248.76 302.89L249.03 299.93L249.30 296.67L249.58 293.11L249.85 289.27L250.12 285.21L250.40 280.97L250.67 276.62L250.95 272.23L251.22 267.88L251.49 263.67L251.77 259.70L252.04 256.05L252.31 252.82L252.59 250.10L252.86 247.96L253.13 246.45L253.41 245.63L253.68 245.53L253.95 246.38L254.23 248.21L254.50 250.95L254.78 254.49L255.05 258.69L255.32 263.40L255.60 268.45L255.87 273.69L256.14 278.95L256.42 284.10L256.69 289.01L256.96 293.60L257.24 297.79L257.51 301.55L257.78 304.85L258.06 307.71L258.33 310.13L258.60 312.14L258.88 313.79L259.15 315.13L259.43 316.18L259.70 317.00L259.97 317.64L260.25 318.11L260.52 318.47L260.79 318.73L261.07 318.91L261.34 319.05L261.61 319.14L261.80 319.33" fill="none" stroke="#3c3c3c" stroke-width="0.85"/>
<rect x="242.20" y="245.5" width="82.60" height="74.00" fill="none" stroke="#7c7c7c" stroke-width="1.1"/>
<text x="242.60" y="325.80" font-size="2.8" font-weight="bold" fill="#222">10<tspan dy="-1.2" font-size="2.7">0</tspan></text>
<text x="261.60" y="325.80" font-size="2.8" font-weight="bold" fill="#222">10<tspan dy="-1.2" font-size="2.7">1</tspan></text>
<text x="282.70" y="325.80" font-size="2.8" font-weight="bold" fill="#222">10<tspan dy="-1.2" font-size="2.7">2</tspan></text>
<text x="303.00" y="325.80" font-size="2.8" font-weight="bold" fill="#222">10<tspan dy="-1.2" font-size="2.7">3</tspan></text>
<text x="320.40" y="325.80" font-size="2.8" font-weight="bold" fill="#222">10<tspan dy="-1.2" font-size="2.7">4</tspan></text>
<text x="321.10" y="255.00" font-size="8.8" text-anchor="end" fill="#000" stroke="#000" stroke-width="0.32" >87</text>
<text x="379.95" y="134.90" font-size="8.3" font-weight="bold" text-anchor="middle" fill="#000" stroke="#000" stroke-width="0.32" letter-spacing="0.15">inLN</text>
<clipPath id="cp3"><rect x="340.00" y="144.6" width="82.7" height="73.50"/></clipPath>
<g clip-path="url(#cp3)" opacity="1.0">
<ellipse cx="350.1" cy="191.8" rx="8.1" ry="9.1" fill="url(#blob)"/>
<ellipse cx="346.6" cy="195.2" rx="2.9" ry="2.4" fill="url(#blob)" opacity="0.8"/>
<ellipse cx="349.5" cy="197.4" rx="2.8" ry="2.3" fill="url(#blob)" opacity="0.8"/>
<ellipse cx="345.3" cy="192.5" rx="2.7" ry="2.3" fill="url(#blob)" opacity="0.8"/>
<ellipse cx="344.7" cy="193.7" rx="2.5" ry="2.3" fill="url(#blob)" opacity="0.8"/>
<ellipse cx="351.8" cy="196.8" rx="3.0" ry="2.8" fill="url(#blob)" opacity="0.8"/>
<ellipse cx="350.9" cy="186.0" rx="3.4" ry="3.6" fill="url(#blob)" opacity="0.8"/>
<ellipse cx="353.3" cy="188.5" rx="2.5" ry="3.2" fill="url(#blob)" opacity="0.8"/>
<ellipse cx="355.3" cy="189.6" rx="3.3" ry="2.5" fill="url(#blob)" opacity="0.8"/>
<ellipse cx="345.1" cy="192.3" rx="3.1" ry="3.0" fill="url(#blob)" opacity="0.8"/>
</g>
<path d="M348.4 191.4h.7M349.5 190.3h.7M345.9 186.9h.7M361.7 194.9h.7M356.3 184.9h.7M357.2 190.2h.7M354.9 194.3h.7M341.8 189.5h.7M350.8 187.4h.7M358.1 193.6h.7M352.4 198.2h.7M344.7 195.3h.7M361.0 182.9h.7M360.3 189.3h.7M347.9 191.1h.7M349.1 195.8h.7M355.7 191.8h.7M341.7 196.9h.7M357.9 185.5h.7M360.0 186.6h.7M349.0 182.6h.7M348.6 200.8h.7M354.7 194.3h.7M357.5 190.5h.7M351.5 184.4h.7M354.6 197.3h.7M361.7 183.4h.7M348.9 184.7h.7M353.4 199.0h.7M342.8 191.8h.7M343.7 188.9h.7M346.3 183.7h.7M343.3 183.4h.7M344.6 198.9h.7M356.3 186.5h.7M359.7 183.1h.7M348.8 204.4h.7M353.5 197.8h.7M347.9 183.9h.7M352.5 196.0h.7M342.8 186.2h.7M354.1 183.0h.7M346.7 200.8h.7M354.1 176.0h.7M353.7 181.8h.7M347.9 192.3h.7M343.9 189.9h.7M349.5 187.9h.7M344.0 188.9h.7M346.6 197.6h.7M347.7 183.7h.7M342.1 192.3h.7M352.5 194.8h.7M342.9 188.3h.7M356.2 193.3h.7M357.4 186.6h.7M357.2 201.3h.7M345.4 189.7h.7M343.5 191.7h.7M351.6 196.4h.7M354.0 178.6h.7M350.8 200.5h.7M350.4 188.6h.7M360.0 194.0h.7M342.9 176.8h.7M360.0 187.3h.7M357.9 190.7h.7M345.3 193.3h.7M342.3 192.4h.7M352.1 187.8h.7M355.4 184.2h.7M341.6 185.2h.7M347.2 204.3h.7M356.7 184.7h.7M340.7 191.8h.7M341.8 186.1h.7M348.2 198.5h.7M348.6 193.4h.7M347.7 205.1h.7M353.1 181.3h.7M343.1 179.8h.7M347.3 203.4h.7M353.2 192.2h.7M355.0 196.4h.7M354.4 186.8h.7M353.4 192.1h.7M352.7 187.6h.7M357.1 189.6h.7M346.5 196.3h.7M353.5 181.7h.7M358.8 195.6h.7M347.0 198.3h.7M356.6 194.5h.7M353.0 180.3h.7M355.1 183.8h.7M342.7 198.9h.7M358.9 191.6h.7M351.7 197.0h.7M350.0 201.1h.7M350.0 197.5h.7M347.4 187.0h.7M359.3 184.0h.7M346.2 183.5h.7M358.8 193.1h.7M352.0 185.7h.7M355.1 199.1h.7M348.7 184.9h.7M349.5 197.1h.7M343.3 188.6h.7M343.0 191.6h.7M360.5 190.7h.7M346.7 200.1h.7M342.9 185.9h.7M354.2 194.1h.7M355.1 184.8h.7M357.1 196.6h.7M357.9 193.9h.7M353.2 198.3h.7M343.9 183.7h.7M353.3 183.3h.7M348.8 190.9h.7M346.3 185.8h.7M347.5 180.0h.7M348.6 194.0h.7M347.9 201.9h.7M356.9 187.6h.7M349.2 198.8h.7M356.4 191.0h.7M355.6 203.5h.7M356.4 200.3h.7M344.5 182.3h.7M355.0 193.5h.7M356.1 193.6h.7M343.5 193.4h.7M359.6 195.0h.7M343.8 189.4h.7M344.0 197.4h.7M359.4 196.2h.7M352.5 204.8h.7M347.6 190.2h.7M354.7 198.1h.7M340.9 191.3h.7M345.9 198.2h.7M349.1 199.5h.7M361.1 197.9h.7M361.5 187.0h.7M353.5 181.2h.7M348.2 199.9h.7M355.8 195.6h.7M358.1 194.6h.7M351.0 197.6h.7M350.9 199.2h.7M342.8 196.4h.7M346.6 186.3h.7M352.8 196.7h.7M354.3 193.6h.7M343.6 189.5h.7M350.6 199.4h.7M360.3 191.7h.7M346.8 197.5h.7M343.1 185.3h.7M348.3 185.3h.7M354.8 184.2h.7M350.4 189.4h.7M353.2 198.5h.7M356.9 194.5h.7M351.6 183.3h.7M341.9 189.8h.7M348.1 203.9h.7M355.7 188.9h.7M342.6 190.4h.7M342.2 188.3h.7M357.5 181.6h.7M342.2 192.0h.7M351.8 188.2h.7M355.9 185.9h.7M347.5 203.4h.7M343.2 192.0h.7M349.1 187.8h.7M343.6 196.6h.7M344.9 203.5h.7M354.3 191.2h.7M350.0 184.1h.7M344.4 188.2h.7M356.1 195.3h.7M342.2 185.0h.7M348.6 180.5h.7M359.6 202.8h.7M357.9 186.2h.7M353.8 185.6h.7M359.8 196.1h.7M348.7 199.3h.7M358.4 195.4h.7M347.3 185.3h.7M351.0 194.1h.7M352.6 199.2h.7M352.7 183.1h.7M357.5 189.6h.7M357.2 192.7h.7M343.7 181.6h.7M342.1 195.1h.7M360.1 189.2h.7M346.7 198.3h.7M356.3 190.1h.7M345.9 198.6h.7M343.7 190.1h.7M351.7 200.1h.7M359.1 193.2h.7M344.7 195.9h.7M347.5 199.6h.7M351.5 183.1h.7M343.0 183.5h.7M358.7 194.1h.7M358.5 190.8h.7M356.6 185.8h.7M344.1 189.9h.7M356.0 196.2h.7M348.2 201.6h.7M354.4 182.7h.7M355.1 196.9h.7M354.2 198.2h.7M356.6 186.3h.7M349.1 190.6h.7M352.6 199.3h.7M356.9 188.6h.7M348.0 204.2h.7M348.1 202.7h.7M350.2 180.2h.7M357.4 195.2h.7M355.7 187.5h.7M357.0 188.5h.7M350.3 202.3h.7M360.0 193.1h.7M359.9 193.3h.7M346.4 195.6h.7M340.8 188.6h.7M343.0 191.2h.7M347.8 205.9h.7M342.7 188.4h.7M353.4 201.4h.7M352.0 197.3h.7M346.3 197.6h.7M355.4 196.9h.7M359.9 197.0h.7M358.7 196.0h.7M351.6 182.9h.7M342.5 191.2h.7M356.8 201.5h.7M346.7 188.6h.7M344.5 186.5h.7M356.8 197.3h.7M347.9 189.4h.7M351.4 184.6h.7M358.0 191.5h.7M351.8 183.4h.7M349.9 185.2h.7M353.5 184.9h.7M344.7 195.2h.7M361.4 195.2h.7M350.8 198.5h.7M349.6 182.1h.7M342.2 197.1h.7M357.5 191.2h.7M357.6 197.1h.7M346.2 182.9h.7M359.0 190.6h.7M350.4 195.0h.7M354.9 185.7h.7M357.6 189.6h.7M344.3 188.6h.7M341.0 193.7h.7M345.1 194.1h.7M344.5 188.0h.7M352.5 181.0h.7M348.9 201.2h.7M344.6 191.4h.7M350.6 192.7h.7M352.0 183.2h.7M352.7 199.8h.7M354.3 197.4h.7M341.0 198.8h.7M343.5 189.7h.7M346.6 199.8h.7M356.8 185.8h.7M354.5 199.4h.7M345.8 181.7h.7M356.6 198.8h.7M359.0 185.3h.7M353.9 202.5h.7M351.8 184.4h.7M353.3 185.3h.7M348.0 187.8h.7M345.2 186.9h.7M348.8 198.7h.7M348.1 196.8h.7M351.1 200.2h.7M351.9 200.0h.7M356.5 190.8h.7M343.1 183.0h.7M341.1 190.0h.7M355.3 200.1h.7M360.7 186.8h.7M356.4 190.9h.7M358.2 189.3h.7M344.4 188.5h.7M350.1 192.1h.7M353.2 205.4h.7M355.2 195.6h.7M340.8 197.7h.7M351.8 201.8h.7M350.5 180.5h.7M344.6 195.3h.7M353.6 197.0h.7M341.1 187.4h.7M357.6 192.0h.7M346.9 199.6h.7M340.9 190.9h.7M353.4 204.0h.7M356.3 192.0h.7M342.8 196.3h.7M349.7 183.4h.7M342.1 184.1h.7M346.6 200.3h.7M350.0 183.8h.7M356.2 194.1h.7M344.1 190.3h.7M358.2 194.1h.7M347.0 183.7h.7M350.0 182.8h.7M359.4 191.2h.7M347.9 196.0h.7M350.3 197.4h.7M347.1 185.3h.7M352.7 201.1h.7M356.8 187.1h.7M346.2 199.3h.7M358.8 192.7h.7M346.0 204.9h.7M355.5 187.9h.7M343.9 186.9h.7M364.2 198.3h.7M345.2 187.7h.7M348.2 185.0h.7M347.4 197.9h.7M343.8 173.1h.7M351.6 183.1h.7M344.0 201.2h.7M356.6 192.5h.7M348.3 200.3h.7M345.2 190.6h.7M343.4 193.8h.7M363.2 186.6h.7M344.1 195.0h.7M341.3 186.9h.7M342.1 195.9h.7M342.0 187.3h.7M358.3 194.4h.7M351.8 198.2h.7M355.1 187.9h.7M354.8 185.7h.7M347.6 200.6h.7M351.0 192.0h.7M355.6 195.9h.7M344.7 200.2h.7M348.3 182.4h.7M345.7 197.5h.7M352.5 191.4h.7M357.0 188.4h.7M353.2 193.0h.7M357.2 193.9h.7M350.5 191.9h.7M350.7 180.7h.7M349.1 190.7h.7M353.7 198.3h.7M347.0 198.9h.7M355.5 183.8h.7M348.4 200.0h.7M355.0 202.9h.7M350.9 183.0h.7M343.7 193.2h.7M343.3 194.1h.7M351.6 190.2h.7M361.5 187.4h.7M352.2 183.6h.7M351.2 200.1h.7M350.1 201.3h.7M359.3 196.0h.7M341.3 197.3h.7M341.0 185.4h.7M360.5 188.6h.7M357.2 183.9h.7M355.9 184.0h.7M355.4 185.1h.7M360.0 181.0h.7M345.8 199.1h.7M353.8 196.6h.7M352.8 197.5h.7M357.4 190.1h.7M348.6 200.4h.7M343.3 197.1h.7M348.3 193.0h.7M351.8 200.8h.7M342.4 197.0h.7M349.0 183.2h.7M351.9 203.4h.7M345.1 196.7h.7M349.3 183.2h.7M341.9 184.6h.7M360.4 191.4h.7M351.4 193.6h.7M349.6 198.9h.7M351.5 201.0h.7M357.3 185.7h.7M355.5 200.6h.7M344.4 188.9h.7M350.0 195.1h.7M359.5 187.9h.7M349.6 187.4h.7M348.5 189.3h.7M342.0 197.7h.7M361.3 192.5h.7M350.0 202.8h.7M357.8 191.4h.7M346.6 193.2h.7M342.6 185.7h.7M349.7 184.7h.7M352.7 183.3h.7M349.3 194.2h.7M346.8 194.9h.7M350.5 193.3h.7M349.9 191.6h.7M343.8 193.8h.7M352.6 184.5h.7M357.4 192.8h.7M356.4 191.4h.7M342.5 188.4h.7M363.1 186.1h.7M351.3 210.0h.7M360.7 179.6h.7M356.8 194.7h.7M351.4 185.5h.7M351.6 184.7h.7M357.4 191.0h.7M345.8 192.9h.7M342.9 190.2h.7M346.2 183.6h.7M351.5 198.8h.7M356.9 191.9h.7M354.1 205.0h.7M345.3 180.3h.7M357.0 184.7h.7M356.5 191.6h.7M347.3 183.4h.7M351.5 182.6h.7M361.3 191.0h.7M344.8 199.7h.7M346.4 198.9h.7M341.4 186.4h.7M351.0 182.6h.7M359.2 184.2h.7M345.4 186.2h.7M355.4 210.5h.7M357.7 179.9h.7M354.1 181.8h.7M357.7 183.8h.7M345.8 196.9h.7M363.8 188.3h.7M356.9 183.6h.7M348.7 198.7h.7M343.8 199.2h.7M359.8 187.5h.7M342.4 189.2h.7M353.1 185.6h.7M345.6 193.0h.7M349.0 192.2h.7M357.9 191.0h.7M345.7 198.0h.7M348.4 194.4h.7M358.1 195.7h.7M344.5 194.9h.7M350.7 184.0h.7M351.2 178.5h.7M350.9 197.7h.7M351.0 206.3h.7M346.3 185.8h.7M352.4 196.7h.7M344.2 181.9h.7M351.7 179.9h.7M355.4 197.7h.7M355.8 190.5h.7M350.9 184.9h.7M357.3 200.6h.7M354.4 185.9h.7M354.5 186.4h.7M347.2 191.7h.7M346.8 192.6h.7M352.7 189.9h.7M357.1 192.6h.7M344.8 182.5h.7M347.4 184.0h.7M354.7 190.0h.7M354.1 199.8h.7M349.5 183.6h.7M346.6 193.1h.7M352.6 200.5h.7M354.5 197.0h.7M347.2 187.6h.7M356.9 191.2h.7M352.9 180.8h.7M354.6 199.0h.7M347.8 183.0h.7M353.6 184.0h.7M343.6 186.8h.7M357.6 196.1h.7M353.3 198.8h.7M349.9 180.7h.7M357.1 183.6h.7M348.3 188.3h.7M352.7 182.9h.7M353.7 190.1h.7M342.0 186.9h.7M348.4 185.2h.7M360.1 194.9h.7M341.3 200.3h.7M349.7 193.0h.7M357.3 198.5h.7M353.7 185.4h.7M356.0 196.0h.7M343.2 200.2h.7M357.4 186.3h.7M343.6 185.2h.7M346.3 198.2h.7M349.6 188.1h.7M347.9 182.7h.7M353.0 181.1h.7M346.6 201.1h.7M349.3 188.6h.7M345.6 183.4h.7M359.2 190.7h.7M358.7 179.2h.7M356.6 190.1h.7M353.7 198.2h.7M358.2 186.8h.7M348.8 208.2h.7M343.9 189.7h.7M349.4 192.0h.7M357.2 187.7h.7M342.1 198.6h.7M357.0 194.1h.7M351.7 180.7h.7M343.6 195.0h.7M343.7 204.1h.7M359.2 191.1h.7M348.2 204.1h.7M345.5 185.8h.7M346.6 191.4h.7M349.4 199.5h.7M351.6 175.5h.7M351.6 184.4h.7M354.9 187.7h.7M348.5 187.2h.7M352.9 183.8h.7M344.1 193.7h.7M356.3 182.8h.7M356.7 188.6h.7M359.4 192.6h.7M359.9 193.3h.7M351.1 181.8h.7M353.6 189.6h.7M345.8 196.6h.7M345.4 184.9h.7M346.1 201.1h.7M355.7 186.7h.7M349.9 203.1h.7M347.6 201.7h.7M354.4 199.0h.7M360.5 192.3h.7M347.6 200.6h.7M350.8 181.5h.7M347.5 181.2h.7M348.6 199.9h.7M359.9 209.9h.7M350.3 199.2h.7M348.9 205.0h.7M348.2 189.3h.7M350.4 195.6h.7M351.5 191.2h.7M347.1 193.9h.7M354.6 183.8h.7M354.0 197.0h.7M354.0 197.0h.7M355.5 188.1h.7M344.9 196.7h.7M347.2 180.6h.7M352.8 199.3h.7M358.7 206.6h.7M352.7 182.6h.7M346.8 195.3h.7M345.9 197.8h.7M348.4 191.0h.7M344.4 188.0h.7M346.7 186.1h.7M357.4 203.5h.7M352.7 185.0h.7M351.2 187.5h.7M343.8 198.8h.7M353.4 184.5h.7M350.7 184.1h.7M354.0 193.4h.7M345.9 177.8h.7M344.8 194.4h.7M345.5 197.6h.7M356.4 190.7h.7M356.5 192.8h.7M343.8 192.9h.7M345.3 202.1h.7M342.7 197.5h.7M341.9 196.5h.7M350.6 199.6h.7M344.2 195.6h.7M344.1 187.7h.7M343.4 187.9h.7M344.7 205.5h.7M354.9 184.3h.7M344.3 184.2h.7M352.9 174.2h.7M346.2 178.8h.7M348.7 184.0h.7M360.8 198.4h.7M344.0 174.7h.7M342.7 185.6h.7M353.8 184.7h.7M356.2 196.2h.7M342.4 188.2h.7M354.1 198.8h.7M345.5 199.4h.7M346.7 200.9h.7M351.6 187.2h.7M343.4 190.4h.7M347.3 181.4h.7M347.4 195.9h.7M350.5 199.1h.7M358.1 198.0h.7M344.1 197.7h.7M349.2 191.5h.7M352.3 205.0h.7M341.5 196.4h.7M356.4 195.4h.7M349.3 198.0h.7M343.4 197.9h.7M352.7 205.2h.7M356.8 194.7h.7M340.8 193.3h.7M357.5 196.4h.7M346.9 185.7h.7M346.1 201.2h.7M350.0 198.6h.7M352.4 198.3h.7M343.4 186.9h.7M342.6 186.2h.7M345.8 179.3h.7M341.7 194.2h.7M356.9 200.4h.7M352.5 198.3h.7M356.5 186.5h.7M357.7 187.5h.7M348.4 177.3h.7M348.5 182.4h.7M361.1 193.9h.7M348.1 184.7h.7M353.0 202.7h.7M347.8 188.5h.7M343.7 184.8h.7M351.3 203.7h.7M355.5 186.8h.7M354.0 183.1h.7M359.5 195.9h.7M355.6 187.1h.7M349.4 183.7h.7M345.4 199.7h.7M355.9 184.4h.7M348.9 200.0h.7M360.4 176.1h.7M345.2 187.5h.7M358.1 199.1h.7M349.1 198.9h.7M350.2 199.8h.7M350.6 177.2h.7M342.1 201.7h.7M347.2 194.7h.7M355.9 188.5h.7M345.6 197.1h.7M352.7 194.2h.7M346.1 182.9h.7M350.9 190.0h.7M355.1 187.7h.7M354.0 183.2h.7M342.5 195.3h.7M358.9 195.4h.7M356.2 183.8h.7M356.0 195.0h.7M344.4 194.4h.7M361.0 192.4h.7M351.0 184.7h.7M352.3 188.6h.7M354.9 186.1h.7M347.0 195.4h.7M343.4 189.4h.7M353.6 195.3h.7M348.6 198.2h.7M351.2 183.6h.7M354.9 183.8h.7M355.6 195.4h.7M349.0 200.4h.7M356.8 198.1h.7M340.6 195.6h.7M355.3 188.5h.7M357.0 187.0h.7M354.2 192.0h.7M343.3 198.7h.7M360.3 192.3h.7M355.2 186.7h.7M355.4 187.2h.7M349.4 179.5h.7M352.0 199.0h.7M343.8 188.0h.7M356.5 191.5h.7M351.0 199.7h.7M354.5 203.0h.7M343.9 187.7h.7M356.4 186.5h.7M347.8 194.6h.7M356.0 190.2h.7M342.6 197.4h.7M346.1 189.7h.7M353.4 189.8h.7M358.5 178.8h.7M354.4 199.9h.7M350.1 205.4h.7M345.9 186.0h.7M348.5 202.2h.7M358.1 196.5h.7M353.1 199.2h.7M360.2 198.5h.7M341.8 194.4h.7M352.1 204.4h.7M350.9 200.0h.7M355.5 187.2h.7M357.6 198.7h.7M351.6 183.8h.7M354.7 201.5h.7M353.1 192.3h.7M341.1 196.7h.7M349.8 197.1h.7M344.3 195.1h.7M355.7 182.8h.7M350.3 202.2h.7M350.1 185.0h.7M357.1 197.9h.7M353.0 183.9h.7M351.1 199.3h.7M350.6 198.7h.7M351.3 180.7h.7M356.7 189.4h.7M354.1 192.2h.7M353.0 199.0h.7M347.6 183.8h.7M359.1 186.5h.7M343.5 196.8h.7M345.8 193.1h.7M343.8 197.2h.7M348.5 199.7h.7M350.6 196.2h.7M347.7 184.6h.7M348.2 198.5h.7M355.1 186.3h.7M355.8 198.3h.7M345.6 199.1h.7M355.8 188.9h.7M341.7 194.2h.7M345.1 186.9h.7M350.0 198.7h.7M345.1 187.6h.7M346.6 180.1h.7M360.7 187.7h.7M352.7 201.2h.7M342.8 183.2h.7M343.0 196.3h.7M353.0 192.3h.7M345.0 195.8h.7M358.9 189.5h.7M344.6 185.9h.7M342.3 193.4h.7M356.0 205.5h.7M356.9 189.2h.7M342.2 197.5h.7M357.3 186.6h.7M341.5 191.1h.7M347.6 196.2h.7M356.8 192.2h.7M342.8 195.9h.7M349.5 200.0h.7M344.8 197.4h.7M347.4 182.3h.7M353.5 184.6h.7M345.8 191.4h.7M342.1 198.5h.7M356.8 188.6h.7M346.9 197.6h.7M358.3 192.5h.7M349.8 183.0h.7M352.3 201.1h.7M357.1 201.9h.7M357.6 209.2h.7M342.9 193.3h.7M348.9 181.5h.7M353.5 205.7h.7M345.6 185.1h.7M347.1 197.9h.7M359.5 193.0h.7M345.1 197.3h.7M344.2 189.2h.7M349.3 200.3h.7M352.8 202.7h.7M356.4 187.3h.7M355.7 194.2h.7M353.2 203.6h.7M354.6 183.9h.7M351.2 193.3h.7M349.7 186.2h.7M343.0 190.2h.7M361.0 195.8h.7M343.2 193.5h.7M349.4 198.9h.7M354.5 196.9h.7M349.4 201.1h.7M349.6 199.6h.7M344.3 195.2h.7M342.0 191.3h.7M349.5 183.4h.7M355.8 196.5h.7M340.8 192.7h.7M348.6 184.7h.7M342.9 193.0h.7M355.8 202.7h.7M344.3 194.4h.7M343.2 189.1h.7M346.4 190.8h.7M349.9 188.2h.7M343.9 189.6h.7M348.3 187.6h.7M354.4 197.0h.7M347.5 188.9h.7M348.9 192.1h.7M344.7 195.3h.7M351.2 181.8h.7M347.3 180.1h.7M362.4 185.6h.7M345.5 184.9h.7M343.4 196.8h.7M343.8 187.0h.7M356.9 189.2h.7M355.1 185.8h.7M347.4 203.8h.7M345.3 196.5h.7M341.7 185.2h.7M351.2 190.1h.7M347.1 184.9h.7M354.8 201.7h.7M354.3 204.1h.7M347.0 204.1h.7M352.5 200.1h.7M343.4 194.6h.7M356.7 192.1h.7M348.7 189.7h.7M353.5 191.3h.7M357.3 192.3h.7M350.4 182.2h.7M347.1 199.7h.7M357.2 196.9h.7M347.1 207.2h.7M342.8 210.9h.7M351.7 211.8h.7M345.2 205.8h.7M354.1 205.9h.7M341.6 204.4h.7M356.4 209.1h.7M346.6 210.3h.7M348.9 208.5h.7M348.0 213.0h.7M353.9 204.8h.7M348.2 209.7h.7M352.5 213.5h.7M348.3 212.6h.7M355.3 215.7h.7M344.5 210.8h.7M350.8 205.0h.7M347.1 207.9h.7M353.6 210.2h.7M359.5 212.5h.7M346.6 211.3h.7M349.4 206.3h.7M350.9 203.6h.7M349.9 207.8h.7M349.4 206.8h.7M358.1 206.9h.7M353.1 210.3h.7M355.1 206.8h.7M342.1 213.3h.7M354.5 213.1h.7M356.7 210.2h.7M344.1 212.4h.7M352.2 216.4h.7M346.8 209.0h.7M341.6 209.4h.7M345.2 210.1h.7M344.9 212.1h.7M348.3 206.9h.7M352.0 212.5h.7M347.5 209.2h.7M353.2 212.4h.7M346.3 204.0h.7M345.4 211.0h.7M353.8 205.6h.7M350.9 204.1h.7M348.7 208.9h.7M357.1 201.4h.7M346.2 201.3h.7M346.3 208.6h.7M348.9 214.8h.7M344.0 207.5h.7M356.7 210.2h.7M343.7 210.1h.7M343.0 206.0h.7M346.0 203.0h.7M358.4 208.2h.7M350.1 208.9h.7M348.3 206.3h.7M351.1 208.0h.7M344.4 214.3h.7M356.9 212.1h.7M351.6 208.5h.7M349.5 213.3h.7M349.1 216.1h.7M356.5 211.1h.7M350.1 206.2h.7M346.5 207.0h.7M347.0 205.9h.7M350.9 211.5h.7M350.2 209.7h.7M349.9 207.3h.7M352.9 205.8h.7M350.4 205.1h.7M342.9 215.3h.7M355.9 207.9h.7M350.3 207.8h.7M343.9 212.0h.7M345.2 212.8h.7M350.6 207.2h.7M349.3 210.2h.7M348.0 209.0h.7M355.4 206.7h.7M349.7 214.7h.7M351.0 208.1h.7M342.8 208.8h.7M348.8 216.1h.7M352.2 214.8h.7M351.3 211.1h.7M347.6 209.6h.7M342.3 203.0h.7M349.8 208.8h.7M348.9 209.0h.7M347.6 204.8h.7M353.5 211.8h.7M345.1 213.8h.7M348.5 210.1h.7M353.5 210.0h.7M348.7 204.6h.7M350.4 211.8h.7M346.6 204.7h.7M354.0 210.7h.7M355.0 209.7h.7M362.5 204.5h.7M352.7 210.6h.7M350.2 209.1h.7M351.8 213.9h.7M349.4 205.4h.7M354.0 214.5h.7M342.7 211.1h.7M356.9 212.8h.7M346.2 211.3h.7M350.7 205.1h.7M347.4 208.6h.7M347.1 216.0h.7M345.1 215.7h.7M348.4 208.9h.7M347.7 217.1h.7M359.2 211.1h.7M343.7 208.8h.7M347.8 215.0h.7M345.8 206.7h.7M354.5 200.3h.7M343.2 209.6h.7M357.6 211.3h.7M341.2 206.3h.7M351.6 210.1h.7M344.6 209.6h.7M347.2 212.6h.7M350.4 213.4h.7M345.2 216.7h.7M356.0 212.3h.7M343.1 205.2h.7M347.8 209.5h.7M344.2 209.5h.7M341.8 211.3h.7M346.6 203.5h.7M346.5 209.1h.7M355.8 213.1h.7M346.7 213.7h.7M348.5 213.6h.7M346.6 211.3h.7M347.1 214.3h.7M358.1 217.2h.7M356.3 209.3h.7M357.3 208.7h.7M348.7 206.0h.7M353.8 202.7h.7M348.4 213.1h.7M342.9 212.2h.7M343.1 208.5h.7M350.7 216.3h.7M359.9 205.6h.7M350.0 209.5h.7M341.9 206.1h.7M350.0 210.2h.7M359.6 204.7h.7M342.3 214.9h.7M346.1 210.5h.7M355.3 207.5h.7M347.5 210.1h.7M356.4 207.1h.7M355.6 203.2h.7M345.2 206.8h.7M345.5 210.7h.7M350.2 205.9h.7M350.9 207.0h.7M351.6 211.3h.7M342.9 205.9h.7M354.0 209.6h.7M350.3 208.5h.7M357.0 212.0h.7M345.1 210.9h.7M343.0 208.1h.7M346.9 205.3h.7M344.2 214.7h.7M344.1 208.9h.7M342.3 215.6h.7M343.8 213.3h.7M352.2 212.4h.7M346.2 200.1h.7M344.1 208.9h.7M341.1 204.7h.7M350.5 209.9h.7M354.3 212.0h.7M355.6 211.2h.7M348.0 210.8h.7M353.4 214.2h.7M352.3 207.8h.7M343.3 214.4h.7M354.4 205.4h.7M349.0 205.6h.7M347.0 208.1h.7M348.5 207.9h.7M350.9 202.9h.7M352.8 206.5h.7M355.3 210.8h.7M348.1 212.2h.7M359.3 216.6h.7M344.6 216.5h.7M348.0 210.8h.7M347.0 208.4h.7M351.9 210.9h.7M352.8 207.7h.7M344.2 208.1h.7M347.5 211.6h.7M358.6 210.6h.7M358.5 214.1h.7M354.1 202.0h.7M347.0 209.9h.7M348.9 201.2h.7M356.2 211.2h.7M351.7 210.0h.7M353.9 203.5h.7M361.2 213.5h.7M351.6 216.5h.7M343.8 209.6h.7M341.0 214.3h.7M352.9 208.1h.7M347.1 209.8h.7M346.1 208.5h.7M349.6 207.3h.7M344.5 209.0h.7M340.8 199.7h.7M348.6 205.5h.7M341.0 209.3h.7M349.0 215.7h.7M345.9 209.9h.7M347.8 207.2h.7M341.7 201.2h.7M344.0 207.6h.7M350.7 204.3h.7M345.0 207.9h.7M352.1 215.3h.7M352.0 213.1h.7M355.5 213.0h.7M349.9 212.4h.7M354.0 210.7h.7M354.2 207.5h.7M342.9 209.8h.7M347.8 205.3h.7M347.0 208.1h.7M350.6 210.1h.7M345.8 208.7h.7M342.1 207.0h.7M350.2 202.1h.7M347.1 206.5h.7M349.2 212.6h.7M348.2 214.2h.7M345.9 211.5h.7M343.8 202.5h.7M343.3 208.6h.7M351.0 212.8h.7M345.3 209.4h.7M359.0 214.1h.7M360.4 207.2h.7M350.9 204.4h.7M350.8 207.1h.7M355.8 212.3h.7M344.6 210.3h.7M354.3 204.5h.7M347.6 213.0h.7M344.0 208.0h.7M345.2 214.7h.7M352.8 204.8h.7M354.5 217.3h.7M347.1 211.4h.7M352.0 213.1h.7M360.5 210.4h.7M347.2 211.0h.7M348.3 201.7h.7M353.4 211.3h.7M344.4 206.0h.7M350.4 210.7h.7M354.0 208.8h.7M342.7 210.2h.7M357.2 216.1h.7M343.8 207.4h.7M349.2 205.8h.7M351.0 200.9h.7M350.1 205.5h.7M344.9 211.2h.7M348.2 207.6h.7M348.9 206.6h.7M355.8 211.5h.7M350.5 216.3h.7M358.8 203.1h.7M349.6 204.4h.7M352.3 207.3h.7M345.2 208.7h.7M355.0 205.5h.7M350.8 208.7h.7M347.1 210.5h.7M358.3 208.0h.7M350.0 211.7h.7M340.7 208.7h.7M351.8 211.6h.7M349.4 205.4h.7M346.9 212.6h.7M345.0 214.2h.7M351.0 217.2h.7M359.3 213.2h.7M350.8 205.1h.7M349.0 212.1h.7M355.9 200.8h.7M348.4 204.6h.7M360.5 217.2h.7M349.1 208.5h.7M346.6 214.2h.7M350.5 211.0h.7M348.4 205.1h.7M341.7 216.8h.7M350.4 214.3h.7M349.5 203.6h.7M347.8 206.3h.7M343.1 210.6h.7M345.0 211.4h.7M349.6 207.6h.7M344.1 208.8h.7M354.4 214.8h.7M355.3 206.1h.7M344.1 211.0h.7M348.7 212.9h.7M351.1 203.4h.7M350.1 216.8h.7M348.3 209.7h.7M349.2 202.8h.7M352.6 211.9h.7M353.4 207.5h.7M345.1 205.1h.7M348.1 209.8h.7M351.9 205.6h.7M344.9 204.6h.7M346.2 213.8h.7M353.6 210.1h.7M354.8 211.9h.7M346.5 212.9h.7M342.1 206.7h.7M350.0 210.0h.7M345.4 208.4h.7M343.1 206.4h.7M363.3 212.7h.7M354.0 215.4h.7M340.6 213.3h.7M344.9 203.5h.7M345.9 210.4h.7M354.6 214.9h.7M349.6 215.6h.7M347.7 208.7h.7M351.6 208.9h.7M343.8 207.9h.7M347.7 207.7h.7M340.7 207.7h.7M345.7 210.5h.7M351.8 208.0h.7M352.0 206.4h.7M345.8 211.4h.7M346.7 213.1h.7M353.2 207.1h.7M360.2 213.1h.7M345.6 204.5h.7M348.0 210.1h.7M352.3 211.4h.7M352.2 203.1h.7M345.7 209.6h.7M353.0 209.3h.7M350.1 205.3h.7M355.0 210.2h.7M341.8 208.6h.7M347.5 210.6h.7M359.2 204.4h.7M355.9 204.2h.7M348.3 204.7h.7M348.5 214.9h.7M358.0 214.0h.7M348.1 213.7h.7M340.8 209.2h.7M345.0 200.2h.7M347.2 204.0h.7M355.1 205.7h.7M355.2 208.8h.7M354.5 212.7h.7M356.1 205.7h.7M341.9 210.7h.7M361.5 215.5h.7M349.2 214.8h.7M348.8 210.8h.7M355.5 211.4h.7M348.2 210.4h.7M355.2 215.8h.7M357.1 212.1h.7M343.6 213.9h.7M347.3 206.2h.7M348.3 206.6h.7M342.1 210.3h.7M343.9 213.9h.7M350.6 204.1h.7M351.2 211.7h.7M342.7 213.6h.7M346.8 208.6h.7M352.7 200.0h.7M346.0 213.1h.7M350.9 216.5h.7M351.9 210.2h.7M355.1 209.2h.7M353.1 198.1h.7M341.1 214.8h.7M354.7 212.3h.7M354.4 201.9h.7M351.3 203.8h.7M346.1 206.2h.7M354.6 206.2h.7M354.0 213.4h.7M350.8 211.8h.7M355.4 211.0h.7M352.8 212.2h.7M351.8 209.6h.7M352.3 205.6h.7M348.0 204.5h.7M348.2 214.9h.7M342.0 205.2h.7M369.0 203.9h.7M383.2 202.8h.7M373.3 207.1h.7M368.6 211.8h.7M378.8 213.2h.7M370.1 206.4h.7M370.9 210.9h.7M365.1 202.9h.7M359.2 200.3h.7M367.9 212.0h.7M369.3 205.9h.7M358.0 209.0h.7M384.6 214.2h.7M365.0 213.5h.7M365.6 206.9h.7M366.3 200.8h.7M376.4 204.9h.7M366.4 208.1h.7M369.6 203.3h.7M360.8 205.7h.7M359.1 203.0h.7M370.6 205.6h.7M369.8 205.7h.7M368.0 203.9h.7M376.0 204.2h.7M368.8 215.3h.7M376.0 203.8h.7M360.9 208.1h.7M367.4 212.8h.7M362.6 209.6h.7M364.4 204.2h.7M375.5 213.8h.7M369.8 208.5h.7M363.1 215.3h.7M359.4 212.3h.7M361.3 209.9h.7M366.6 205.3h.7M364.2 208.1h.7M362.6 203.7h.7M375.0 203.4h.7M366.3 201.7h.7M357.2 204.7h.7M380.5 207.8h.7M370.7 210.9h.7M358.7 202.6h.7M365.0 211.6h.7M366.7 201.5h.7M365.0 199.5h.7M367.6 200.7h.7M359.3 198.4h.7M360.1 204.1h.7M371.3 205.0h.7M363.8 204.5h.7M366.1 205.1h.7M357.3 205.7h.7M369.6 199.3h.7M352.3 210.6h.7M364.5 203.0h.7M355.0 205.6h.7M372.8 204.0h.7M370.2 206.3h.7M357.6 212.6h.7M372.3 205.4h.7M371.0 209.6h.7M376.7 211.2h.7M366.3 210.5h.7M364.1 202.1h.7M363.3 204.9h.7M373.8 207.3h.7M369.2 203.3h.7M370.7 204.3h.7M355.2 209.8h.7M367.1 213.5h.7M377.1 206.9h.7M356.4 196.9h.7M365.8 200.7h.7M374.7 209.3h.7M357.4 198.0h.7M375.8 212.0h.7M372.6 214.0h.7M369.1 203.6h.7M367.0 207.1h.7M361.4 206.4h.7M363.9 196.3h.7M366.8 203.9h.7M382.4 213.6h.7M371.9 206.0h.7M351.9 201.6h.7M363.0 211.5h.7M373.9 209.6h.7M358.5 206.2h.7M368.2 211.9h.7M362.3 205.7h.7M364.3 201.5h.7M361.3 210.2h.7M362.4 204.4h.7M360.3 203.0h.7M370.5 208.3h.7M368.4 207.7h.7M365.9 209.9h.7M360.5 205.3h.7M357.6 212.7h.7M370.6 207.3h.7M368.4 210.1h.7M370.5 209.7h.7M365.5 206.4h.7M372.4 210.3h.7M368.2 212.2h.7M360.2 207.1h.7M357.9 212.1h.7M370.2 207.1h.7M362.5 206.3h.7M369.9 209.5h.7M360.0 205.1h.7M362.1 206.6h.7M360.9 202.7h.7M378.2 203.8h.7M367.0 208.8h.7M374.3 212.8h.7M363.2 209.9h.7M371.6 208.6h.7M351.5 198.4h.7M360.4 215.0h.7M372.4 206.2h.7M366.2 208.1h.7M365.5 210.4h.7M360.1 204.8h.7M363.9 200.9h.7M356.8 203.0h.7M356.8 210.8h.7M372.5 209.1h.7M358.0 208.4h.7M366.2 200.4h.7M373.2 208.9h.7M370.1 196.9h.7M358.9 216.7h.7M359.1 214.7h.7M368.4 204.2h.7M360.0 202.7h.7M362.2 195.8h.7M366.7 207.1h.7M361.2 206.1h.7M361.6 212.1h.7M359.9 206.2h.7M375.6 213.6h.7M360.7 198.5h.7M378.1 202.9h.7M363.0 207.0h.7M370.7 204.6h.7M362.8 204.9h.7M357.3 211.6h.7M362.2 207.7h.7M360.4 210.9h.7M378.7 203.7h.7M365.7 206.7h.7M375.6 204.4h.7M373.2 208.3h.7M371.6 204.5h.7M360.0 205.5h.7M371.6 206.3h.7M370.8 214.2h.7M354.5 201.8h.7M361.2 203.7h.7M369.0 201.6h.7M359.3 206.2h.7M365.0 207.3h.7M365.1 199.4h.7M361.6 209.1h.7M367.4 208.8h.7M357.6 203.6h.7M353.0 205.6h.7M358.5 209.9h.7M363.1 212.3h.7M380.1 208.2h.7M368.2 201.1h.7M361.6 195.5h.7M369.7 212.9h.7M363.7 205.5h.7M366.3 204.7h.7M368.7 209.9h.7M355.9 197.0h.7M363.6 205.9h.7M355.1 210.1h.7M374.6 209.4h.7M355.5 207.8h.7M358.6 211.5h.7M367.5 208.5h.7M371.2 209.8h.7M383.2 200.3h.7M366.2 210.8h.7M370.6 194.3h.7M372.7 204.6h.7M358.1 215.1h.7M364.1 210.5h.7M369.3 209.7h.7M372.6 208.5h.7M374.1 206.9h.7M359.0 213.6h.7M365.7 210.5h.7M355.1 194.8h.7M366.1 208.1h.7M375.8 200.9h.7M359.3 208.1h.7M373.6 208.2h.7M368.9 210.8h.7M380.2 213.8h.7M363.3 199.3h.7M353.2 205.4h.7M358.9 207.4h.7M364.1 196.0h.7M372.0 209.8h.7M359.3 200.7h.7M375.3 208.1h.7M363.5 202.2h.7M360.5 214.3h.7M360.1 206.8h.7M362.4 206.1h.7M356.7 212.8h.7M365.8 210.6h.7M358.3 206.0h.7M379.1 206.6h.7M362.2 200.2h.7M360.6 209.5h.7M362.0 203.8h.7M372.9 214.5h.7M362.6 204.9h.7M354.1 202.2h.7M357.3 206.5h.7M366.3 209.1h.7M356.9 206.3h.7M351.6 204.8h.7M363.2 201.3h.7M366.2 208.7h.7M370.7 201.2h.7M355.9 206.9h.7M365.5 204.0h.7M353.6 206.8h.7M372.7 202.4h.7M368.9 200.9h.7M369.8 200.3h.7M372.4 206.5h.7M372.9 204.8h.7M355.5 202.2h.7M358.1 208.0h.7M360.6 209.5h.7M364.2 204.5h.7M361.4 205.5h.7M368.5 213.1h.7M361.7 207.0h.7M372.3 213.4h.7M359.0 201.1h.7M361.1 212.7h.7M362.0 211.4h.7M364.0 209.7h.7M368.2 206.3h.7M360.6 207.2h.7M381.7 202.1h.7M370.6 205.7h.7M355.8 206.3h.7M371.3 201.0h.7M357.4 210.4h.7M355.6 212.5h.7M373.0 203.6h.7M366.3 212.4h.7M371.5 197.3h.7M354.9 207.3h.7M373.0 214.3h.7M367.9 206.3h.7M359.1 210.3h.7M365.3 216.2h.7M378.6 210.7h.7M359.6 206.6h.7M372.9 208.3h.7M369.0 204.1h.7M378.1 205.0h.7M366.8 198.2h.7M375.0 202.1h.7M366.2 207.7h.7M367.8 204.2h.7M368.6 207.8h.7M345.2 188.1h.7M365.0 196.7h.7M356.5 209.2h.7M348.8 203.5h.7M361.3 190.0h.7M352.2 197.3h.7M342.5 183.2h.7M349.0 204.1h.7M351.6 206.0h.7M341.4 192.8h.7M355.8 202.8h.7M358.7 202.4h.7M358.3 196.2h.7M364.3 200.7h.7M348.9 201.1h.7M357.7 196.4h.7M357.6 193.2h.7M350.6 183.9h.7M350.5 204.7h.7M357.7 199.5h.7M342.4 194.8h.7M355.0 202.5h.7M354.0 190.5h.7M357.3 195.9h.7M345.5 195.2h.7M355.3 194.5h.7M350.3 194.9h.7M353.9 200.0h.7M345.6 191.6h.7M357.7 192.0h.7M346.9 186.3h.7M343.4 188.3h.7M352.8 199.4h.7M354.4 196.1h.7M357.6 194.5h.7M344.3 195.7h.7M354.4 209.4h.7M353.4 209.6h.7M352.3 185.7h.7M351.4 193.3h.7M352.6 192.7h.7M369.6 197.2h.7M352.1 194.8h.7M353.1 202.5h.7M353.3 201.5h.7M346.6 196.7h.7M352.6 196.3h.7M345.0 190.7h.7M342.5 198.0h.7M362.1 194.8h.7M343.5 192.6h.7M360.8 183.9h.7M351.0 195.8h.7M350.0 196.8h.7M356.3 197.5h.7M359.5 202.2h.7M342.3 187.7h.7M351.7 195.7h.7M354.6 187.2h.7M344.5 207.1h.7M354.3 197.5h.7M365.4 182.1h.7M354.9 193.5h.7M352.5 204.6h.7M352.6 185.2h.7M345.2 186.1h.7M361.2 190.9h.7M345.3 193.7h.7M343.7 198.1h.7M354.0 196.5h.7M361.2 192.4h.7M359.6 183.6h.7M359.8 207.5h.7M347.5 200.5h.7M346.2 195.8h.7M356.9 191.4h.7M345.6 194.4h.7M352.8 197.7h.7M353.8 183.3h.7M360.9 198.3h.7M342.9 194.0h.7M360.6 209.5h.7M352.3 191.3h.7M362.0 194.7h.7M353.1 184.2h.7M346.0 197.8h.7M366.2 197.7h.7M352.1 192.6h.7M345.2 187.0h.7M358.5 207.8h.7M351.0 189.2h.7M342.3 192.0h.7M360.5 183.8h.7M351.2 203.4h.7M364.3 190.3h.7M355.1 198.4h.7M354.4 194.5h.7M354.6 196.3h.7M352.0 193.8h.7M350.7 210.8h.7M360.7 180.5h.7M362.9 192.0h.7M355.0 179.9h.7" stroke="#000" stroke-width="0.7" fill="none" opacity="0.8"/>
<rect x="339.40" y="144.6" width="82.7" height="74.00" fill="none" stroke="#6c6c6c" stroke-width="1.0"/>
<text x="330.80" y="146.10" font-size="2.8" font-weight="bold" fill="#222">10<tspan dy="-1.2" font-size="2.7">4</tspan></text>
<text x="330.80" y="164.10" font-size="2.8" font-weight="bold" fill="#222">10<tspan dy="-1.2" font-size="2.7">3</tspan></text>
<text x="330.80" y="182.80" font-size="2.8" font-weight="bold" fill="#222">10<tspan dy="-1.2" font-size="2.7">2</tspan></text>
<text x="330.80" y="201.00" font-size="2.8" font-weight="bold" fill="#222">10<tspan dy="-1.2" font-size="2.7">1</tspan></text>
<text x="330.80" y="218.20" font-size="2.8" font-weight="bold" fill="#222">10<tspan dy="-1.2" font-size="2.7">0</tspan></text>
<text x="339.80" y="225.00" font-size="2.8" font-weight="bold" fill="#222">10<tspan dy="-1.2" font-size="2.7">0</tspan></text>
<text x="358.80" y="225.00" font-size="2.8" font-weight="bold" fill="#222">10<tspan dy="-1.2" font-size="2.7">1</tspan></text>
<text x="379.90" y="225.00" font-size="2.8" font-weight="bold" fill="#222">10<tspan dy="-1.2" font-size="2.7">2</tspan></text>
<text x="400.20" y="225.00" font-size="2.8" font-weight="bold" fill="#222">10<tspan dy="-1.2" font-size="2.7">3</tspan></text>
<text x="417.60" y="225.00" font-size="2.8" font-weight="bold" fill="#222">10<tspan dy="-1.2" font-size="2.7">4</tspan></text>
<path d="M340.6 178.9 H363.4 V195.6 L355.2 203.6 H340.6 Z M355.2 203.6 L363.4 195.6 H383.1 V218 H355.2 Z" fill="none" stroke="#111" stroke-width="1.4" stroke-linejoin="miter"/>
<text x="411.60" y="152.60" font-size="8.8" text-anchor="end" fill="#000" stroke="#000" stroke-width="0.32" >82</text>
<line x1="416.40" y1="149.00" x2="405.00" y2="160.60" stroke="#000" stroke-width="1.25" />
<text x="412.60" y="160.10" font-size="8.8" text-anchor="start" fill="#000" stroke="#000" stroke-width="0.32" >8</text>
<path d="M348.40 319.33L349.13 314.77L350.22 312.04L351.50 310.21L352.78 308.39L353.87 306.57L354.78 304.74L355.70 302.01L356.43 294.71L357.34 287.42L357.88 281.03L358.25 276.47L358.61 270.09L358.98 265.53L359.53 260.06L359.89 267.36L360.26 272.83L360.80 275.56L361.17 276.47L361.53 272.83L361.90 269.18L362.26 261.88L362.63 256.41L363.17 250.94L363.54 259.15L363.90 265.53L364.27 267.36L364.63 267.36L365.00 258.24L365.36 250.94L365.91 245.84L366.27 251.85L366.64 258.24L367.00 264.62L367.37 269.18L367.73 266.44L368.10 263.71L368.46 261.52L368.83 260.06L369.19 264.62L369.56 267.36L369.92 266.99L370.29 265.53L370.65 262.80L371.02 260.97L371.38 261.52L371.74 261.88L372.11 267.36L372.47 272.83L373.02 278.30L373.39 281.95L373.93 285.59L374.30 287.42L375.21 289.24L375.76 294.71L376.12 298.36L377.03 303.83L377.95 309.30L378.86 312.95L379.77 316.60L380.68 319.33Z" fill="#7f7f7f" stroke="#7f7f7f" stroke-width="0.25" stroke-linejoin="round"/>
<path d="M341.11 319.31L341.38 319.30L341.65 319.29L341.93 319.27L342.20 319.24L342.47 319.20L342.75 319.15L343.02 319.07L343.29 318.96L343.57 318.82L343.84 318.62L344.12 318.36L344.39 318.02L344.66 317.58L344.94 317.02L345.21 316.31L345.48 315.42L345.76 314.33L346.03 313.00L346.30 311.40L346.58 309.50L346.85 307.29L347.12 304.73L347.40 301.83L347.67 298.56L347.95 294.96L348.22 291.03L348.49 286.83L348.77 282.40L349.04 277.82L349.31 273.17L349.59 268.56L349.86 264.08L350.13 259.85L350.41 255.98L350.68 252.59L350.95 249.77L351.23 247.61L351.50 246.18L351.78 245.52L352.05 245.67L352.32 246.71L352.60 248.60L352.87 251.28L353.14 254.65L353.42 258.59L353.69 262.99L353.96 267.70L354.24 272.59L354.51 277.53L354.78 282.40L355.06 287.10L355.33 291.54L355.60 295.66L355.88 299.41L356.15 302.77L356.43 305.73L356.70 308.30L356.97 310.49L357.25 312.33L357.52 313.86L357.79 315.10L358.07 316.10L358.34 316.90L358.61 317.52L358.89 318.00L359.16 318.36L359.43 318.63L359.71 318.84L359.71 319.33" fill="none" stroke="#3c3c3c" stroke-width="0.85"/>
<rect x="339.00" y="245.5" width="82.60" height="74.00" fill="none" stroke="#7c7c7c" stroke-width="1.1"/>
<text x="339.40" y="325.80" font-size="2.8" font-weight="bold" fill="#222">10<tspan dy="-1.2" font-size="2.7">0</tspan></text>
<text x="358.40" y="325.80" font-size="2.8" font-weight="bold" fill="#222">10<tspan dy="-1.2" font-size="2.7">1</tspan></text>
<text x="379.50" y="325.80" font-size="2.8" font-weight="bold" fill="#222">10<tspan dy="-1.2" font-size="2.7">2</tspan></text>
<text x="399.80" y="325.80" font-size="2.8" font-weight="bold" fill="#222">10<tspan dy="-1.2" font-size="2.7">3</tspan></text>
<text x="417.20" y="325.80" font-size="2.8" font-weight="bold" fill="#222">10<tspan dy="-1.2" font-size="2.7">4</tspan></text>
<text x="417.40" y="255.00" font-size="8.8" text-anchor="end" fill="#000" stroke="#000" stroke-width="0.32" >93</text>
<text x="479.55" y="134.90" font-size="8.3" font-weight="bold" text-anchor="middle" fill="#000" stroke="#000" stroke-width="0.32" letter-spacing="0.15">SPL</text>
<clipPath id="cp4"><rect x="437.30" y="144.6" width="82.7" height="73.50"/></clipPath>
<g clip-path="url(#cp4)" opacity="1.0">
<ellipse cx="447.3" cy="193.2" rx="7.9" ry="8.4" fill="url(#blob)"/>
<ellipse cx="444.2" cy="196.1" rx="2.5" ry="3.2" fill="url(#blob)" opacity="0.8"/>
<ellipse cx="447.6" cy="198.5" rx="3.0" ry="2.3" fill="url(#blob)" opacity="0.8"/>
<ellipse cx="451.7" cy="190.4" rx="3.6" ry="3.6" fill="url(#blob)" opacity="0.8"/>
<ellipse cx="452.3" cy="191.0" rx="3.2" ry="2.4" fill="url(#blob)" opacity="0.8"/>
<ellipse cx="448.8" cy="197.6" rx="2.3" ry="3.2" fill="url(#blob)" opacity="0.8"/>
<ellipse cx="448.6" cy="188.4" rx="2.6" ry="3.6" fill="url(#blob)" opacity="0.8"/>
<ellipse cx="443.2" cy="196.5" rx="3.0" ry="2.5" fill="url(#blob)" opacity="0.8"/>
<ellipse cx="450.9" cy="189.4" rx="3.0" ry="2.6" fill="url(#blob)" opacity="0.8"/>
<ellipse cx="442.3" cy="192.3" rx="2.3" ry="2.6" fill="url(#blob)" opacity="0.8"/>
</g>
<path d="M458.5 197.1h.7M455.8 189.2h.7M447.6 183.3h.7M450.4 186.4h.7M452.6 197.6h.7M456.6 194.6h.7M449.4 198.5h.7M440.4 190.7h.7M441.3 187.0h.7M439.0 185.3h.7M451.4 201.7h.7M448.0 200.8h.7M458.9 204.4h.7M453.8 193.3h.7M451.2 195.2h.7M451.9 201.6h.7M440.4 193.6h.7M445.6 200.1h.7M441.3 183.9h.7M445.4 199.0h.7M441.4 190.2h.7M452.1 198.6h.7M457.9 186.8h.7M440.3 191.6h.7M452.4 198.4h.7M442.8 188.3h.7M448.5 185.9h.7M446.4 190.8h.7M442.5 180.9h.7M456.3 197.8h.7M447.0 194.3h.7M451.6 200.7h.7M450.5 200.0h.7M460.7 193.3h.7M453.4 193.0h.7M454.7 190.7h.7M454.9 196.2h.7M444.6 200.0h.7M453.2 200.9h.7M441.8 195.4h.7M438.9 194.4h.7M448.1 199.3h.7M449.0 185.3h.7M454.0 188.3h.7M442.4 182.2h.7M449.6 189.4h.7M448.3 186.5h.7M446.9 186.4h.7M446.8 185.2h.7M454.8 188.9h.7M455.9 185.8h.7M445.4 180.2h.7M449.5 187.0h.7M444.6 187.9h.7M455.7 197.7h.7M444.8 184.3h.7M454.9 187.6h.7M439.9 196.8h.7M445.7 186.7h.7M458.3 201.2h.7M449.6 195.4h.7M451.5 202.7h.7M448.3 189.8h.7M451.7 195.3h.7M444.0 201.9h.7M440.8 191.1h.7M455.1 189.7h.7M447.7 200.4h.7M442.7 197.8h.7M448.8 195.4h.7M452.7 197.1h.7M456.3 195.8h.7M447.8 188.4h.7M451.9 189.3h.7M453.0 194.7h.7M444.1 201.1h.7M440.0 189.5h.7M453.8 191.7h.7M453.5 194.4h.7M449.5 193.0h.7M440.2 201.4h.7M452.3 190.9h.7M454.0 187.4h.7M439.8 192.7h.7M459.5 185.2h.7M447.2 186.7h.7M452.6 188.0h.7M450.5 200.6h.7M446.9 180.9h.7M443.4 186.5h.7M438.1 185.1h.7M458.1 191.9h.7M447.3 206.1h.7M444.7 185.3h.7M443.8 187.6h.7M449.2 191.4h.7M444.4 196.7h.7M445.1 196.1h.7M449.2 182.7h.7M456.2 190.6h.7M451.4 187.5h.7M450.2 202.9h.7M452.8 196.5h.7M452.5 196.0h.7M440.5 189.1h.7M445.4 194.8h.7M443.1 187.6h.7M443.2 199.3h.7M454.6 193.2h.7M446.5 202.5h.7M443.4 187.4h.7M448.8 187.0h.7M446.7 184.9h.7M453.6 196.3h.7M454.3 184.9h.7M449.4 190.4h.7M449.1 192.8h.7M453.5 193.2h.7M446.4 199.5h.7M446.6 190.4h.7M443.5 193.1h.7M453.9 189.6h.7M440.8 190.0h.7M450.7 195.6h.7M446.7 200.7h.7M454.1 194.5h.7M450.1 187.9h.7M448.2 187.2h.7M439.5 189.7h.7M445.2 199.1h.7M444.5 186.3h.7M446.2 185.8h.7M447.1 202.6h.7M446.8 184.1h.7M451.2 187.1h.7M452.8 200.3h.7M442.3 192.9h.7M443.5 202.2h.7M445.7 186.3h.7M455.4 200.0h.7M442.9 182.3h.7M454.3 199.1h.7M442.9 187.0h.7M442.1 189.6h.7M446.2 196.6h.7M453.0 188.6h.7M447.5 196.8h.7M445.6 192.7h.7M447.2 184.6h.7M454.7 200.0h.7M450.5 199.1h.7M454.5 192.7h.7M442.2 197.7h.7M440.7 192.3h.7M438.1 188.2h.7M444.3 183.5h.7M451.9 201.5h.7M450.0 190.5h.7M455.2 196.5h.7M453.6 192.5h.7M444.4 200.4h.7M442.2 196.9h.7M460.9 198.1h.7M439.7 190.9h.7M450.1 201.7h.7M441.0 194.4h.7M451.6 200.6h.7M443.2 186.9h.7M452.8 188.4h.7M448.2 190.1h.7M447.5 202.0h.7M446.5 190.7h.7M440.8 180.5h.7M439.5 195.1h.7M448.7 183.4h.7M442.4 198.0h.7M439.0 192.5h.7M445.1 192.4h.7M443.7 187.7h.7M452.8 196.7h.7M445.2 186.1h.7M443.4 196.3h.7M449.2 201.8h.7M454.9 188.6h.7M455.4 192.5h.7M456.5 186.3h.7M445.9 187.6h.7M448.5 193.9h.7M438.4 191.3h.7M444.7 187.8h.7M441.7 198.6h.7M444.3 198.4h.7M445.8 194.3h.7M443.6 186.5h.7M442.4 203.9h.7M444.7 186.8h.7M448.7 201.7h.7M446.5 186.8h.7M450.2 190.3h.7M448.9 202.3h.7M450.6 186.6h.7M447.7 200.4h.7M445.5 194.0h.7M453.4 194.9h.7M454.8 193.8h.7M452.4 199.7h.7M455.8 192.0h.7M450.0 187.4h.7M446.1 184.5h.7M440.0 196.0h.7M449.8 194.1h.7M440.6 202.5h.7M451.3 192.2h.7M454.8 189.3h.7M444.8 182.9h.7M440.3 195.5h.7M455.8 196.5h.7M445.0 200.4h.7M441.7 193.7h.7M449.7 201.7h.7M441.3 190.2h.7M439.5 190.9h.7M451.1 187.6h.7M454.1 191.6h.7M440.0 193.1h.7M453.1 194.3h.7M448.5 182.5h.7M445.6 199.4h.7M444.2 201.6h.7M446.4 181.4h.7M439.5 194.3h.7M456.0 186.2h.7M440.3 193.5h.7M443.7 192.9h.7M455.5 194.4h.7M440.4 196.9h.7M448.4 193.2h.7M450.4 190.1h.7M450.7 196.0h.7M455.3 187.9h.7M454.7 196.3h.7M452.4 185.0h.7M441.0 186.0h.7M455.2 197.3h.7M439.7 193.4h.7M446.6 191.5h.7M447.8 187.0h.7M440.9 197.9h.7M449.5 195.8h.7M452.3 203.7h.7M453.3 180.0h.7M449.7 187.1h.7M449.4 201.6h.7M449.4 181.8h.7M446.4 187.1h.7M446.8 191.6h.7M453.9 203.6h.7M442.7 183.3h.7M447.6 190.6h.7M445.0 192.0h.7M439.0 199.0h.7M451.1 194.1h.7M445.0 193.0h.7M441.5 193.8h.7M452.9 188.9h.7M454.8 195.9h.7M444.9 189.1h.7M452.3 199.2h.7M445.7 183.7h.7M454.0 193.7h.7M450.2 191.7h.7M440.9 189.0h.7M440.2 199.5h.7M451.9 199.5h.7M441.0 194.2h.7M440.1 187.0h.7M459.0 191.1h.7M452.4 188.7h.7M443.4 187.8h.7M450.6 187.6h.7M442.3 197.5h.7M454.5 189.8h.7M444.4 183.8h.7M441.0 198.8h.7M451.2 204.3h.7M443.1 207.7h.7M448.1 186.7h.7M444.5 199.7h.7M438.9 187.8h.7M457.1 200.6h.7M441.0 202.4h.7M445.1 187.0h.7M444.1 184.2h.7M449.3 186.9h.7M439.0 196.7h.7M438.0 201.8h.7M451.3 199.6h.7M443.1 185.3h.7M446.0 193.0h.7M452.6 188.3h.7M448.9 187.4h.7M445.1 194.4h.7M442.8 197.5h.7M457.3 188.0h.7M448.9 183.5h.7M444.7 187.3h.7M451.3 188.5h.7M442.1 187.3h.7M448.8 181.4h.7M453.3 194.8h.7M449.8 201.6h.7M450.4 185.7h.7M456.3 192.3h.7M451.1 186.7h.7M440.8 188.9h.7M453.5 201.1h.7M453.0 196.7h.7M441.5 187.7h.7M446.9 186.6h.7M443.0 184.7h.7M440.7 191.3h.7M458.0 198.8h.7M447.8 200.8h.7M445.4 187.5h.7M454.0 198.5h.7M448.7 203.1h.7M450.6 202.4h.7M449.6 183.3h.7M442.7 199.6h.7M452.2 189.6h.7M447.2 204.4h.7M454.8 193.5h.7M442.7 197.5h.7M448.0 200.2h.7M442.2 188.5h.7M448.2 198.0h.7M447.2 185.2h.7M450.2 199.3h.7M440.8 188.2h.7M444.2 193.9h.7M450.3 186.4h.7M449.1 199.6h.7M446.0 191.9h.7M440.2 200.6h.7M451.5 186.9h.7M443.1 199.2h.7M456.6 197.1h.7M442.9 196.2h.7M457.4 197.9h.7M441.1 193.2h.7M442.5 197.7h.7M449.9 199.5h.7M445.3 203.7h.7M438.0 187.7h.7M455.2 198.2h.7M448.0 195.8h.7M449.4 199.5h.7M447.3 193.3h.7M439.8 190.3h.7M453.4 194.4h.7M440.5 193.4h.7M442.7 204.8h.7M450.2 199.5h.7M450.0 199.8h.7M446.6 185.8h.7M459.2 191.3h.7M439.9 194.6h.7M447.3 193.0h.7M439.2 190.6h.7M447.0 185.1h.7M448.1 190.0h.7M455.2 201.5h.7M445.4 185.3h.7M442.4 201.4h.7M449.6 187.0h.7M450.3 201.4h.7M444.4 184.5h.7M443.3 184.0h.7M445.0 187.4h.7M448.4 195.7h.7M448.7 190.3h.7M443.1 186.0h.7M441.4 199.6h.7M452.3 188.5h.7M453.7 194.4h.7M458.4 196.0h.7M455.6 190.7h.7M446.7 184.3h.7M438.9 187.5h.7M452.5 203.5h.7M454.0 193.4h.7M452.2 191.0h.7M444.8 186.8h.7M452.9 202.1h.7M443.3 186.5h.7M441.8 190.3h.7M447.4 187.0h.7M449.1 194.4h.7M447.6 190.6h.7M444.4 194.3h.7M444.6 200.8h.7M441.7 190.4h.7M448.9 200.4h.7M452.7 197.9h.7M452.0 199.1h.7M445.0 184.7h.7M445.6 200.2h.7M442.4 197.8h.7M458.1 194.0h.7M446.9 200.4h.7M448.0 200.2h.7M452.9 189.7h.7M453.2 181.8h.7M442.7 200.3h.7M452.3 183.9h.7M447.4 201.5h.7M452.9 195.7h.7M441.6 201.4h.7M445.6 182.5h.7M439.9 189.4h.7M442.4 201.8h.7M453.4 196.2h.7M451.2 191.5h.7M440.9 190.0h.7M438.7 195.3h.7M450.8 201.8h.7M448.6 187.3h.7M454.5 196.9h.7M445.9 194.9h.7M450.4 185.1h.7M446.8 202.6h.7M444.6 198.6h.7M447.9 197.2h.7M441.6 198.2h.7M453.3 196.5h.7M440.0 193.9h.7M444.0 202.4h.7M446.9 203.0h.7M454.1 194.4h.7M452.4 186.4h.7M449.8 193.9h.7M447.0 201.0h.7M445.4 184.0h.7M449.3 198.8h.7M456.9 190.4h.7M447.7 199.9h.7M442.3 186.2h.7M448.9 184.8h.7M451.5 197.4h.7M444.6 185.6h.7M452.1 188.9h.7M454.9 197.2h.7M453.5 189.1h.7M448.1 187.5h.7M445.9 200.6h.7M447.1 184.5h.7M454.0 187.7h.7M450.1 183.2h.7M439.9 196.4h.7M452.3 200.6h.7M445.2 202.7h.7M443.5 202.8h.7M446.7 204.1h.7M451.5 195.0h.7M448.6 202.2h.7M453.6 193.5h.7M446.9 191.7h.7M452.9 189.2h.7M440.2 194.3h.7M442.5 197.5h.7M447.9 185.1h.7M450.2 178.7h.7M454.4 181.6h.7M451.4 197.7h.7M452.6 190.2h.7M446.3 194.3h.7M446.7 188.3h.7M443.2 200.3h.7M445.2 183.6h.7M448.1 195.7h.7M441.6 191.4h.7M441.7 203.7h.7M442.1 188.1h.7M440.6 196.2h.7M442.2 190.0h.7M441.2 187.4h.7M443.4 203.8h.7M456.0 197.2h.7M442.0 196.9h.7M443.3 200.5h.7M447.5 197.8h.7M450.0 196.4h.7M457.1 198.1h.7M445.4 200.5h.7M452.0 200.6h.7M449.1 190.2h.7M439.9 189.0h.7M452.6 198.2h.7M439.6 193.5h.7M453.4 193.6h.7M451.3 184.8h.7M447.4 201.7h.7M449.5 199.0h.7M454.1 197.8h.7M449.8 191.4h.7M453.0 188.2h.7M451.0 194.8h.7M446.6 186.3h.7M442.6 193.5h.7M441.5 193.2h.7M455.5 188.0h.7M447.2 200.1h.7M449.1 202.9h.7M453.4 190.9h.7M438.4 191.5h.7M438.8 195.3h.7M440.5 200.2h.7M440.2 203.2h.7M450.2 186.3h.7M446.6 200.0h.7M438.2 187.9h.7M454.0 197.0h.7M451.1 203.2h.7M452.1 199.6h.7M452.7 203.3h.7M451.2 195.2h.7M454.3 195.1h.7M443.9 185.8h.7M446.8 180.7h.7M447.4 194.8h.7M450.7 198.7h.7M453.5 192.4h.7M443.3 198.2h.7M451.2 186.4h.7M440.5 188.3h.7M453.6 195.3h.7M453.8 197.3h.7M440.7 194.1h.7M451.1 198.9h.7M443.8 200.8h.7M450.6 200.6h.7M445.3 201.2h.7M444.5 205.6h.7M452.7 190.0h.7M449.9 191.8h.7M442.3 188.5h.7M454.9 185.3h.7M444.6 186.8h.7M443.1 190.5h.7M445.7 199.8h.7M443.1 196.1h.7M446.1 190.4h.7M457.1 192.6h.7M441.2 192.0h.7M441.1 181.5h.7M440.1 190.9h.7M438.0 188.4h.7M450.7 201.6h.7M452.9 202.5h.7M443.6 188.5h.7M441.5 200.1h.7M442.3 186.4h.7M455.6 189.3h.7M445.7 199.8h.7M449.1 199.5h.7M453.6 191.5h.7M439.0 198.6h.7M442.8 201.9h.7M452.6 194.8h.7M449.4 191.9h.7M441.1 194.8h.7M455.0 193.8h.7M440.5 187.5h.7M448.0 188.9h.7M456.9 187.5h.7M443.9 187.4h.7M441.6 198.1h.7M445.2 181.7h.7M455.3 182.8h.7M452.2 186.9h.7M446.3 199.3h.7M450.2 202.9h.7M443.4 197.1h.7M444.3 186.4h.7M457.4 196.0h.7M448.5 196.9h.7M444.0 200.8h.7M452.4 188.5h.7M439.0 193.9h.7M453.4 190.3h.7M444.9 184.5h.7M450.1 185.6h.7M439.8 196.1h.7M449.4 184.7h.7M447.7 191.1h.7M450.7 199.3h.7M449.8 193.6h.7M456.6 197.4h.7M448.5 200.2h.7M451.6 177.3h.7M439.5 190.2h.7M455.7 191.9h.7M451.5 197.3h.7M452.4 186.0h.7M444.5 195.9h.7M454.7 195.4h.7M440.0 190.1h.7M440.5 200.8h.7M453.0 195.8h.7M446.3 185.2h.7M446.7 197.6h.7M446.5 186.8h.7M440.6 195.0h.7M451.7 197.3h.7M444.2 188.1h.7M451.8 189.3h.7M442.3 182.9h.7M453.1 185.9h.7M442.8 188.8h.7M451.5 187.2h.7M448.7 199.1h.7M454.7 190.9h.7M452.9 196.8h.7M452.3 204.3h.7M442.1 189.6h.7M450.1 188.8h.7M453.1 199.8h.7M441.0 195.2h.7M439.8 194.0h.7M456.8 195.4h.7M447.2 191.5h.7M449.0 195.1h.7M444.5 196.5h.7M443.3 187.3h.7M443.3 190.9h.7M449.7 197.1h.7M454.4 193.4h.7M439.4 195.3h.7M451.4 188.3h.7M446.5 200.8h.7M452.2 199.3h.7M441.2 196.0h.7M445.6 184.9h.7M454.2 186.0h.7M441.7 182.3h.7M442.6 201.5h.7M439.9 186.9h.7M453.4 198.1h.7M439.9 188.4h.7M447.1 198.3h.7M444.3 185.6h.7M450.3 183.7h.7M438.9 183.9h.7M452.9 196.1h.7M448.2 200.0h.7M449.5 199.5h.7M453.0 182.0h.7M458.0 201.8h.7M442.3 189.2h.7M449.0 202.7h.7M445.0 197.5h.7M451.5 188.3h.7M440.2 194.0h.7M452.5 188.3h.7M456.3 190.7h.7M447.8 192.3h.7M445.1 202.4h.7M440.1 198.5h.7M452.5 189.6h.7M456.4 199.1h.7M459.9 196.2h.7M455.0 199.0h.7M447.9 186.2h.7M450.7 187.7h.7M440.8 188.4h.7M454.5 190.2h.7M448.4 179.5h.7M442.5 198.2h.7M440.9 190.8h.7M445.2 202.1h.7M448.4 199.3h.7M443.2 187.5h.7M453.2 188.7h.7M439.0 186.4h.7M441.7 194.9h.7M446.1 198.8h.7M449.3 186.5h.7M449.2 186.8h.7M447.1 200.1h.7M443.2 180.5h.7M442.6 201.7h.7M448.1 193.4h.7M448.0 185.3h.7M445.6 181.6h.7M450.2 204.8h.7M445.3 201.5h.7M454.2 195.7h.7M448.2 201.7h.7M439.1 192.2h.7M450.2 194.5h.7M454.2 193.8h.7M446.2 199.7h.7M455.7 192.4h.7M439.3 198.9h.7M444.4 200.9h.7M441.1 201.9h.7M446.6 199.6h.7M450.1 185.9h.7M449.9 199.5h.7M451.2 191.3h.7M450.1 189.2h.7M455.3 198.0h.7M450.5 201.2h.7M448.5 191.6h.7M455.2 188.1h.7M449.5 193.5h.7M449.3 185.4h.7M441.2 200.9h.7M444.6 198.6h.7M458.5 185.8h.7M439.9 202.5h.7M454.9 196.6h.7M458.3 201.5h.7M442.9 188.9h.7M449.9 201.7h.7M445.1 186.8h.7M453.1 192.5h.7M459.6 190.7h.7M443.5 186.6h.7M453.3 199.6h.7M442.3 187.8h.7M448.7 190.5h.7M452.9 189.3h.7M440.0 185.1h.7M452.3 198.5h.7M448.9 188.7h.7M442.3 201.3h.7M449.9 193.1h.7M442.2 184.3h.7M452.7 189.7h.7M456.7 198.4h.7M441.2 191.8h.7M455.0 192.8h.7M442.0 201.8h.7M450.1 201.5h.7M449.8 189.5h.7M441.0 188.6h.7M440.8 187.4h.7M443.2 187.1h.7M439.4 190.7h.7M452.3 188.1h.7M450.0 199.9h.7M443.3 194.0h.7M448.2 184.4h.7M445.5 201.5h.7M443.3 186.8h.7M448.5 185.4h.7M440.9 190.3h.7M454.7 197.5h.7M441.2 197.8h.7M447.4 186.4h.7M452.1 201.6h.7M448.5 200.0h.7M440.2 202.8h.7M440.5 189.8h.7M453.9 199.9h.7M438.6 197.3h.7M451.8 203.8h.7M439.2 189.4h.7M454.5 198.5h.7M456.3 191.9h.7M447.9 196.7h.7M440.4 193.3h.7M450.7 184.4h.7M446.4 200.5h.7M447.4 194.2h.7M447.7 187.4h.7M456.9 193.1h.7M455.4 189.1h.7M448.5 190.2h.7M453.3 191.1h.7M446.9 187.2h.7M446.0 202.2h.7M452.2 186.8h.7M450.4 186.8h.7M456.0 193.2h.7M450.7 199.1h.7M438.3 186.8h.7M440.9 190.9h.7M452.5 188.1h.7M448.8 204.2h.7M455.2 193.4h.7M441.4 188.7h.7M453.2 191.6h.7M441.9 196.3h.7M452.6 187.8h.7M443.2 188.7h.7M453.9 184.8h.7M441.3 193.9h.7M456.2 190.5h.7M453.1 193.5h.7M452.2 185.7h.7M455.5 197.7h.7M441.9 195.1h.7M452.0 188.0h.7M453.1 186.0h.7M453.3 195.9h.7M450.2 202.7h.7M444.6 190.6h.7M445.1 203.5h.7M446.8 204.0h.7M450.1 199.1h.7M456.0 190.3h.7M444.9 190.1h.7M458.1 192.1h.7M444.6 191.1h.7M449.8 186.7h.7M449.0 182.4h.7M451.3 183.7h.7M452.6 188.5h.7M456.3 194.9h.7M440.9 193.4h.7M439.7 187.7h.7M455.7 194.8h.7M439.0 183.9h.7M450.4 200.7h.7M443.5 198.7h.7M446.4 194.6h.7M445.2 186.7h.7M451.1 211.4h.7M444.4 208.8h.7M443.8 206.2h.7M448.6 210.6h.7M442.4 209.5h.7M445.1 208.6h.7M440.0 200.5h.7M449.2 213.3h.7M447.5 210.6h.7M438.8 210.0h.7M440.5 212.5h.7M446.4 206.8h.7M448.9 199.6h.7M443.2 210.6h.7M447.5 204.2h.7M449.8 216.1h.7M447.1 204.6h.7M442.8 211.5h.7M453.3 214.2h.7M449.5 216.0h.7M448.1 213.8h.7M450.4 211.6h.7M438.1 214.1h.7M455.5 213.0h.7M439.2 215.2h.7M438.4 217.2h.7M450.8 213.1h.7M451.0 206.5h.7M444.6 213.5h.7M451.0 205.9h.7M443.1 207.8h.7M438.9 205.7h.7M443.6 213.9h.7M447.8 210.3h.7M450.6 209.4h.7M446.8 210.1h.7M440.0 214.2h.7M447.3 215.2h.7M445.6 211.1h.7M448.2 215.1h.7M444.8 212.5h.7M449.5 215.4h.7M449.5 202.9h.7M454.5 206.1h.7M450.1 206.3h.7M445.1 207.6h.7M445.7 207.6h.7M449.2 213.7h.7M446.4 213.0h.7M439.4 206.3h.7M455.8 204.5h.7M439.5 202.2h.7M450.7 200.6h.7M452.8 207.9h.7M447.5 203.9h.7M446.9 201.8h.7M446.5 202.5h.7M447.2 207.6h.7M444.9 214.2h.7M450.1 210.6h.7M452.4 214.1h.7M448.7 211.6h.7M447.0 199.1h.7M439.8 212.7h.7M448.6 213.6h.7M445.8 203.4h.7M451.8 207.7h.7M446.4 206.1h.7M446.3 206.5h.7M442.5 211.5h.7M444.6 210.8h.7M447.0 209.6h.7M445.0 205.8h.7M448.4 214.8h.7M447.4 215.9h.7M440.5 210.3h.7M444.7 201.9h.7M439.7 213.6h.7M455.8 196.5h.7M449.1 207.3h.7M453.4 217.0h.7M439.6 211.8h.7M448.4 204.0h.7M439.7 206.1h.7M450.6 204.5h.7M445.6 209.0h.7M448.0 215.1h.7M457.9 198.1h.7M454.3 211.5h.7M454.1 216.2h.7M450.2 208.6h.7M444.9 209.7h.7M445.0 213.9h.7M448.8 216.1h.7M447.7 210.0h.7M451.6 213.2h.7M440.0 216.3h.7M445.5 205.4h.7M444.3 205.6h.7M445.8 205.3h.7M441.4 207.5h.7M450.3 210.3h.7M446.9 212.2h.7M448.1 208.3h.7M449.7 213.5h.7M446.4 217.4h.7M448.2 199.3h.7M447.6 211.5h.7M446.8 210.5h.7M450.5 214.4h.7M438.9 204.4h.7M447.6 201.9h.7M455.3 206.5h.7M447.0 215.3h.7M443.3 205.3h.7M448.7 205.1h.7M449.9 212.2h.7M449.6 209.9h.7M443.5 204.9h.7M438.3 201.3h.7M444.1 214.1h.7M450.8 202.0h.7M447.6 208.2h.7M447.5 206.9h.7M443.7 205.4h.7M451.8 213.0h.7M449.9 208.2h.7M450.3 208.4h.7M444.7 215.0h.7M440.6 212.5h.7M444.4 206.8h.7M446.8 204.6h.7M449.3 205.4h.7M445.2 208.9h.7M440.6 209.1h.7M446.7 215.2h.7M449.4 206.2h.7M448.3 216.0h.7M449.0 209.0h.7M446.8 204.0h.7M441.3 205.6h.7M453.8 206.6h.7M451.5 206.7h.7M452.5 205.6h.7M440.4 211.5h.7M449.9 206.8h.7M446.1 206.4h.7M442.1 214.7h.7M453.1 212.4h.7M450.0 209.9h.7M446.3 205.8h.7M449.0 211.5h.7M450.5 212.3h.7M441.8 202.6h.7M445.5 210.5h.7M439.5 210.0h.7M439.6 211.1h.7M440.1 208.2h.7M447.0 208.0h.7M447.1 208.9h.7M438.9 206.1h.7M445.6 209.5h.7M440.1 214.8h.7M449.9 203.8h.7M447.1 205.7h.7M442.4 204.8h.7M453.6 209.4h.7M451.3 207.5h.7M442.5 212.3h.7M444.1 210.6h.7M440.3 207.3h.7M451.8 213.8h.7M443.9 202.9h.7M440.1 210.9h.7M441.2 207.2h.7M447.7 205.3h.7M445.8 208.7h.7M444.6 210.3h.7M454.5 209.3h.7M439.0 213.3h.7M443.6 208.0h.7M445.1 215.9h.7M443.8 206.8h.7M448.4 206.8h.7M445.8 214.0h.7M446.7 212.8h.7M447.0 211.3h.7M444.4 213.9h.7M453.4 208.6h.7M442.7 214.4h.7M441.4 207.8h.7M452.0 209.4h.7M441.8 207.5h.7M449.6 214.6h.7M451.0 197.8h.7M439.2 206.9h.7M450.8 204.8h.7M439.1 191.4h.7M438.5 214.9h.7M453.1 209.5h.7M445.8 208.7h.7M449.8 213.1h.7M449.6 206.1h.7M449.8 214.4h.7M445.3 208.4h.7M456.2 210.0h.7M445.5 206.8h.7M442.4 199.8h.7M443.8 211.6h.7M443.0 208.7h.7M451.5 214.9h.7M441.0 211.6h.7M445.4 211.9h.7M446.7 212.6h.7M441.8 212.1h.7M438.6 207.3h.7M441.5 207.5h.7M448.0 216.0h.7M443.7 216.6h.7M444.4 209.3h.7M440.3 207.9h.7M457.1 211.9h.7M449.5 213.4h.7M438.7 207.0h.7M447.8 203.5h.7M451.0 208.9h.7M442.5 206.6h.7M451.8 211.9h.7M451.3 200.9h.7M452.1 209.7h.7M448.2 217.0h.7M440.8 208.3h.7M449.7 212.7h.7M449.5 202.7h.7M448.0 210.3h.7M449.7 203.1h.7M444.6 209.7h.7M454.1 210.6h.7M439.9 204.4h.7M445.4 196.3h.7M444.8 216.2h.7M448.7 200.3h.7M443.5 215.8h.7M440.1 207.5h.7M440.9 205.4h.7M441.8 194.7h.7M450.7 211.9h.7M444.5 211.7h.7M445.3 208.4h.7M447.3 213.5h.7M448.9 209.7h.7M453.8 209.9h.7M439.9 217.3h.7M443.8 204.9h.7M446.8 210.6h.7M445.7 203.2h.7M445.2 212.5h.7M453.8 212.4h.7M450.8 214.2h.7M450.3 213.1h.7M441.4 202.2h.7M442.8 212.8h.7M452.3 208.7h.7M444.3 217.2h.7M451.3 211.2h.7M445.7 200.6h.7M452.0 211.9h.7M445.8 210.3h.7M444.9 212.5h.7M446.1 208.9h.7M449.7 203.1h.7M446.5 207.0h.7M448.5 216.1h.7M451.4 210.1h.7M448.0 213.6h.7M451.7 206.5h.7M444.1 211.7h.7M449.0 204.6h.7M446.7 213.2h.7M440.0 214.0h.7M449.4 216.7h.7M444.8 210.6h.7M442.1 216.3h.7M445.4 209.5h.7M440.9 207.6h.7M442.7 210.2h.7M448.9 208.1h.7M445.6 205.2h.7M443.9 210.7h.7M443.8 214.0h.7M440.4 208.0h.7M448.7 215.4h.7M444.1 209.8h.7M446.4 209.1h.7M448.4 208.8h.7M450.1 212.8h.7M445.9 200.1h.7M439.3 205.3h.7M449.7 211.9h.7M446.0 202.8h.7M446.9 210.1h.7M447.7 212.9h.7M447.2 207.7h.7M446.4 195.7h.7M449.7 213.0h.7M447.2 205.5h.7M446.9 207.6h.7M446.4 214.9h.7M448.7 209.8h.7M446.8 210.3h.7M445.6 207.9h.7M448.8 207.5h.7M446.4 211.9h.7M445.4 210.7h.7M452.6 212.1h.7M446.8 207.6h.7M442.5 210.4h.7M447.1 216.1h.7M441.8 216.0h.7M445.4 210.7h.7M450.4 213.9h.7M448.3 206.3h.7M446.1 208.9h.7M451.5 205.7h.7M452.0 210.7h.7M443.4 210.6h.7M448.2 204.5h.7M451.8 209.1h.7M451.0 207.8h.7M443.5 213.6h.7M449.2 210.1h.7M439.3 215.0h.7M450.0 202.4h.7M439.3 208.8h.7M448.5 210.7h.7M439.8 211.3h.7M448.2 212.6h.7M445.4 206.5h.7M442.6 214.4h.7M447.3 210.4h.7M447.9 213.5h.7M448.1 214.9h.7M440.0 215.6h.7M450.0 207.2h.7M449.2 206.4h.7M447.8 207.8h.7M440.4 214.0h.7M439.2 212.2h.7M442.5 204.3h.7M442.4 206.5h.7M448.2 213.2h.7M454.2 198.5h.7M447.3 208.0h.7M450.7 212.2h.7M443.5 207.0h.7M454.5 205.3h.7M441.2 205.3h.7M448.0 211.5h.7M449.6 202.7h.7M447.3 205.3h.7M446.7 202.2h.7M442.1 208.2h.7M446.3 198.7h.7M447.9 206.4h.7M446.6 213.2h.7M453.0 215.7h.7M451.3 215.1h.7M439.7 207.0h.7M445.9 209.9h.7M452.1 212.9h.7M449.7 211.9h.7M439.0 216.4h.7M447.7 209.7h.7M440.0 201.7h.7M449.2 214.2h.7M439.8 201.5h.7M447.4 206.4h.7M452.1 212.5h.7M446.6 196.9h.7M453.9 208.6h.7M441.0 211.8h.7M444.3 213.1h.7M454.4 204.4h.7M451.2 205.5h.7M447.8 212.8h.7M454.8 210.6h.7M448.3 208.4h.7M444.2 207.1h.7M438.5 201.1h.7M443.6 213.1h.7M446.8 217.2h.7M439.7 207.5h.7M445.4 216.1h.7M442.1 212.6h.7M451.6 215.7h.7M444.6 209.4h.7M450.9 209.0h.7M449.4 210.4h.7M451.2 212.3h.7M448.6 208.4h.7M449.0 209.4h.7M460.8 212.1h.7M447.0 208.6h.7M448.4 212.3h.7M445.6 216.0h.7M448.5 206.9h.7M441.4 216.0h.7M444.4 207.3h.7M440.9 206.7h.7M449.5 212.9h.7M446.0 214.1h.7M451.1 214.2h.7M454.0 212.1h.7M442.1 215.4h.7M445.7 207.3h.7M451.7 211.3h.7M446.6 206.4h.7M443.1 202.6h.7M452.9 208.1h.7M445.7 210.4h.7M456.6 203.5h.7M447.8 211.5h.7M448.1 212.0h.7M448.1 216.7h.7M446.4 206.4h.7M445.2 201.8h.7M456.8 203.0h.7M452.9 207.7h.7M445.0 207.0h.7M443.6 205.4h.7M445.9 211.1h.7M447.2 216.5h.7M447.8 203.9h.7M454.1 206.1h.7M445.2 209.7h.7M444.3 211.5h.7M442.7 206.8h.7M445.6 209.7h.7M448.1 205.4h.7M451.2 214.3h.7M448.3 207.9h.7M452.1 210.1h.7M449.5 212.5h.7M440.9 211.4h.7M449.8 203.9h.7M452.6 204.8h.7M438.1 213.9h.7M450.2 213.8h.7M444.9 216.8h.7M451.9 215.3h.7M447.8 208.8h.7M445.5 207.2h.7M443.6 216.2h.7M446.0 215.7h.7M455.2 201.8h.7M443.4 208.5h.7M445.0 207.8h.7M447.5 208.6h.7M446.9 210.2h.7M448.0 197.6h.7M454.5 209.5h.7M441.7 211.5h.7M447.0 212.7h.7M439.2 207.3h.7M453.2 207.3h.7M445.1 204.2h.7M446.8 211.8h.7M445.4 214.1h.7M440.2 209.5h.7M444.0 211.3h.7M452.3 209.9h.7M449.2 213.7h.7M448.6 212.6h.7M443.3 215.2h.7M446.7 206.5h.7M447.1 213.8h.7M450.9 209.5h.7M442.4 213.7h.7M445.5 208.9h.7M439.7 207.7h.7M438.3 198.5h.7M445.9 210.7h.7M452.3 207.5h.7M448.4 209.7h.7M441.9 208.7h.7M445.9 208.7h.7M446.9 212.3h.7M441.0 208.2h.7M448.5 205.7h.7M451.7 206.0h.7M447.4 210.0h.7M445.6 207.0h.7M446.5 210.0h.7M449.5 198.7h.7M447.5 210.6h.7M442.6 213.4h.7M444.3 210.9h.7M452.7 217.2h.7M442.7 214.6h.7M450.9 207.1h.7M447.9 211.9h.7M447.0 201.8h.7M447.0 205.6h.7M446.8 214.6h.7M450.4 207.9h.7M445.1 200.9h.7M449.7 212.8h.7M448.0 207.2h.7M438.5 211.2h.7M449.8 216.5h.7M447.0 214.5h.7M439.4 216.5h.7M454.3 206.6h.7M441.6 211.2h.7M450.4 208.4h.7M451.9 210.0h.7M450.3 206.2h.7M442.5 202.8h.7M449.6 205.3h.7M450.4 210.6h.7M444.4 207.8h.7M444.4 199.1h.7M447.9 208.6h.7M449.1 203.8h.7M444.0 205.1h.7M443.6 210.1h.7M447.2 203.1h.7M451.8 212.4h.7M446.5 207.4h.7M445.0 207.0h.7M439.8 203.4h.7M443.8 216.6h.7M442.5 201.5h.7M448.4 209.4h.7M445.3 209.0h.7M441.3 215.8h.7M452.7 207.3h.7M447.3 209.9h.7M446.9 210.9h.7M448.0 211.2h.7M448.4 204.3h.7M445.5 212.9h.7M440.2 212.6h.7M453.2 207.3h.7M452.1 203.1h.7M448.9 213.2h.7M441.5 209.5h.7M443.8 207.2h.7M452.8 211.0h.7M446.2 212.5h.7M445.7 215.8h.7M441.3 206.7h.7M443.1 205.5h.7M444.2 209.2h.7M447.4 208.9h.7M443.9 206.3h.7M453.0 211.1h.7M446.8 203.1h.7M440.3 209.3h.7M447.9 212.8h.7M446.1 211.7h.7M445.2 207.2h.7M444.5 208.3h.7M448.9 216.8h.7M445.6 211.1h.7M451.1 200.7h.7M446.7 209.9h.7M446.4 207.4h.7M443.0 210.5h.7M441.6 209.7h.7M447.7 207.4h.7M444.4 208.5h.7M449.7 207.3h.7M443.1 212.6h.7M451.8 205.3h.7M452.3 204.8h.7M452.0 215.0h.7M448.1 214.4h.7M448.7 216.0h.7M447.7 213.6h.7M451.5 208.9h.7M442.6 214.2h.7M452.9 205.6h.7M449.3 204.9h.7M448.9 212.9h.7M445.0 210.7h.7M448.7 215.9h.7M448.8 205.6h.7M440.0 207.0h.7M441.0 203.3h.7M454.1 213.5h.7M441.0 209.6h.7M448.1 206.3h.7M440.7 209.3h.7M448.1 215.3h.7M441.2 205.9h.7M449.3 210.7h.7M440.0 209.9h.7M444.3 213.3h.7M450.8 211.6h.7M446.5 209.7h.7M447.2 209.2h.7M441.7 207.6h.7M446.7 213.1h.7M448.8 216.4h.7M441.6 202.4h.7M445.0 212.9h.7M451.9 201.5h.7M440.2 201.1h.7M444.9 210.8h.7M451.2 216.5h.7M441.5 211.6h.7M444.5 205.3h.7M448.7 202.6h.7M441.3 211.7h.7M440.7 208.2h.7M444.9 210.8h.7M449.4 206.0h.7M444.4 216.5h.7M446.8 213.3h.7M443.3 205.3h.7M448.3 209.5h.7M441.2 202.4h.7M441.4 208.2h.7M443.4 210.5h.7M438.4 204.5h.7M450.9 214.0h.7M450.0 214.3h.7M451.7 210.5h.7M448.3 216.8h.7M452.9 201.4h.7M447.2 213.3h.7M440.2 211.2h.7M450.6 212.5h.7M451.3 198.7h.7M443.2 209.6h.7M444.1 208.2h.7M453.3 209.9h.7M449.7 213.1h.7M450.2 211.9h.7M452.4 209.3h.7M450.0 213.9h.7M442.6 210.9h.7M450.5 207.1h.7M450.6 208.9h.7M451.1 217.1h.7M442.2 211.4h.7M439.3 202.1h.7M451.4 203.6h.7M441.8 208.6h.7M469.0 209.6h.7M470.0 212.0h.7M465.5 206.8h.7M470.6 210.1h.7M466.2 204.6h.7M470.0 197.3h.7M456.2 207.2h.7M463.1 211.9h.7M475.0 200.3h.7M467.3 207.7h.7M475.5 214.1h.7M475.0 207.4h.7M461.0 215.0h.7M470.3 208.6h.7M451.4 204.8h.7M472.9 210.5h.7M460.3 204.5h.7M466.5 202.2h.7M459.8 207.3h.7M461.6 204.8h.7M462.8 207.5h.7M470.2 209.4h.7M467.2 208.0h.7M469.9 205.5h.7M473.3 209.6h.7M469.2 205.4h.7M461.1 209.8h.7M468.8 209.7h.7M451.0 207.5h.7M472.2 206.3h.7M465.6 209.6h.7M466.7 196.9h.7M463.9 208.9h.7M449.9 204.1h.7M470.7 200.5h.7M454.6 210.4h.7M463.4 203.9h.7M463.4 192.5h.7M478.5 215.9h.7M462.3 207.3h.7M467.0 210.6h.7M463.9 202.9h.7M468.0 202.3h.7M466.1 206.1h.7M461.2 212.5h.7M461.2 211.3h.7M470.6 212.3h.7M454.8 208.5h.7M466.9 208.3h.7M468.9 208.5h.7M467.0 217.1h.7M467.1 203.5h.7M474.9 214.3h.7M451.1 213.7h.7M459.1 207.8h.7M463.0 208.5h.7M468.2 214.7h.7M460.5 208.7h.7M469.1 206.8h.7M453.7 212.6h.7M460.1 212.5h.7M454.6 215.9h.7M457.8 204.9h.7M468.6 207.5h.7M462.0 213.4h.7M475.5 216.7h.7M466.7 205.9h.7M466.5 206.9h.7M461.1 214.8h.7M465.5 209.8h.7M471.4 214.1h.7M464.8 215.2h.7M470.0 206.5h.7M469.4 209.9h.7M466.0 202.3h.7M458.2 200.0h.7M457.3 207.6h.7M465.7 208.3h.7M463.7 201.2h.7M469.1 215.4h.7M459.2 207.8h.7M466.8 205.5h.7M470.2 202.7h.7M472.8 202.3h.7M470.5 209.1h.7M458.6 210.3h.7M466.8 203.3h.7M469.2 201.1h.7M463.6 206.0h.7M450.2 206.9h.7M465.8 206.9h.7M461.4 214.5h.7M467.6 208.7h.7M459.4 202.7h.7M464.7 212.8h.7M469.7 208.8h.7M452.1 217.0h.7M456.0 205.2h.7M465.5 214.6h.7M460.6 214.3h.7M471.1 212.0h.7M465.4 208.0h.7M459.7 209.6h.7M473.3 209.4h.7M468.2 201.9h.7M470.0 203.9h.7M454.1 210.0h.7M470.5 197.9h.7M453.0 210.8h.7M472.0 210.0h.7M470.8 215.5h.7M471.4 211.3h.7M460.5 211.5h.7M467.8 209.2h.7M468.8 208.5h.7M465.6 200.6h.7M462.8 203.4h.7M464.8 203.6h.7M455.9 210.6h.7M476.0 205.7h.7M458.6 211.9h.7M468.0 209.6h.7M470.6 208.4h.7M473.2 210.3h.7M463.6 210.0h.7M473.7 215.2h.7M463.1 200.4h.7M456.7 200.3h.7M466.8 205.7h.7M464.5 203.5h.7M465.8 204.0h.7M463.2 212.4h.7M464.4 211.3h.7M455.7 198.0h.7M469.1 207.3h.7M460.9 198.1h.7M461.8 207.0h.7M468.3 200.4h.7M452.9 206.7h.7M463.0 211.0h.7M464.2 208.3h.7M460.7 200.9h.7M464.9 205.5h.7M469.5 207.5h.7M463.5 212.9h.7M465.1 199.7h.7M449.4 203.8h.7M452.6 209.1h.7M464.2 204.9h.7M454.8 209.2h.7M470.9 206.0h.7M467.9 207.4h.7M460.4 213.0h.7M461.5 205.6h.7M478.8 210.1h.7M464.2 210.2h.7M467.2 211.1h.7M468.5 211.8h.7M471.4 206.7h.7M457.1 199.5h.7M457.0 217.2h.7M475.7 199.2h.7M466.6 206.6h.7M474.6 203.0h.7M457.7 215.7h.7M462.1 212.7h.7M470.8 205.3h.7M473.3 201.4h.7M451.4 206.0h.7M474.2 202.2h.7M467.6 216.9h.7M459.3 203.0h.7M454.6 207.0h.7M462.2 215.9h.7M476.8 213.4h.7M468.9 208.3h.7M450.3 210.2h.7M471.2 204.1h.7M455.4 208.1h.7M459.2 208.3h.7M465.7 216.8h.7M455.6 214.8h.7M466.0 200.5h.7M463.2 202.4h.7M455.4 202.8h.7M454.3 210.3h.7M483.0 212.7h.7M461.7 203.3h.7M460.2 206.9h.7M461.7 198.2h.7M477.3 205.7h.7M464.3 212.8h.7M462.7 203.6h.7M463.4 196.9h.7M473.8 202.0h.7M461.2 202.6h.7M453.5 201.4h.7M455.4 192.9h.7M458.7 205.1h.7M467.3 202.6h.7M458.8 208.7h.7M469.1 211.3h.7M462.8 209.6h.7M453.4 213.0h.7M461.0 196.1h.7M465.2 209.4h.7M467.2 211.4h.7M466.8 210.9h.7M462.0 213.3h.7M477.3 214.3h.7M463.8 209.5h.7M459.6 206.3h.7M464.5 214.2h.7M462.6 212.8h.7M455.3 204.5h.7M455.9 204.1h.7M464.7 207.3h.7M457.6 206.1h.7M463.3 211.0h.7M462.3 212.8h.7M465.6 212.5h.7M473.8 206.5h.7M473.7 207.0h.7M459.9 208.6h.7M479.3 211.3h.7M476.5 208.2h.7M466.9 203.6h.7M464.2 212.7h.7M460.3 209.6h.7M455.5 204.0h.7M463.4 215.6h.7M468.0 211.3h.7M462.3 200.0h.7M460.2 211.9h.7M472.6 202.7h.7M450.9 208.8h.7M464.6 205.1h.7M480.7 210.7h.7M468.2 206.8h.7M467.1 211.7h.7M464.0 205.3h.7M463.2 204.6h.7M465.6 204.7h.7M472.1 215.2h.7M472.5 208.0h.7M458.2 210.6h.7M469.4 209.2h.7M459.6 205.6h.7M473.9 207.3h.7M470.8 210.6h.7M460.9 210.4h.7M461.7 212.4h.7M464.1 206.6h.7M461.7 204.8h.7M455.4 204.4h.7M468.5 209.8h.7M463.7 205.9h.7M469.8 202.3h.7M461.2 200.8h.7M465.6 214.6h.7M455.3 202.6h.7M472.4 205.1h.7M471.4 206.9h.7M463.5 205.5h.7M464.1 204.0h.7M466.8 204.7h.7M463.7 210.8h.7M464.1 201.0h.7M465.2 210.2h.7M462.1 210.2h.7M472.9 206.3h.7M465.3 207.0h.7M466.2 201.6h.7M463.8 211.1h.7M471.5 214.5h.7M460.1 196.3h.7M466.3 205.9h.7M471.6 202.3h.7M464.4 202.0h.7M464.0 215.0h.7M472.1 210.2h.7M470.1 209.5h.7M463.3 214.8h.7M471.6 208.9h.7M471.5 209.7h.7M472.5 200.1h.7M458.4 205.6h.7M465.8 205.7h.7M466.5 205.0h.7M460.3 206.2h.7M457.7 211.4h.7M455.3 212.6h.7M462.9 204.3h.7M476.6 206.1h.7M470.2 216.8h.7M455.8 205.6h.7M471.9 210.0h.7M467.4 210.4h.7M465.9 198.3h.7M473.9 211.3h.7M470.3 211.8h.7M465.1 204.6h.7M466.9 206.9h.7M469.5 201.5h.7M472.8 213.8h.7M457.7 199.3h.7M465.1 205.3h.7M463.1 204.4h.7M454.2 210.8h.7M454.1 209.4h.7M465.0 203.3h.7M463.7 209.0h.7M468.1 209.2h.7M470.9 199.2h.7M458.8 198.3h.7M459.1 207.9h.7M467.7 206.0h.7M454.8 211.3h.7M463.8 213.0h.7M453.6 196.9h.7M473.4 210.4h.7M466.1 212.6h.7M475.5 206.4h.7M459.9 213.6h.7M468.4 203.4h.7M471.2 204.5h.7M471.6 208.3h.7M457.4 207.9h.7M463.2 207.3h.7M465.7 209.9h.7M468.7 210.1h.7M461.2 214.1h.7M469.8 209.7h.7M466.5 208.2h.7M460.4 202.0h.7M468.3 213.7h.7M467.7 204.8h.7M465.8 209.3h.7M458.5 209.2h.7M477.0 204.9h.7M457.9 206.1h.7M464.8 205.9h.7M467.5 205.7h.7M466.2 209.2h.7M455.1 202.4h.7M456.8 201.9h.7M470.4 205.1h.7M473.4 213.5h.7M461.6 202.8h.7M460.9 213.4h.7M450.3 205.1h.7M475.5 205.2h.7M469.7 213.0h.7M466.5 210.8h.7M468.1 210.1h.7M454.5 213.6h.7M473.6 205.7h.7M457.1 208.6h.7M464.7 210.5h.7M464.9 208.3h.7M458.0 213.2h.7M463.3 212.9h.7M466.5 201.4h.7M468.2 210.7h.7M463.4 208.2h.7M461.2 207.7h.7M467.3 205.7h.7M461.6 212.3h.7M457.7 206.3h.7M477.1 212.4h.7M461.4 205.0h.7M455.1 211.8h.7M464.6 211.4h.7M468.8 204.7h.7M476.2 213.2h.7M473.0 204.7h.7M463.8 206.1h.7M465.9 210.8h.7M464.9 201.2h.7M470.7 209.9h.7M449.2 201.1h.7M445.8 195.0h.7M456.4 202.9h.7M453.2 192.9h.7M453.6 196.4h.7M448.0 204.4h.7M440.4 195.9h.7M462.0 178.9h.7M460.2 201.6h.7M451.2 181.8h.7M454.3 193.7h.7M450.3 200.6h.7M450.6 191.7h.7M466.9 207.5h.7M448.3 203.0h.7M459.6 198.3h.7M456.2 202.7h.7M452.1 203.0h.7M448.1 204.9h.7M438.4 204.2h.7M442.4 194.1h.7M458.2 207.6h.7M457.8 198.7h.7M455.4 198.9h.7M449.3 197.4h.7M458.8 196.5h.7M457.5 199.7h.7M450.8 197.7h.7M460.1 200.4h.7M449.7 191.1h.7M451.5 192.7h.7M464.8 196.2h.7M448.0 191.7h.7M452.3 190.6h.7M457.6 184.0h.7M446.2 188.8h.7M445.8 204.8h.7M460.0 184.0h.7M457.5 204.7h.7M451.0 200.5h.7M449.6 191.6h.7M448.9 193.6h.7M455.2 206.1h.7M443.2 196.4h.7M456.4 207.6h.7M455.1 187.0h.7M453.6 193.5h.7M449.6 193.8h.7M453.1 199.1h.7M443.4 192.9h.7M446.2 214.0h.7M458.3 188.7h.7M455.0 196.0h.7M447.1 199.7h.7M453.2 188.3h.7M447.9 195.5h.7M448.1 203.5h.7M450.4 195.4h.7M449.2 207.2h.7M455.0 192.3h.7M452.1 204.1h.7M446.8 196.6h.7M443.4 196.4h.7M450.4 190.2h.7M462.1 195.1h.7M451.7 207.3h.7M450.8 185.8h.7M455.0 192.8h.7M447.6 199.3h.7M456.3 204.1h.7M461.7 201.3h.7M445.0 205.4h.7M459.1 195.2h.7M459.6 185.9h.7M456.4 189.8h.7M439.4 193.5h.7M446.3 193.4h.7M457.0 189.2h.7M445.9 187.2h.7M448.9 188.1h.7M449.4 199.2h.7M444.7 202.3h.7M451.6 195.8h.7M444.0 212.1h.7M447.1 181.8h.7M453.8 202.2h.7M443.7 190.8h.7M458.5 194.2h.7M457.9 189.5h.7M439.5 194.8h.7M445.0 193.9h.7M444.5 188.7h.7M447.1 199.9h.7M449.2 201.8h.7M443.0 193.3h.7M440.6 193.0h.7M462.9 196.5h.7M453.1 191.0h.7M452.3 185.6h.7M466.7 179.6h.7M456.1 192.9h.7M451.5 194.0h.7M458.0 193.6h.7M453.3 192.6h.7M462.8 194.2h.7M451.7 199.5h.7M460.2 191.9h.7M447.5 186.5h.7M449.8 198.2h.7M465.8 187.7h.7M470.6 179.0h.7M471.0 165.9h.7M451.7 172.9h.7" stroke="#000" stroke-width="0.7" fill="none" opacity="0.8"/>
<rect x="436.70" y="144.6" width="82.7" height="74.00" fill="none" stroke="#6c6c6c" stroke-width="1.0"/>
<text x="428.10" y="146.10" font-size="2.8" font-weight="bold" fill="#222">10<tspan dy="-1.2" font-size="2.7">4</tspan></text>
<text x="428.10" y="164.10" font-size="2.8" font-weight="bold" fill="#222">10<tspan dy="-1.2" font-size="2.7">3</tspan></text>
<text x="428.10" y="182.80" font-size="2.8" font-weight="bold" fill="#222">10<tspan dy="-1.2" font-size="2.7">2</tspan></text>
<text x="428.10" y="201.00" font-size="2.8" font-weight="bold" fill="#222">10<tspan dy="-1.2" font-size="2.7">1</tspan></text>
<text x="428.10" y="218.20" font-size="2.8" font-weight="bold" fill="#222">10<tspan dy="-1.2" font-size="2.7">0</tspan></text>
<text x="437.10" y="225.00" font-size="2.8" font-weight="bold" fill="#222">10<tspan dy="-1.2" font-size="2.7">0</tspan></text>
<text x="456.10" y="225.00" font-size="2.8" font-weight="bold" fill="#222">10<tspan dy="-1.2" font-size="2.7">1</tspan></text>
<text x="477.20" y="225.00" font-size="2.8" font-weight="bold" fill="#222">10<tspan dy="-1.2" font-size="2.7">2</tspan></text>
<text x="497.50" y="225.00" font-size="2.8" font-weight="bold" fill="#222">10<tspan dy="-1.2" font-size="2.7">3</tspan></text>
<text x="514.90" y="225.00" font-size="2.8" font-weight="bold" fill="#222">10<tspan dy="-1.2" font-size="2.7">4</tspan></text>
<path d="M437.9 178.9 H460.7 V195.6 L452.5 203.6 H437.9 Z M452.5 203.6 L460.7 195.6 H480.4 V218 H452.5 Z" fill="none" stroke="#111" stroke-width="1.4" stroke-linejoin="miter"/>
<text x="508.60" y="152.60" font-size="8.8" text-anchor="end" fill="#000" stroke="#000" stroke-width="0.32" >80</text>
<line x1="513.60" y1="149.00" x2="502.20" y2="160.60" stroke="#000" stroke-width="1.25" />
<text x="509.70" y="160.10" font-size="8.8" text-anchor="start" fill="#000" stroke="#000" stroke-width="0.32" >7</text>
<path d="M441.21 319.33L443.03 316.60L444.31 313.86L445.77 314.77L446.68 312.95L447.22 311.12L447.77 306.57L448.14 303.83L449.05 302.01L449.96 300.18L450.87 301.09L451.78 303.83L452.70 307.48L453.61 309.30L454.52 305.65L455.43 300.18L456.34 294.71L457.26 291.98L457.98 296.53L458.53 293.25L458.90 291.06L459.63 283.77L460.36 280.12L461.09 274.65L461.45 270.09L461.81 267.36L462.54 265.53L462.91 262.25L463.27 260.06L464.00 261.88L464.37 259.70L464.73 258.24L465.10 255.50L465.46 252.77L465.83 248.75L466.19 245.84L466.56 249.48L466.92 252.77L467.29 250.94L467.65 250.03L468.02 252.40L468.38 253.68L468.74 250.03L469.11 247.29L469.47 250.58L469.84 252.77L470.20 251.49L470.57 250.94L470.93 254.95L471.30 258.24L472.03 263.71L472.76 262.80L473.12 270.09L473.49 276.47L473.85 283.77L474.22 289.24L474.95 294.71L475.67 302.01L476.40 311.12L477.13 312.95L477.86 316.60L478.59 319.33Z" fill="#7f7f7f" stroke="#7f7f7f" stroke-width="0.25" stroke-linejoin="round"/>
<path d="M439.38 319.05L439.66 318.94L439.93 318.80L440.20 318.61L440.48 318.36L440.75 318.04L441.02 317.64L441.30 317.12L441.57 316.48L441.84 315.68L442.12 314.71L442.39 313.54L442.67 312.14L442.94 310.49L443.21 308.56L443.49 306.34L443.76 303.80L444.03 300.95L444.31 297.79L444.58 294.32L444.85 290.58L445.13 286.59L445.40 282.40L445.67 278.08L445.95 273.69L446.22 269.32L446.50 265.05L446.77 260.99L447.04 257.22L447.32 253.85L447.59 250.95L447.86 248.60L448.14 246.88L448.41 245.83L448.68 245.47L448.96 245.87L449.23 247.05L449.50 248.97L449.78 251.58L450.05 254.79L450.33 258.51L450.60 262.63L450.87 267.04L451.15 271.62L451.42 276.27L451.69 280.89L451.97 285.37L452.24 289.66L452.51 293.68L452.79 297.40L453.06 300.78L453.33 303.80L453.61 306.48L453.88 308.80L454.16 310.80L454.43 312.49L454.70 313.91L454.98 315.08L455.25 316.03L455.52 316.80L455.80 317.41L456.07 317.89L456.34 318.26L456.62 318.54L456.89 318.76L457.16 318.92L457.44 319.04L457.62 319.33" fill="none" stroke="#3c3c3c" stroke-width="0.85"/>
<rect x="436.30" y="245.5" width="83.40" height="74.00" fill="none" stroke="#7c7c7c" stroke-width="1.1"/>
<text x="436.70" y="325.80" font-size="2.8" font-weight="bold" fill="#222">10<tspan dy="-1.2" font-size="2.7">0</tspan></text>
<text x="455.70" y="325.80" font-size="2.8" font-weight="bold" fill="#222">10<tspan dy="-1.2" font-size="2.7">1</tspan></text>
<text x="476.80" y="325.80" font-size="2.8" font-weight="bold" fill="#222">10<tspan dy="-1.2" font-size="2.7">2</tspan></text>
<text x="497.10" y="325.80" font-size="2.8" font-weight="bold" fill="#222">10<tspan dy="-1.2" font-size="2.7">3</tspan></text>
<text x="514.50" y="325.80" font-size="2.8" font-weight="bold" fill="#222">10<tspan dy="-1.2" font-size="2.7">4</tspan></text>
<text x="514.70" y="255.00" font-size="8.8" text-anchor="end" fill="#000" stroke="#000" stroke-width="0.32" >90</text>
<text transform="translate(13.5,179.3) rotate(-90)" font-size="8.4" font-weight="bold" stroke="#000" stroke-width="0.2" text-anchor="middle">CD4+</text>
<text transform="translate(29.5,206.5) rotate(-90)" font-size="8.3" stroke="#000" stroke-width="0.25" text-anchor="middle">CD127</text>
<line x1="31.70" y1="224.80" x2="31.70" y2="185.00" stroke="#000" stroke-width="1.1" />
<path d="M31.7 182.0 L29.7 187.0 H33.7 Z" fill="#000"/>
<line x1="41.00" y1="231.00" x2="82.20" y2="231.00" stroke="#000" stroke-width="1.1" />
<path d="M85.2 231.0 L80.2 229.0 V233.0 Z" fill="#000"/>
<text x="62.00" y="238.90" font-size="8.6" text-anchor="middle" fill="#000" stroke="#000" stroke-width="0.32" >CD25</text>
<line x1="40.20" y1="336.00" x2="81.20" y2="336.00" stroke="#000" stroke-width="1.1" />
<path d="M84.2 336.0 L79.2 334.0 V338.0 Z" fill="#000"/>
<text x="60.70" y="344.00" font-size="8.3" text-anchor="middle" fill="#000" stroke="#000" stroke-width="0.32" letter-spacing="0.3">FoxP3</text>
<text x="-0.50" y="357.00" font-size="11.8" font-weight="bold" text-anchor="start" fill="#000" stroke="#000"  stroke-width="0.6">C</text>
<line x1="35.40" y1="359.40" x2="35.40" y2="466.00" stroke="#000" stroke-width="1.2" />
<line x1="155.50" y1="359.40" x2="155.50" y2="466.00" stroke="#000" stroke-width="1.2" />
<line x1="31.00" y1="449.90" x2="155.50" y2="449.90" stroke="#000" stroke-width="1.2" />
<line x1="31.00" y1="449.90" x2="35.40" y2="449.90" stroke="#000" stroke-width="1.1" />
<text x="30.10" y="453.05" font-size="8.6" text-anchor="end" fill="#000" stroke="#000" stroke-width="0.32" >0</text>
<line x1="31.00" y1="419.90" x2="35.40" y2="419.90" stroke="#000" stroke-width="1.1" />
<text x="30.60" y="423.05" font-size="8.6" text-anchor="end" fill="#000" stroke="#000" stroke-width="0.32" >5</text>
<line x1="31.00" y1="389.90" x2="35.40" y2="389.90" stroke="#000" stroke-width="1.1" />
<text x="30.10" y="393.05" font-size="8.6" text-anchor="end" fill="#000" stroke="#000" stroke-width="0.32" >10</text>
<line x1="31.00" y1="359.90" x2="35.40" y2="359.90" stroke="#000" stroke-width="1.1" />
<text x="30.60" y="363.05" font-size="8.6" text-anchor="end" fill="#000" stroke="#000" stroke-width="0.32" >15</text>
<text transform="translate(14.2,404.40) rotate(-90)" font-size="8.4" font-weight="bold" stroke="#000" stroke-width="0.2" text-anchor="middle">% Treg of CD4+ cells</text>
<text x="49.80" y="462.90" font-size="8.3" text-anchor="middle" fill="#000" stroke="#000" stroke-width="0.32" >PB</text>
<text x="72.80" y="462.90" font-size="8.3" text-anchor="middle" fill="#000" stroke="#000" stroke-width="0.32" >BM</text>
<text x="95.30" y="462.90" font-size="8.3" text-anchor="middle" fill="#000" stroke="#000" stroke-width="0.32" >IlLN</text>
<text x="117.80" y="462.90" font-size="8.3" text-anchor="middle" fill="#000" stroke="#000" stroke-width="0.32" >inLN</text>
<text x="140.40" y="462.90" font-size="8.3" text-anchor="middle" fill="#000" stroke="#000" stroke-width="0.32" >SPL</text>
<line x1="40.30" y1="416.01" x2="55.75" y2="416.01" stroke="#000" stroke-width="1.2" />
<circle cx="47.7" cy="399.5" r="1.7" fill="#000"/>
<circle cx="50.1" cy="407.3" r="1.7" fill="#000"/>
<circle cx="45.5" cy="410.7" r="1.7" fill="#000"/>
<circle cx="48.0" cy="413.6" r="1.7" fill="#000"/>
<circle cx="44.4" cy="415.7" r="1.7" fill="#000"/>
<circle cx="50.8" cy="415.7" r="1.7" fill="#000"/>
<circle cx="49.1" cy="415.0" r="1.7" fill="#000"/>
<circle cx="46.5" cy="416.5" r="1.7" fill="#000"/>
<circle cx="47.3" cy="418.2" r="1.7" fill="#000"/>
<circle cx="42.9" cy="422.4" r="1.7" fill="#000"/>
<circle cx="52.0" cy="423.0" r="1.7" fill="#000"/>
<circle cx="47.7" cy="424.1" r="1.7" fill="#000"/>
<line x1="63.48" y1="406.57" x2="79.79" y2="406.57" stroke="#000" stroke-width="1.2" />
<circle cx="69.1" cy="386.7" r="1.7" fill="#000"/>
<circle cx="73.8" cy="386.3" r="1.7" fill="#000"/>
<circle cx="71.7" cy="397.8" r="1.7" fill="#000"/>
<circle cx="67.3" cy="400.0" r="1.7" fill="#000"/>
<circle cx="76.0" cy="400.6" r="1.7" fill="#000"/>
<circle cx="71.7" cy="403.5" r="1.7" fill="#000"/>
<circle cx="67.3" cy="410.7" r="1.7" fill="#000"/>
<circle cx="76.0" cy="410.3" r="1.7" fill="#000"/>
<circle cx="71.7" cy="412.9" r="1.7" fill="#000"/>
<circle cx="71.7" cy="424.9" r="1.7" fill="#000"/>
<circle cx="71.7" cy="430.4" r="1.7" fill="#000"/>
<circle cx="71.7" cy="438.7" r="1.7" fill="#000"/>
<line x1="87.21" y1="420.82" x2="104.03" y2="420.82" stroke="#000" stroke-width="1.2" />
<circle cx="95.5" cy="379.1" r="1.7" fill="#000"/>
<circle cx="95.5" cy="397.5" r="1.7" fill="#000"/>
<circle cx="95.8" cy="414.3" r="1.7" fill="#000"/>
<circle cx="93.7" cy="416.7" r="1.7" fill="#000"/>
<circle cx="97.7" cy="420.0" r="1.7" fill="#000"/>
<circle cx="93.4" cy="420.3" r="1.7" fill="#000"/>
<circle cx="95.5" cy="425.5" r="1.7" fill="#000"/>
<circle cx="100.1" cy="429.7" r="1.7" fill="#000"/>
<circle cx="90.8" cy="432.1" r="1.7" fill="#000"/>
<circle cx="95.5" cy="433.9" r="1.7" fill="#000"/>
<circle cx="95.5" cy="438.7" r="1.7" fill="#000"/>
<line x1="111.24" y1="422.88" x2="127.73" y2="422.88" stroke="#000" stroke-width="1.2" />
<circle cx="119.5" cy="390.1" r="1.7" fill="#000"/>
<circle cx="115.2" cy="414.6" r="1.7" fill="#000"/>
<circle cx="119.5" cy="412.9" r="1.7" fill="#000"/>
<circle cx="124.1" cy="417.2" r="1.7" fill="#000"/>
<circle cx="119.5" cy="419.3" r="1.7" fill="#000"/>
<circle cx="117.3" cy="426.3" r="1.7" fill="#000"/>
<circle cx="121.7" cy="427.5" r="1.7" fill="#000"/>
<circle cx="115.2" cy="430.1" r="1.7" fill="#000"/>
<circle cx="119.5" cy="434.4" r="1.7" fill="#000"/>
<circle cx="124.1" cy="433.5" r="1.7" fill="#000"/>
<line x1="135.28" y1="417.73" x2="151.76" y2="417.73" stroke="#000" stroke-width="1.2" />
<circle cx="143.5" cy="408.1" r="1.7" fill="#000"/>
<circle cx="140.9" cy="412.6" r="1.7" fill="#000"/>
<circle cx="146.1" cy="413.8" r="1.7" fill="#000"/>
<circle cx="139.2" cy="416.7" r="1.7" fill="#000"/>
<circle cx="143.2" cy="416.0" r="1.7" fill="#000"/>
<circle cx="147.0" cy="416.4" r="1.7" fill="#000"/>
<circle cx="141.5" cy="419.8" r="1.7" fill="#000"/>
<circle cx="145.2" cy="418.9" r="1.7" fill="#000"/>
<circle cx="138.9" cy="423.7" r="1.7" fill="#000"/>
<circle cx="147.8" cy="422.9" r="1.7" fill="#000"/>
<circle cx="143.5" cy="425.3" r="1.7" fill="#000"/>
<circle cx="141.3" cy="434.0" r="1.7" fill="#000"/>
<circle cx="145.8" cy="433.5" r="1.7" fill="#000"/>
</svg>
</body></html>
